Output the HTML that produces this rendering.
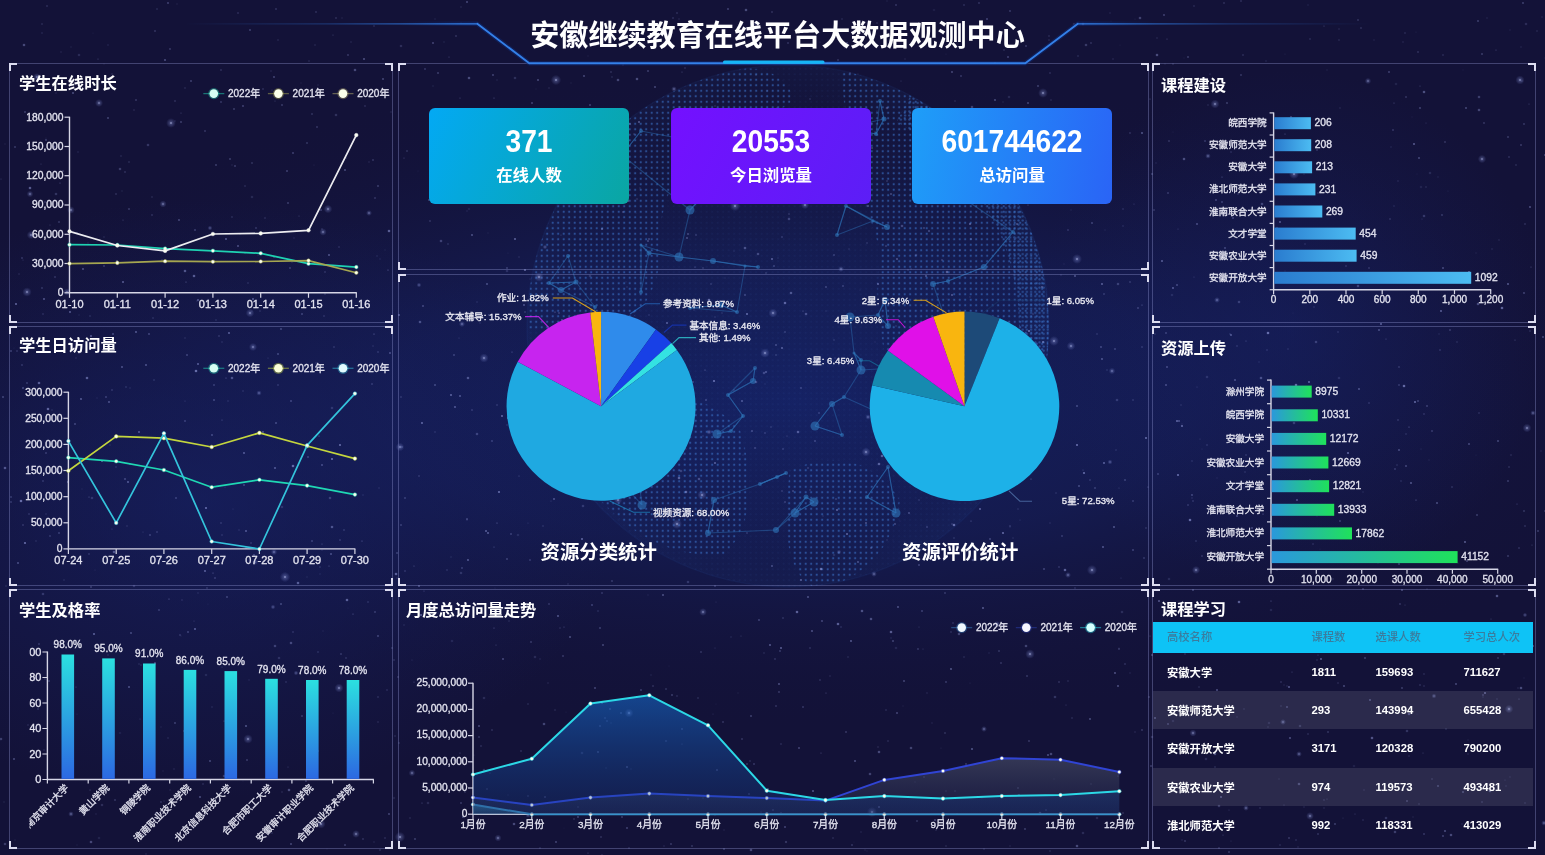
<!DOCTYPE html>
<html lang="zh-CN"><head><meta charset="utf-8"><title>安徽继续教育在线平台大数据观测中心</title>
<style>
*{box-sizing:border-box;margin:0;padding:0}
html,body{width:1545px;height:855px;overflow:hidden;background:#13123a}
body{font-family:"Liberation Sans", "Noto Sans CJK SC", sans-serif;color:#fff;position:relative}
#bg,#charts{position:absolute;left:0;top:0;width:1545px;height:855px;display:block}
.panel{position:absolute;border:1px solid rgba(150,155,215,0.36)}
.panel i{position:absolute;width:8px;height:8px;border:0 solid #dcdcf0}
.panel i.tl{left:-1px;top:-1px;border-left-width:2px;border-top-width:2px}
.panel i.tr{right:-1px;top:-1px;border-right-width:2px;border-top-width:2px}
.panel i.bl{left:-1px;bottom:-1px;border-left-width:2px;border-bottom-width:2px}
.panel i.br{right:-1px;bottom:-1px;border-right-width:2px;border-bottom-width:2px}
.panel h3{position:absolute;left:10px;top:9px;font-size:16.3px;line-height:22px;font-weight:bold;color:#fff;white-space:nowrap}
h1{position:absolute;left:0;top:15.5px;width:1555px;text-align:center;font-size:29.1px;line-height:40px;font-weight:bold;color:#fff;white-space:nowrap}
.card{position:absolute;top:108px;width:200px;height:96px;border-radius:6px;text-align:center;color:#fff;font-weight:bold}
.card b{display:block;font-size:28.2px;line-height:32px;margin-top:16.5px;transform:scaleY(1.085)}
.card span{display:block;font-size:16.4px;line-height:22px;margin-top:7px}
.pt{position:absolute;top:538px;width:200px;text-align:center;font-size:19.4px;line-height:28px;font-weight:bold;color:#fff;white-space:nowrap}
table{position:absolute;left:1153px;top:622px;width:380px;border-collapse:collapse;table-layout:fixed;font-size:11.3px}
th{height:31px;background:#0ec3f6;color:#3a7c9e;padding-bottom:3px;font-weight:500;text-align:left;padding-left:14px}
td{height:38.2px;font-weight:bold;color:#fff;text-align:left;padding-left:14px}
tr.s td{background:rgba(255,255,255,0.10)}
</style></head><body>
<svg id="bg" width="1545" height="855" viewBox="0 0 1545 855"><defs>
<radialGradient id="g0" cx="0" cy="0" r="1" gradientUnits="userSpaceOnUse" gradientTransform="translate(790 400) scale(900 330)">
<stop offset="0" stop-color="#152164" stop-opacity="0.95"/><stop offset="0.45" stop-color="#151e58" stop-opacity="0.7"/><stop offset="1" stop-color="#13123a" stop-opacity="0"/></radialGradient>
<radialGradient id="g1" cx="0" cy="0" r="1" gradientUnits="userSpaceOnUse" gradientTransform="translate(200 500) scale(420 300)">
<stop offset="0" stop-color="#17236a" stop-opacity="0.6"/><stop offset="1" stop-color="#17236a" stop-opacity="0"/></radialGradient>
<radialGradient id="g2" cx="0" cy="0" r="1" gradientUnits="userSpaceOnUse" gradientTransform="translate(1290 330) scale(260 260)">
<stop offset="0" stop-color="#17236a" stop-opacity="0.45"/><stop offset="1" stop-color="#17236a" stop-opacity="0"/></radialGradient>
<radialGradient id="gs" cx="0.5" cy="0.5" r="0.5"><stop offset="0" stop-color="#d4daff" stop-opacity="0.8"/><stop offset="0.3" stop-color="#9aa6ee" stop-opacity="0.3"/><stop offset="1" stop-color="#8090e0" stop-opacity="0"/></radialGradient>
<radialGradient id="gg" cx="788" cy="326" r="262" gradientUnits="userSpaceOnUse">
<stop offset="0" stop-color="#1c4a9a" stop-opacity="0.05"/><stop offset="0.85" stop-color="#1b3f8c" stop-opacity="0.04"/><stop offset="1" stop-color="#2a60b8" stop-opacity="0.07"/></radialGradient>
<pattern id="dots" width="5.5" height="5.5" patternUnits="userSpaceOnUse"><circle cx="2.7" cy="2.7" r="1.1" fill="#3a72cc" fill-opacity="0.55"/></pattern>
<pattern id="dots2" width="5.5" height="5.5" patternUnits="userSpaceOnUse"><circle cx="2.7" cy="2.7" r="0.9" fill="#2f5cb4" fill-opacity="0.10"/></pattern>
<pattern id="dots3" width="4.2" height="4.2" patternUnits="userSpaceOnUse"><circle cx="2.1" cy="2.1" r="1.1" fill="#3d7bd4" fill-opacity="0.5"/></pattern>
<clipPath id="gclip"><circle cx="788" cy="326" r="261"/></clipPath>
</defs><rect width="1545" height="855" fill="#131238"/><rect width="1545" height="855" fill="url(#g0)"/><rect width="1545" height="855" fill="url(#g1)"/><rect width="1545" height="855" fill="url(#g2)"/><g clip-path="url(#gclip)"><circle cx="788" cy="326" r="261" fill="url(#gg)"/><circle cx="788" cy="326" r="261" fill="url(#dots2)"/><g fill="url(#dots)"><path d="M528 330 Q524 230 584 150 Q634 90 714 70 Q784 60 794 100 Q754 130 694 150 Q654 200 660 262 Q650 322 600 334 Z"/><path d="M840 70 Q960 80 1030 190 Q1062 290 1050 380 Q1030 470 990 500 Q930 470 900 400 Q870 330 880 250 Q850 160 840 70 Z"/><path d="M640 400 Q700 385 740 430 Q765 510 725 555 Q655 560 600 500 Q590 430 640 400 Z"/><path d="M790 470 Q860 440 900 500 Q890 570 820 590 Q775 575 790 470 Z"/></g><path d="M910.5 95.6 A261 261 0 0 1 1030.0 423.8 L1002.2 412.5 A231 231 0 0 0 896.4 122.0 Z" fill="url(#dots3)"/></g><circle cx="788" cy="326" r="261" fill="none" stroke="#2f6cc4" stroke-opacity="0.08" stroke-width="1.5"/><g stroke="#2f74b8" stroke-opacity="0.45" stroke-width="1.1" fill="#2f74b8" fill-opacity="0.62"><line x1="743" y1="416" x2="731" y2="431"/><line x1="743" y1="416" x2="728" y2="395"/><line x1="745" y1="266" x2="758" y2="267"/><line x1="745" y1="266" x2="713" y2="261"/><line x1="641" y1="292" x2="649" y2="253"/><line x1="641" y1="292" x2="641" y2="245"/><line x1="953" y1="389" x2="947" y2="364"/><line x1="953" y1="389" x2="933" y2="407"/><line x1="947" y1="364" x2="955" y2="350"/><line x1="947" y1="364" x2="953" y2="389"/><line x1="861" y1="360" x2="861" y2="370"/><line x1="861" y1="360" x2="854" y2="353"/><line x1="589" y1="428" x2="602" y2="431"/><line x1="589" y1="428" x2="611" y2="471"/><line x1="873" y1="410" x2="874" y2="417"/><line x1="873" y1="410" x2="844" y2="397"/><line x1="622" y1="155" x2="641" y2="131"/><line x1="622" y1="155" x2="690" y2="210"/><line x1="649" y1="253" x2="641" y2="245"/><line x1="649" y1="253" x2="679" y2="257"/><line x1="850" y1="317" x2="878" y2="315"/><line x1="850" y1="317" x2="854" y2="353"/><line x1="873" y1="221" x2="887" y2="227"/><line x1="873" y1="221" x2="846" y2="206"/><line x1="844" y1="397" x2="832" y2="404"/><line x1="844" y1="397" x2="861" y2="370"/><line x1="708" y1="533" x2="714" y2="500"/><line x1="708" y1="533" x2="776" y2="530"/><line x1="867" y1="497" x2="896" y2="513"/><line x1="867" y1="497" x2="888" y2="467"/><line x1="690" y1="210" x2="719" y2="179"/><line x1="690" y1="210" x2="679" y2="257"/><line x1="721" y1="305" x2="737" y2="312"/><line x1="721" y1="305" x2="690" y2="308"/><line x1="895" y1="368" x2="919" y2="349"/><line x1="895" y1="368" x2="861" y2="370"/><line x1="719" y1="179" x2="724" y2="147"/><line x1="719" y1="179" x2="690" y2="210"/><line x1="714" y1="500" x2="708" y2="533"/><line x1="714" y1="500" x2="760" y2="484"/><line x1="657" y1="366" x2="620" y2="363"/><line x1="657" y1="366" x2="665" y2="424"/><line x1="845" y1="128" x2="876" y2="134"/><line x1="845" y1="128" x2="884" y2="119"/><line x1="795" y1="513" x2="806" y2="497"/><line x1="795" y1="513" x2="814" y2="502"/><line x1="561" y1="290" x2="549" y2="283"/><line x1="561" y1="290" x2="576" y2="282"/><line x1="771" y1="192" x2="719" y2="179"/><line x1="771" y1="192" x2="805" y2="140"/><line x1="878" y1="315" x2="888" y2="326"/><line x1="878" y1="315" x2="885" y2="300"/><line x1="602" y1="431" x2="589" y2="428"/><line x1="602" y1="431" x2="611" y2="471"/><line x1="888" y1="467" x2="867" y2="497"/><line x1="888" y1="467" x2="896" y2="513"/><line x1="983" y1="375" x2="979" y2="403"/><line x1="983" y1="375" x2="989" y2="404"/><line x1="805" y1="140" x2="845" y2="128"/><line x1="805" y1="140" x2="771" y2="192"/><line x1="887" y1="227" x2="873" y2="221"/><line x1="887" y1="227" x2="846" y2="206"/><line x1="724" y1="147" x2="719" y2="179"/><line x1="724" y1="147" x2="771" y2="192"/><line x1="641" y1="245" x2="649" y2="253"/><line x1="641" y1="245" x2="679" y2="257"/><line x1="916" y1="125" x2="930" y2="128"/><line x1="916" y1="125" x2="921" y2="150"/><line x1="590" y1="359" x2="620" y2="363"/><line x1="590" y1="359" x2="595" y2="307"/><line x1="979" y1="403" x2="989" y2="404"/><line x1="979" y1="403" x2="983" y2="375"/><line x1="641" y1="131" x2="622" y2="155"/><line x1="641" y1="131" x2="724" y2="147"/><line x1="846" y1="206" x2="873" y2="221"/><line x1="846" y1="206" x2="837" y2="235"/><line x1="636" y1="458" x2="661" y2="462"/><line x1="636" y1="458" x2="611" y2="471"/><line x1="955" y1="350" x2="947" y2="364"/><line x1="955" y1="350" x2="949" y2="330"/><line x1="832" y1="404" x2="844" y2="397"/><line x1="832" y1="404" x2="815" y2="426"/><line x1="989" y1="404" x2="979" y2="403"/><line x1="989" y1="404" x2="983" y2="375"/><line x1="874" y1="417" x2="873" y2="410"/><line x1="874" y1="417" x2="909" y2="415"/><line x1="611" y1="471" x2="636" y2="458"/><line x1="611" y1="471" x2="602" y2="431"/><line x1="933" y1="407" x2="909" y2="415"/><line x1="933" y1="407" x2="953" y2="389"/><line x1="568" y1="256" x2="576" y2="282"/><line x1="568" y1="256" x2="549" y2="283"/><line x1="884" y1="119" x2="876" y2="134"/><line x1="884" y1="119" x2="880" y2="101"/><line x1="760" y1="484" x2="777" y2="477"/><line x1="760" y1="484" x2="786" y2="473"/><line x1="642" y1="505" x2="611" y2="471"/><line x1="642" y1="505" x2="636" y2="458"/><line x1="885" y1="300" x2="878" y2="315"/><line x1="885" y1="300" x2="888" y2="326"/><line x1="842" y1="435" x2="815" y2="426"/><line x1="842" y1="435" x2="832" y2="404"/><line x1="806" y1="497" x2="814" y2="502"/><line x1="806" y1="497" x2="795" y2="513"/><line x1="679" y1="257" x2="649" y2="253"/><line x1="679" y1="257" x2="713" y2="261"/><line x1="949" y1="330" x2="955" y2="350"/><line x1="949" y1="330" x2="947" y2="364"/><line x1="661" y1="462" x2="636" y2="458"/><line x1="661" y1="462" x2="665" y2="424"/><line x1="984" y1="267" x2="948" y2="281"/><line x1="984" y1="267" x2="1013" y2="232"/><line x1="595" y1="307" x2="576" y2="282"/><line x1="595" y1="307" x2="561" y2="290"/><line x1="758" y1="267" x2="745" y2="266"/><line x1="758" y1="267" x2="713" y2="261"/><line x1="963" y1="198" x2="943" y2="170"/><line x1="963" y1="198" x2="922" y2="171"/><line x1="943" y1="170" x2="922" y2="171"/><line x1="943" y1="170" x2="921" y2="150"/><line x1="665" y1="424" x2="661" y2="462"/><line x1="665" y1="424" x2="636" y2="458"/><line x1="944" y1="445" x2="933" y2="407"/><line x1="944" y1="445" x2="909" y2="415"/><line x1="854" y1="353" x2="861" y2="360"/><line x1="854" y1="353" x2="861" y2="370"/><line x1="815" y1="426" x2="832" y2="404"/><line x1="815" y1="426" x2="842" y2="435"/><line x1="753" y1="381" x2="755" y2="368"/><line x1="753" y1="381" x2="728" y2="395"/><line x1="888" y1="326" x2="878" y2="315"/><line x1="888" y1="326" x2="885" y2="300"/><line x1="909" y1="415" x2="933" y2="407"/><line x1="909" y1="415" x2="874" y2="417"/><line x1="1014" y1="363" x2="1025" y2="361"/><line x1="1014" y1="363" x2="983" y2="375"/><line x1="713" y1="261" x2="745" y2="266"/><line x1="713" y1="261" x2="679" y2="257"/><line x1="786" y1="473" x2="777" y2="477"/><line x1="786" y1="473" x2="760" y2="484"/><line x1="728" y1="395" x2="743" y2="416"/><line x1="728" y1="395" x2="753" y2="381"/><line x1="930" y1="128" x2="916" y2="125"/><line x1="930" y1="128" x2="921" y2="150"/><line x1="620" y1="363" x2="590" y2="359"/><line x1="620" y1="363" x2="657" y2="366"/><line x1="861" y1="370" x2="861" y2="360"/><line x1="861" y1="370" x2="854" y2="353"/><line x1="717" y1="434" x2="731" y2="431"/><line x1="717" y1="434" x2="743" y2="416"/><line x1="837" y1="235" x2="846" y2="206"/><line x1="837" y1="235" x2="873" y2="221"/><line x1="1025" y1="361" x2="1014" y2="363"/><line x1="1025" y1="361" x2="983" y2="375"/><line x1="690" y1="308" x2="721" y2="305"/><line x1="690" y1="308" x2="737" y2="312"/><line x1="737" y1="312" x2="721" y2="305"/><line x1="737" y1="312" x2="745" y2="266"/><line x1="549" y1="283" x2="561" y2="290"/><line x1="549" y1="283" x2="576" y2="282"/><line x1="922" y1="171" x2="943" y2="170"/><line x1="922" y1="171" x2="921" y2="150"/><line x1="777" y1="477" x2="786" y2="473"/><line x1="777" y1="477" x2="760" y2="484"/><line x1="896" y1="513" x2="867" y2="497"/><line x1="896" y1="513" x2="888" y2="467"/><line x1="576" y1="282" x2="561" y2="290"/><line x1="576" y1="282" x2="549" y2="283"/><line x1="731" y1="431" x2="717" y2="434"/><line x1="731" y1="431" x2="743" y2="416"/><line x1="880" y1="101" x2="884" y2="119"/><line x1="880" y1="101" x2="876" y2="134"/><line x1="921" y1="150" x2="922" y2="171"/><line x1="921" y1="150" x2="930" y2="128"/><line x1="876" y1="134" x2="884" y2="119"/><line x1="876" y1="134" x2="845" y2="128"/><line x1="814" y1="502" x2="806" y2="497"/><line x1="814" y1="502" x2="795" y2="513"/><line x1="755" y1="368" x2="753" y2="381"/><line x1="755" y1="368" x2="728" y2="395"/><line x1="919" y1="349" x2="895" y2="368"/><line x1="919" y1="349" x2="947" y2="364"/><line x1="776" y1="530" x2="795" y2="513"/><line x1="776" y1="530" x2="806" y2="497"/><line x1="948" y1="281" x2="933" y2="284"/><line x1="948" y1="281" x2="984" y2="267"/><line x1="1013" y1="232" x2="984" y2="267"/><line x1="1013" y1="232" x2="963" y2="198"/><line x1="933" y1="284" x2="948" y2="281"/><line x1="933" y1="284" x2="949" y2="330"/><circle cx="743" cy="416" r="2.0" stroke="none"/><circle cx="745" cy="266" r="1.5" stroke="none"/><circle cx="641" cy="292" r="2.0" stroke="none"/><circle cx="953" cy="389" r="2.0" stroke="none"/><circle cx="947" cy="364" r="2.0" stroke="none"/><circle cx="861" cy="360" r="2.0" stroke="none"/><circle cx="589" cy="428" r="2.0" stroke="none"/><circle cx="873" cy="410" r="2.0" stroke="none"/><circle cx="622" cy="155" r="2.5" stroke="none"/><circle cx="649" cy="253" r="2.5" stroke="none"/><circle cx="850" cy="317" r="4.5" stroke="none"/><circle cx="873" cy="221" r="1.5" stroke="none"/><circle cx="844" cy="397" r="2.0" stroke="none"/><circle cx="708" cy="533" r="3.0" stroke="none"/><circle cx="867" cy="497" r="2.0" stroke="none"/><circle cx="690" cy="210" r="4.5" stroke="none"/><circle cx="721" cy="305" r="3.0" stroke="none"/><circle cx="895" cy="368" r="1.5" stroke="none"/><circle cx="719" cy="179" r="4.5" stroke="none"/><circle cx="714" cy="500" r="3.0" stroke="none"/><circle cx="657" cy="366" r="1.5" stroke="none"/><circle cx="845" cy="128" r="2.0" stroke="none"/><circle cx="795" cy="513" r="4.5" stroke="none"/><circle cx="561" cy="290" r="3.0" stroke="none"/><circle cx="771" cy="192" r="4.5" stroke="none"/><circle cx="878" cy="315" r="2.0" stroke="none"/><circle cx="602" cy="431" r="2.0" stroke="none"/><circle cx="888" cy="467" r="2.0" stroke="none"/><circle cx="983" cy="375" r="2.0" stroke="none"/><circle cx="805" cy="140" r="4.5" stroke="none"/><circle cx="887" cy="227" r="3.0" stroke="none"/><circle cx="724" cy="147" r="2.0" stroke="none"/><circle cx="641" cy="245" r="1.5" stroke="none"/><circle cx="916" cy="125" r="4.5" stroke="none"/><circle cx="590" cy="359" r="3.0" stroke="none"/><circle cx="979" cy="403" r="2.0" stroke="none"/><circle cx="641" cy="131" r="2.0" stroke="none"/><circle cx="846" cy="206" r="2.0" stroke="none"/><circle cx="636" cy="458" r="3.0" stroke="none"/><circle cx="955" cy="350" r="1.5" stroke="none"/><circle cx="832" cy="404" r="3.0" stroke="none"/><circle cx="989" cy="404" r="2.0" stroke="none"/><circle cx="874" cy="417" r="2.0" stroke="none"/><circle cx="611" cy="471" r="2.0" stroke="none"/><circle cx="933" cy="407" r="1.5" stroke="none"/><circle cx="568" cy="256" r="2.0" stroke="none"/><circle cx="884" cy="119" r="2.5" stroke="none"/><circle cx="760" cy="484" r="2.0" stroke="none"/><circle cx="642" cy="505" r="4.5" stroke="none"/><circle cx="885" cy="300" r="3.0" stroke="none"/><circle cx="842" cy="435" r="2.0" stroke="none"/><circle cx="806" cy="497" r="2.5" stroke="none"/><circle cx="679" cy="257" r="4.5" stroke="none"/><circle cx="949" cy="330" r="2.5" stroke="none"/><circle cx="661" cy="462" r="2.0" stroke="none"/><circle cx="984" cy="267" r="3.0" stroke="none"/><circle cx="595" cy="307" r="2.0" stroke="none"/><circle cx="758" cy="267" r="2.0" stroke="none"/><circle cx="963" cy="198" r="2.5" stroke="none"/><circle cx="943" cy="170" r="2.5" stroke="none"/><circle cx="665" cy="424" r="2.0" stroke="none"/><circle cx="944" cy="445" r="1.5" stroke="none"/><circle cx="854" cy="353" r="1.5" stroke="none"/><circle cx="815" cy="426" r="4.5" stroke="none"/><circle cx="753" cy="381" r="3.0" stroke="none"/><circle cx="888" cy="326" r="3.0" stroke="none"/><circle cx="909" cy="415" r="1.5" stroke="none"/><circle cx="1014" cy="363" r="2.5" stroke="none"/><circle cx="713" cy="261" r="3.0" stroke="none"/><circle cx="786" cy="473" r="2.0" stroke="none"/><circle cx="728" cy="395" r="2.0" stroke="none"/><circle cx="930" cy="128" r="4.5" stroke="none"/><circle cx="620" cy="363" r="2.0" stroke="none"/><circle cx="861" cy="370" r="4.5" stroke="none"/><circle cx="717" cy="434" r="4.5" stroke="none"/><circle cx="837" cy="235" r="2.0" stroke="none"/><circle cx="1025" cy="361" r="1.5" stroke="none"/><circle cx="690" cy="308" r="2.0" stroke="none"/><circle cx="737" cy="312" r="2.0" stroke="none"/><circle cx="549" cy="283" r="2.0" stroke="none"/><circle cx="922" cy="171" r="2.5" stroke="none"/><circle cx="777" cy="477" r="2.0" stroke="none"/><circle cx="896" cy="513" r="4.5" stroke="none"/><circle cx="576" cy="282" r="2.5" stroke="none"/><circle cx="731" cy="431" r="2.0" stroke="none"/><circle cx="880" cy="101" r="2.0" stroke="none"/><circle cx="921" cy="150" r="2.5" stroke="none"/><circle cx="876" cy="134" r="2.0" stroke="none"/><circle cx="814" cy="502" r="4.5" stroke="none"/><circle cx="755" cy="368" r="2.0" stroke="none"/><circle cx="919" cy="349" r="1.5" stroke="none"/><circle cx="776" cy="530" r="3.0" stroke="none"/><circle cx="948" cy="281" r="2.0" stroke="none"/><circle cx="1013" cy="232" r="2.0" stroke="none"/><circle cx="933" cy="284" r="3.0" stroke="none"/></g><g fill="#a6aef0"><circle cx="699" cy="479" r="1.3" fill-opacity="0.33"/><circle cx="785" cy="502" r="0.7" fill-opacity="0.49"/><circle cx="735" cy="525" r="0.7" fill-opacity="0.14"/><circle cx="469" cy="78" r="1.3" fill-opacity="0.36"/><circle cx="980" cy="509" r="0.9" fill-opacity="0.56"/><circle cx="1010" cy="526" r="0.7" fill-opacity="0.39"/><circle cx="1285" cy="54" r="0.6" fill-opacity="0.13"/><circle cx="374" cy="26" r="0.9" fill-opacity="0.16"/><circle cx="913" cy="167" r="0.7" fill-opacity="0.32"/><circle cx="772" cy="566" r="0.9" fill-opacity="0.39"/><circle cx="628" cy="471" r="1.3" fill-opacity="0.14"/><circle cx="392" cy="648" r="1.0" fill-opacity="0.20"/><circle cx="108" cy="655" r="0.9" fill-opacity="0.12"/><circle cx="449" cy="57" r="0.6" fill-opacity="0.34"/><circle cx="1" cy="179" r="0.6" fill-opacity="0.26"/><circle cx="1515" cy="340" r="0.6" fill-opacity="0.37"/><circle cx="307" cy="577" r="0.8" fill-opacity="0.13"/><circle cx="514" cy="824" r="1.3" fill-opacity="0.35"/><circle cx="208" cy="604" r="0.6" fill-opacity="0.11"/><circle cx="1231" cy="152" r="1.0" fill-opacity="0.14"/><circle cx="786" cy="842" r="1.3" fill-opacity="0.10"/><circle cx="995" cy="100" r="0.9" fill-opacity="0.41"/><circle cx="1" cy="739" r="1.3" fill-opacity="0.28"/><circle cx="1542" cy="17" r="0.7" fill-opacity="0.18"/><circle cx="1320" cy="549" r="0.6" fill-opacity="0.11"/><circle cx="226" cy="378" r="0.6" fill-opacity="0.48"/><circle cx="508" cy="253" r="0.6" fill-opacity="0.12"/><circle cx="322" cy="544" r="0.6" fill-opacity="0.38"/><circle cx="574" cy="387" r="1.0" fill-opacity="0.34"/><circle cx="888" cy="741" r="0.7" fill-opacity="0.29"/><circle cx="480" cy="195" r="1.0" fill-opacity="0.18"/><circle cx="293" cy="632" r="1.0" fill-opacity="0.17"/><circle cx="1468" cy="754" r="1.0" fill-opacity="0.10"/><circle cx="73" cy="93" r="1.0" fill-opacity="0.39"/><circle cx="368" cy="602" r="0.8" fill-opacity="0.27"/><circle cx="1398" cy="420" r="1.0" fill-opacity="0.19"/><circle cx="1113" cy="59" r="0.7" fill-opacity="0.22"/><circle cx="1010" cy="527" r="0.6" fill-opacity="0.23"/><circle cx="1417" cy="174" r="0.6" fill-opacity="0.10"/><circle cx="636" cy="213" r="0.6" fill-opacity="0.15"/><circle cx="570" cy="489" r="0.7" fill-opacity="0.14"/><circle cx="214" cy="385" r="0.8" fill-opacity="0.42"/><circle cx="1068" cy="500" r="0.7" fill-opacity="0.39"/><circle cx="1427" cy="406" r="0.8" fill-opacity="0.45"/><circle cx="1487" cy="18" r="1.1" fill-opacity="0.08"/><circle cx="104" cy="266" r="0.7" fill-opacity="0.53"/><circle cx="116" cy="467" r="1.1" fill-opacity="0.12"/><circle cx="1447" cy="630" r="0.7" fill-opacity="0.42"/><circle cx="1414" cy="301" r="1.1" fill-opacity="0.31"/><circle cx="120" cy="733" r="1.3" fill-opacity="0.08"/><circle cx="772" cy="12" r="1.1" fill-opacity="0.18"/><circle cx="900" cy="521" r="0.6" fill-opacity="0.14"/><circle cx="179" cy="220" r="0.9" fill-opacity="0.38"/><circle cx="600" cy="628" r="1.0" fill-opacity="0.28"/><circle cx="715" cy="463" r="1.0" fill-opacity="0.47"/><circle cx="46" cy="514" r="0.9" fill-opacity="0.11"/><circle cx="1479" cy="97" r="1.3" fill-opacity="0.28"/><circle cx="1422" cy="219" r="0.6" fill-opacity="0.23"/><circle cx="221" cy="523" r="1.0" fill-opacity="0.18"/><circle cx="1399" cy="564" r="0.9" fill-opacity="0.32"/><circle cx="373" cy="346" r="0.8" fill-opacity="0.19"/><circle cx="666" cy="689" r="0.7" fill-opacity="0.41"/><circle cx="594" cy="499" r="0.8" fill-opacity="0.20"/><circle cx="208" cy="300" r="1.3" fill-opacity="0.11"/><circle cx="99" cy="838" r="1.3" fill-opacity="0.11"/><circle cx="696" cy="235" r="0.7" fill-opacity="0.44"/><circle cx="591" cy="445" r="1.1" fill-opacity="0.26"/><circle cx="1296" cy="840" r="0.9" fill-opacity="0.16"/><circle cx="1280" cy="238" r="1.0" fill-opacity="0.10"/><circle cx="1095" cy="488" r="0.8" fill-opacity="0.42"/><circle cx="871" cy="548" r="0.9" fill-opacity="0.31"/><circle cx="38" cy="709" r="0.7" fill-opacity="0.36"/><circle cx="1231" cy="841" r="0.6" fill-opacity="0.20"/><circle cx="973" cy="560" r="1.3" fill-opacity="0.26"/><circle cx="120" cy="169" r="1.3" fill-opacity="0.26"/><circle cx="276" cy="9" r="0.9" fill-opacity="0.23"/><circle cx="56" cy="194" r="1.3" fill-opacity="0.22"/><circle cx="1077" cy="445" r="1.0" fill-opacity="0.60"/><circle cx="246" cy="726" r="1.1" fill-opacity="0.40"/><circle cx="135" cy="797" r="1.1" fill-opacity="0.19"/><circle cx="696" cy="168" r="0.6" fill-opacity="0.22"/><circle cx="879" cy="752" r="1.3" fill-opacity="0.35"/><circle cx="530" cy="279" r="0.7" fill-opacity="0.13"/><circle cx="1338" cy="683" r="1.1" fill-opacity="0.12"/><circle cx="374" cy="334" r="0.6" fill-opacity="0.56"/><circle cx="830" cy="676" r="0.8" fill-opacity="0.18"/><circle cx="1110" cy="13" r="1.0" fill-opacity="0.09"/><circle cx="681" cy="471" r="1.3" fill-opacity="0.24"/><circle cx="1421" cy="187" r="1.3" fill-opacity="0.10"/><circle cx="1236" cy="148" r="0.8" fill-opacity="0.33"/><circle cx="1415" cy="402" r="1.0" fill-opacity="0.55"/><circle cx="801" cy="580" r="0.9" fill-opacity="0.52"/><circle cx="761" cy="812" r="0.6" fill-opacity="0.31"/><circle cx="679" cy="478" r="1.3" fill-opacity="0.46"/><circle cx="987" cy="447" r="1.3" fill-opacity="0.55"/><circle cx="396" cy="574" r="1.3" fill-opacity="0.49"/><circle cx="942" cy="260" r="0.7" fill-opacity="0.51"/><circle cx="810" cy="490" r="0.7" fill-opacity="0.30"/><circle cx="177" cy="4" r="0.9" fill-opacity="0.07"/><circle cx="1498" cy="441" r="0.9" fill-opacity="0.37"/><circle cx="1529" cy="104" r="0.6" fill-opacity="0.31"/><circle cx="102" cy="461" r="0.9" fill-opacity="0.56"/><circle cx="1237" cy="346" r="0.7" fill-opacity="0.33"/><circle cx="196" cy="371" r="1.3" fill-opacity="0.56"/><circle cx="1421" cy="449" r="0.6" fill-opacity="0.20"/><circle cx="955" cy="791" r="0.7" fill-opacity="0.30"/><circle cx="1510" cy="30" r="0.7" fill-opacity="0.13"/><circle cx="1061" cy="275" r="0.8" fill-opacity="0.20"/><circle cx="771" cy="427" r="1.0" fill-opacity="0.16"/><circle cx="789" cy="214" r="0.7" fill-opacity="0.37"/><circle cx="1358" cy="20" r="1.1" fill-opacity="0.19"/><circle cx="818" cy="137" r="0.7" fill-opacity="0.38"/><circle cx="825" cy="187" r="0.7" fill-opacity="0.41"/><circle cx="945" cy="733" r="0.7" fill-opacity="0.40"/><circle cx="970" cy="297" r="0.7" fill-opacity="0.24"/><circle cx="487" cy="789" r="0.7" fill-opacity="0.32"/><circle cx="301" cy="83" r="0.7" fill-opacity="0.11"/><circle cx="136" cy="332" r="0.9" fill-opacity="0.49"/><circle cx="651" cy="675" r="0.7" fill-opacity="0.16"/><circle cx="970" cy="683" r="0.6" fill-opacity="0.15"/><circle cx="1054" cy="779" r="0.8" fill-opacity="0.11"/><circle cx="781" cy="648" r="1.0" fill-opacity="0.49"/><circle cx="1287" cy="686" r="0.9" fill-opacity="0.12"/><circle cx="58" cy="472" r="1.0" fill-opacity="0.55"/><circle cx="744" cy="162" r="0.6" fill-opacity="0.15"/><circle cx="1298" cy="847" r="1.1" fill-opacity="0.09"/><circle cx="96" cy="814" r="0.9" fill-opacity="0.09"/><circle cx="149" cy="334" r="0.9" fill-opacity="0.34"/><circle cx="664" cy="514" r="0.6" fill-opacity="0.40"/><circle cx="63" cy="171" r="0.9" fill-opacity="0.25"/><circle cx="1142" cy="347" r="0.7" fill-opacity="0.39"/><circle cx="146" cy="677" r="0.8" fill-opacity="0.43"/><circle cx="1239" cy="602" r="1.3" fill-opacity="0.48"/><circle cx="1452" cy="487" r="0.7" fill-opacity="0.35"/><circle cx="1518" cy="688" r="0.8" fill-opacity="0.18"/><circle cx="180" cy="635" r="0.7" fill-opacity="0.42"/><circle cx="627" cy="767" r="1.0" fill-opacity="0.30"/><circle cx="1185" cy="654" r="0.9" fill-opacity="0.16"/><circle cx="286" cy="682" r="0.8" fill-opacity="0.26"/><circle cx="16" cy="304" r="1.1" fill-opacity="0.51"/><circle cx="77" cy="233" r="1.1" fill-opacity="0.21"/><circle cx="334" cy="347" r="0.7" fill-opacity="0.35"/><circle cx="602" cy="855" r="1.1" fill-opacity="0.13"/><circle cx="185" cy="338" r="1.0" fill-opacity="0.11"/><circle cx="951" cy="632" r="0.8" fill-opacity="0.27"/><circle cx="780" cy="651" r="1.1" fill-opacity="0.23"/><circle cx="152" cy="215" r="0.8" fill-opacity="0.31"/><circle cx="785" cy="827" r="1.0" fill-opacity="0.33"/><circle cx="154" cy="380" r="1.1" fill-opacity="0.14"/><circle cx="923" cy="649" r="0.6" fill-opacity="0.24"/><circle cx="1450" cy="330" r="0.7" fill-opacity="0.50"/><circle cx="837" cy="510" r="0.9" fill-opacity="0.55"/><circle cx="650" cy="450" r="1.0" fill-opacity="0.26"/><circle cx="819" cy="413" r="0.8" fill-opacity="0.38"/><circle cx="438" cy="613" r="0.8" fill-opacity="0.10"/><circle cx="1193" cy="501" r="1.1" fill-opacity="0.17"/><circle cx="1166" cy="333" r="0.8" fill-opacity="0.45"/><circle cx="77" cy="845" r="0.8" fill-opacity="0.08"/><circle cx="1399" cy="367" r="0.9" fill-opacity="0.22"/><circle cx="1167" cy="39" r="0.6" fill-opacity="0.36"/><circle cx="1117" cy="400" r="1.3" fill-opacity="0.22"/><circle cx="1091" cy="43" r="0.9" fill-opacity="0.21"/><circle cx="315" cy="45" r="1.0" fill-opacity="0.11"/><circle cx="561" cy="120" r="0.9" fill-opacity="0.23"/><circle cx="405" cy="498" r="0.9" fill-opacity="0.28"/><circle cx="1149" cy="697" r="0.7" fill-opacity="0.43"/><circle cx="1134" cy="204" r="0.6" fill-opacity="0.28"/><circle cx="477" cy="434" r="1.3" fill-opacity="0.28"/><circle cx="419" cy="586" r="1.0" fill-opacity="0.40"/><circle cx="294" cy="238" r="0.7" fill-opacity="0.17"/><circle cx="385" cy="838" r="0.7" fill-opacity="0.33"/><circle cx="61" cy="52" r="0.8" fill-opacity="0.15"/><circle cx="42" cy="33" r="0.7" fill-opacity="0.23"/><circle cx="112" cy="74" r="1.1" fill-opacity="0.12"/><circle cx="363" cy="839" r="0.9" fill-opacity="0.21"/><circle cx="325" cy="294" r="1.1" fill-opacity="0.15"/><circle cx="1344" cy="686" r="0.9" fill-opacity="0.39"/><circle cx="964" cy="657" r="0.7" fill-opacity="0.26"/><circle cx="1155" cy="334" r="0.7" fill-opacity="0.27"/><circle cx="1010" cy="846" r="0.8" fill-opacity="0.15"/><circle cx="1173" cy="706" r="0.7" fill-opacity="0.23"/><circle cx="571" cy="83" r="0.8" fill-opacity="0.09"/><circle cx="128" cy="482" r="0.9" fill-opacity="0.50"/><circle cx="716" cy="704" r="0.6" fill-opacity="0.10"/><circle cx="329" cy="566" r="0.6" fill-opacity="0.41"/><circle cx="764" cy="653" r="0.8" fill-opacity="0.20"/><circle cx="221" cy="306" r="1.1" fill-opacity="0.24"/><circle cx="1400" cy="276" r="0.9" fill-opacity="0.34"/><circle cx="1419" cy="804" r="0.8" fill-opacity="0.21"/><circle cx="1241" cy="261" r="0.8" fill-opacity="0.18"/><circle cx="1495" cy="624" r="1.0" fill-opacity="0.19"/><circle cx="559" cy="313" r="0.8" fill-opacity="0.41"/><circle cx="904" cy="681" r="1.1" fill-opacity="0.30"/><circle cx="1231" cy="462" r="1.3" fill-opacity="0.39"/><circle cx="274" cy="77" r="0.9" fill-opacity="0.36"/><circle cx="435" cy="19" r="1.0" fill-opacity="0.08"/><circle cx="245" cy="253" r="0.6" fill-opacity="0.37"/><circle cx="1243" cy="55" r="1.0" fill-opacity="0.16"/><circle cx="843" cy="286" r="0.8" fill-opacity="0.43"/><circle cx="1389" cy="72" r="1.1" fill-opacity="0.28"/><circle cx="151" cy="698" r="0.9" fill-opacity="0.17"/><circle cx="341" cy="654" r="1.0" fill-opacity="0.22"/><circle cx="709" cy="300" r="1.3" fill-opacity="0.54"/><circle cx="1039" cy="422" r="1.0" fill-opacity="0.50"/><circle cx="112" cy="529" r="0.6" fill-opacity="0.29"/><circle cx="1277" cy="570" r="1.3" fill-opacity="0.09"/><circle cx="584" cy="76" r="0.9" fill-opacity="0.38"/><circle cx="989" cy="448" r="1.1" fill-opacity="0.10"/><circle cx="170" cy="790" r="0.7" fill-opacity="0.15"/><circle cx="251" cy="543" r="1.1" fill-opacity="0.17"/><circle cx="316" cy="363" r="0.8" fill-opacity="0.23"/><circle cx="1369" cy="403" r="1.1" fill-opacity="0.16"/><circle cx="1001" cy="663" r="0.7" fill-opacity="0.44"/><circle cx="1164" cy="15" r="0.9" fill-opacity="0.34"/><circle cx="56" cy="93" r="0.7" fill-opacity="0.19"/><circle cx="909" cy="513" r="0.9" fill-opacity="0.38"/><circle cx="346" cy="158" r="0.8" fill-opacity="0.23"/><circle cx="1407" cy="801" r="1.1" fill-opacity="0.24"/><circle cx="1262" cy="410" r="0.8" fill-opacity="0.34"/><circle cx="622" cy="817" r="1.1" fill-opacity="0.24"/><circle cx="1479" cy="413" r="0.7" fill-opacity="0.30"/><circle cx="336" cy="115" r="1.3" fill-opacity="0.20"/><circle cx="815" cy="441" r="0.8" fill-opacity="0.49"/><circle cx="90" cy="790" r="0.6" fill-opacity="0.35"/><circle cx="1399" cy="385" r="0.7" fill-opacity="0.45"/><circle cx="936" cy="134" r="0.7" fill-opacity="0.35"/><circle cx="224" cy="776" r="1.3" fill-opacity="0.24"/><circle cx="984" cy="849" r="0.8" fill-opacity="0.22"/><circle cx="82" cy="489" r="0.7" fill-opacity="0.10"/><circle cx="1269" cy="723" r="1.3" fill-opacity="0.12"/><circle cx="543" cy="526" r="1.0" fill-opacity="0.14"/><circle cx="742" cy="401" r="1.1" fill-opacity="0.39"/><circle cx="1325" cy="260" r="1.3" fill-opacity="0.17"/><circle cx="298" cy="583" r="1.3" fill-opacity="0.46"/><circle cx="322" cy="465" r="1.0" fill-opacity="0.35"/><circle cx="1462" cy="824" r="0.8" fill-opacity="0.16"/><circle cx="117" cy="261" r="0.9" fill-opacity="0.38"/><circle cx="104" cy="64" r="0.7" fill-opacity="0.10"/><circle cx="609" cy="395" r="1.3" fill-opacity="0.51"/><circle cx="1010" cy="11" r="0.9" fill-opacity="0.28"/><circle cx="734" cy="251" r="0.6" fill-opacity="0.28"/><circle cx="16" cy="848" r="1.3" fill-opacity="0.28"/><circle cx="1393" cy="130" r="1.1" fill-opacity="0.21"/><circle cx="834" cy="255" r="0.8" fill-opacity="0.42"/><circle cx="858" cy="74" r="0.7" fill-opacity="0.13"/><circle cx="1130" cy="282" r="0.8" fill-opacity="0.34"/><circle cx="1118" cy="284" r="1.3" fill-opacity="0.26"/><circle cx="157" cy="532" r="0.7" fill-opacity="0.42"/><circle cx="1094" cy="154" r="0.9" fill-opacity="0.09"/><circle cx="716" cy="602" r="0.6" fill-opacity="0.19"/><circle cx="243" cy="106" r="0.9" fill-opacity="0.34"/><circle cx="528" cy="704" r="1.0" fill-opacity="0.13"/><circle cx="317" cy="127" r="1.1" fill-opacity="0.21"/><circle cx="512" cy="352" r="0.6" fill-opacity="0.45"/><circle cx="947" cy="272" r="1.3" fill-opacity="0.44"/><circle cx="1020" cy="520" r="0.6" fill-opacity="0.22"/><circle cx="292" cy="262" r="0.9" fill-opacity="0.13"/><circle cx="583" cy="436" r="1.3" fill-opacity="0.25"/><circle cx="159" cy="610" r="0.8" fill-opacity="0.42"/><circle cx="1395" cy="469" r="0.8" fill-opacity="0.40"/><circle cx="793" cy="491" r="0.7" fill-opacity="0.58"/><circle cx="797" cy="612" r="1.3" fill-opacity="0.49"/><circle cx="877" cy="23" r="1.1" fill-opacity="0.12"/><circle cx="129" cy="209" r="1.0" fill-opacity="0.25"/><circle cx="515" cy="78" r="1.3" fill-opacity="0.19"/><circle cx="715" cy="106" r="1.1" fill-opacity="0.12"/><circle cx="1397" cy="465" r="1.0" fill-opacity="0.13"/><circle cx="1414" cy="144" r="1.1" fill-opacity="0.44"/><circle cx="1263" cy="514" r="0.6" fill-opacity="0.55"/><circle cx="6" cy="586" r="0.8" fill-opacity="0.20"/><circle cx="886" cy="710" r="0.7" fill-opacity="0.29"/><circle cx="1253" cy="388" r="0.9" fill-opacity="0.19"/><circle cx="1525" cy="803" r="1.1" fill-opacity="0.11"/><circle cx="1168" cy="724" r="0.9" fill-opacity="0.29"/><circle cx="989" cy="653" r="0.7" fill-opacity="0.16"/><circle cx="723" cy="122" r="0.9" fill-opacity="0.11"/><circle cx="627" cy="287" r="0.7" fill-opacity="0.21"/><circle cx="878" cy="284" r="1.1" fill-opacity="0.45"/><circle cx="1115" cy="673" r="0.9" fill-opacity="0.45"/><circle cx="927" cy="402" r="0.9" fill-opacity="0.55"/><circle cx="1411" cy="483" r="0.9" fill-opacity="0.47"/><circle cx="751" cy="850" r="1.3" fill-opacity="0.34"/><circle cx="1066" cy="705" r="0.6" fill-opacity="0.28"/><circle cx="1399" cy="450" r="1.0" fill-opacity="0.36"/><circle cx="649" cy="21" r="0.6" fill-opacity="0.15"/><circle cx="952" cy="370" r="0.9" fill-opacity="0.39"/><circle cx="1162" cy="261" r="1.0" fill-opacity="0.47"/><circle cx="378" cy="722" r="0.7" fill-opacity="0.25"/><circle cx="613" cy="44" r="1.1" fill-opacity="0.10"/><circle cx="1406" cy="466" r="1.1" fill-opacity="0.30"/><circle cx="364" cy="59" r="1.1" fill-opacity="0.38"/><circle cx="1029" cy="741" r="0.9" fill-opacity="0.27"/><circle cx="254" cy="555" r="0.9" fill-opacity="0.36"/><circle cx="1396" cy="84" r="1.3" fill-opacity="0.11"/><circle cx="1363" cy="492" r="0.9" fill-opacity="0.10"/><circle cx="377" cy="256" r="0.8" fill-opacity="0.16"/><circle cx="681" cy="385" r="1.0" fill-opacity="0.30"/><circle cx="551" cy="501" r="0.6" fill-opacity="0.25"/><circle cx="703" cy="268" r="0.8" fill-opacity="0.31"/><circle cx="1443" cy="836" r="0.9" fill-opacity="0.34"/><circle cx="313" cy="734" r="1.1" fill-opacity="0.39"/><circle cx="302" cy="716" r="0.8" fill-opacity="0.40"/><circle cx="25" cy="543" r="1.1" fill-opacity="0.56"/><circle cx="312" cy="541" r="0.7" fill-opacity="0.54"/><circle cx="1508" cy="556" r="0.8" fill-opacity="0.43"/><circle cx="484" cy="770" r="1.3" fill-opacity="0.21"/><circle cx="1358" cy="286" r="1.3" fill-opacity="0.29"/><circle cx="122" cy="191" r="0.8" fill-opacity="0.13"/><circle cx="1068" cy="230" r="1.1" fill-opacity="0.18"/><circle cx="1027" cy="676" r="0.8" fill-opacity="0.39"/><circle cx="810" cy="99" r="1.0" fill-opacity="0.15"/><circle cx="465" cy="792" r="1.1" fill-opacity="0.14"/><circle cx="205" cy="571" r="0.9" fill-opacity="0.54"/><circle cx="680" cy="452" r="1.0" fill-opacity="0.55"/><circle cx="11" cy="502" r="1.0" fill-opacity="0.22"/><circle cx="1241" cy="75" r="0.8" fill-opacity="0.39"/><circle cx="293" cy="153" r="1.1" fill-opacity="0.28"/><circle cx="288" cy="767" r="0.6" fill-opacity="0.28"/><circle cx="1416" cy="500" r="0.6" fill-opacity="0.55"/><circle cx="772" cy="154" r="1.0" fill-opacity="0.36"/><circle cx="1405" cy="274" r="0.9" fill-opacity="0.44"/><circle cx="798" cy="432" r="1.3" fill-opacity="0.42"/><circle cx="1519" cy="636" r="1.0" fill-opacity="0.16"/><circle cx="1205" cy="141" r="1.0" fill-opacity="0.23"/><circle cx="1033" cy="468" r="0.8" fill-opacity="0.49"/><circle cx="1222" cy="202" r="0.9" fill-opacity="0.30"/><circle cx="1317" cy="516" r="0.8" fill-opacity="0.11"/><circle cx="922" cy="611" r="1.0" fill-opacity="0.28"/><circle cx="1361" cy="278" r="1.0" fill-opacity="0.10"/><circle cx="766" cy="372" r="0.9" fill-opacity="0.45"/><circle cx="1324" cy="26" r="0.6" fill-opacity="0.35"/><circle cx="879" cy="464" r="1.3" fill-opacity="0.46"/><circle cx="963" cy="46" r="0.9" fill-opacity="0.08"/><circle cx="486" cy="531" r="1.0" fill-opacity="0.47"/><circle cx="1182" cy="426" r="1.1" fill-opacity="0.51"/><circle cx="265" cy="218" r="0.7" fill-opacity="0.29"/><circle cx="1018" cy="509" r="0.9" fill-opacity="0.13"/><circle cx="634" cy="312" r="0.7" fill-opacity="0.42"/><circle cx="1479" cy="110" r="1.3" fill-opacity="0.33"/><circle cx="1524" cy="124" r="0.9" fill-opacity="0.26"/><circle cx="1523" cy="3" r="0.9" fill-opacity="0.33"/><circle cx="219" cy="336" r="0.8" fill-opacity="0.32"/><circle cx="1445" cy="831" r="1.1" fill-opacity="0.37"/><circle cx="1179" cy="628" r="0.7" fill-opacity="0.21"/><circle cx="184" cy="731" r="0.9" fill-opacity="0.24"/><circle cx="1441" cy="311" r="0.8" fill-opacity="0.54"/><circle cx="1426" cy="187" r="0.7" fill-opacity="0.24"/><circle cx="1004" cy="50" r="0.8" fill-opacity="0.25"/><circle cx="1409" cy="756" r="0.7" fill-opacity="0.23"/><circle cx="607" cy="721" r="0.9" fill-opacity="0.21"/><circle cx="76" cy="358" r="0.7" fill-opacity="0.19"/><circle cx="849" cy="140" r="0.7" fill-opacity="0.22"/><circle cx="918" cy="649" r="0.9" fill-opacity="0.26"/><circle cx="1535" cy="581" r="1.3" fill-opacity="0.31"/><circle cx="835" cy="358" r="0.6" fill-opacity="0.43"/><circle cx="561" cy="235" r="0.6" fill-opacity="0.30"/><circle cx="1146" cy="438" r="1.0" fill-opacity="0.56"/><circle cx="1105" cy="230" r="0.8" fill-opacity="0.11"/><circle cx="1125" cy="664" r="0.7" fill-opacity="0.38"/><circle cx="1118" cy="776" r="0.6" fill-opacity="0.40"/><circle cx="1296" cy="385" r="1.3" fill-opacity="0.54"/><circle cx="503" cy="659" r="1.0" fill-opacity="0.35"/><circle cx="467" cy="520" r="0.9" fill-opacity="0.12"/><circle cx="233" cy="509" r="0.6" fill-opacity="0.20"/><circle cx="635" cy="409" r="1.1" fill-opacity="0.17"/><circle cx="1092" cy="223" r="1.1" fill-opacity="0.27"/><circle cx="582" cy="753" r="1.3" fill-opacity="0.17"/><circle cx="1101" cy="347" r="0.9" fill-opacity="0.35"/><circle cx="549" cy="88" r="0.8" fill-opacity="0.18"/><circle cx="333" cy="35" r="0.6" fill-opacity="0.30"/><circle cx="746" cy="10" r="1.3" fill-opacity="0.36"/><circle cx="461" cy="573" r="1.3" fill-opacity="0.19"/><circle cx="1065" cy="570" r="1.3" fill-opacity="0.49"/><circle cx="362" cy="541" r="0.6" fill-opacity="0.47"/><circle cx="185" cy="421" r="0.9" fill-opacity="0.29"/><circle cx="507" cy="425" r="0.8" fill-opacity="0.21"/><circle cx="1430" cy="173" r="1.3" fill-opacity="0.14"/><circle cx="1028" cy="205" r="0.6" fill-opacity="0.38"/><circle cx="1402" cy="688" r="0.9" fill-opacity="0.30"/><circle cx="1084" cy="473" r="1.1" fill-opacity="0.55"/><circle cx="1394" cy="103" r="0.6" fill-opacity="0.38"/><circle cx="420" cy="322" r="1.3" fill-opacity="0.37"/><circle cx="725" cy="278" r="0.8" fill-opacity="0.12"/><circle cx="55" cy="277" r="0.8" fill-opacity="0.34"/><circle cx="405" cy="571" r="0.7" fill-opacity="0.38"/><circle cx="594" cy="292" r="0.8" fill-opacity="0.11"/><circle cx="1093" cy="185" r="0.6" fill-opacity="0.32"/><circle cx="959" cy="351" r="0.9" fill-opacity="0.13"/><circle cx="106" cy="397" r="0.9" fill-opacity="0.29"/><circle cx="1405" cy="33" r="0.7" fill-opacity="0.28"/><circle cx="422" cy="423" r="0.9" fill-opacity="0.59"/><circle cx="232" cy="165" r="0.7" fill-opacity="0.17"/><circle cx="340" cy="445" r="1.0" fill-opacity="0.59"/><circle cx="5" cy="468" r="1.3" fill-opacity="0.42"/><circle cx="847" cy="534" r="1.0" fill-opacity="0.51"/><circle cx="1068" cy="681" r="0.8" fill-opacity="0.21"/><circle cx="1369" cy="268" r="1.1" fill-opacity="0.18"/><circle cx="612" cy="134" r="0.7" fill-opacity="0.37"/><circle cx="246" cy="531" r="0.9" fill-opacity="0.48"/><circle cx="454" cy="355" r="0.8" fill-opacity="0.46"/><circle cx="825" cy="203" r="0.7" fill-opacity="0.23"/><circle cx="1091" cy="784" r="1.1" fill-opacity="0.11"/><circle cx="98" cy="59" r="0.6" fill-opacity="0.35"/><circle cx="479" cy="726" r="1.0" fill-opacity="0.35"/><circle cx="743" cy="139" r="1.3" fill-opacity="0.22"/><circle cx="745" cy="295" r="0.9" fill-opacity="0.32"/><circle cx="1231" cy="335" r="1.1" fill-opacity="0.40"/><circle cx="568" cy="584" r="0.7" fill-opacity="0.24"/><circle cx="1173" cy="721" r="1.3" fill-opacity="0.12"/><circle cx="1519" cy="548" r="0.7" fill-opacity="0.38"/><circle cx="1284" cy="685" r="0.7" fill-opacity="0.15"/><circle cx="960" cy="250" r="1.1" fill-opacity="0.17"/><circle cx="21" cy="501" r="1.3" fill-opacity="0.57"/><circle cx="207" cy="588" r="0.9" fill-opacity="0.20"/><circle cx="1029" cy="331" r="1.1" fill-opacity="0.57"/><circle cx="75" cy="610" r="0.6" fill-opacity="0.46"/><circle cx="299" cy="305" r="1.0" fill-opacity="0.55"/><circle cx="186" cy="282" r="0.6" fill-opacity="0.47"/><circle cx="1322" cy="146" r="0.6" fill-opacity="0.19"/><circle cx="1237" cy="717" r="0.8" fill-opacity="0.15"/><circle cx="1115" cy="349" r="0.7" fill-opacity="0.57"/><circle cx="602" cy="593" r="1.0" fill-opacity="0.21"/><circle cx="1339" cy="378" r="1.3" fill-opacity="0.15"/><circle cx="1442" cy="215" r="0.9" fill-opacity="0.26"/><circle cx="235" cy="756" r="0.8" fill-opacity="0.26"/><circle cx="222" cy="535" r="0.8" fill-opacity="0.25"/><circle cx="125" cy="172" r="1.0" fill-opacity="0.18"/><circle cx="79" cy="55" r="1.3" fill-opacity="0.16"/><circle cx="121" cy="156" r="0.9" fill-opacity="0.13"/><circle cx="1219" cy="848" r="0.9" fill-opacity="0.21"/><circle cx="641" cy="690" r="0.9" fill-opacity="0.29"/><circle cx="332" cy="527" r="1.3" fill-opacity="0.39"/><circle cx="428" cy="803" r="1.3" fill-opacity="0.15"/><circle cx="1244" cy="488" r="1.1" fill-opacity="0.12"/><circle cx="1324" cy="808" r="1.0" fill-opacity="0.10"/><circle cx="115" cy="307" r="1.3" fill-opacity="0.35"/><circle cx="97" cy="398" r="0.7" fill-opacity="0.13"/><circle cx="563" cy="656" r="0.8" fill-opacity="0.41"/><circle cx="1224" cy="629" r="0.9" fill-opacity="0.21"/><circle cx="821" cy="569" r="1.3" fill-opacity="0.54"/><circle cx="156" cy="813" r="0.9" fill-opacity="0.33"/><circle cx="631" cy="769" r="1.0" fill-opacity="0.08"/><circle cx="891" cy="194" r="0.9" fill-opacity="0.37"/><circle cx="782" cy="237" r="0.8" fill-opacity="0.35"/><circle cx="695" cy="267" r="0.6" fill-opacity="0.49"/><circle cx="497" cy="80" r="0.8" fill-opacity="0.14"/><circle cx="278" cy="40" r="0.7" fill-opacity="0.24"/><circle cx="1051" cy="152" r="0.6" fill-opacity="0.13"/><circle cx="576" cy="156" r="0.6" fill-opacity="0.08"/><circle cx="776" cy="345" r="0.8" fill-opacity="0.56"/><circle cx="1298" cy="651" r="0.6" fill-opacity="0.44"/><circle cx="496" cy="645" r="0.6" fill-opacity="0.32"/><circle cx="497" cy="405" r="0.7" fill-opacity="0.35"/><circle cx="1206" cy="759" r="1.3" fill-opacity="0.16"/><circle cx="1046" cy="810" r="0.8" fill-opacity="0.35"/><circle cx="1202" cy="449" r="0.6" fill-opacity="0.17"/><circle cx="981" cy="323" r="1.1" fill-opacity="0.12"/><circle cx="952" cy="295" r="0.9" fill-opacity="0.48"/><circle cx="971" cy="432" r="1.0" fill-opacity="0.56"/><circle cx="188" cy="632" r="1.1" fill-opacity="0.27"/><circle cx="1028" cy="359" r="0.9" fill-opacity="0.34"/><circle cx="580" cy="463" r="0.6" fill-opacity="0.36"/><circle cx="50" cy="536" r="0.9" fill-opacity="0.23"/><circle cx="71" cy="47" r="0.8" fill-opacity="0.11"/><circle cx="724" cy="849" r="1.1" fill-opacity="0.25"/><circle cx="291" cy="401" r="1.0" fill-opacity="0.30"/><circle cx="1340" cy="108" r="0.9" fill-opacity="0.11"/><circle cx="289" cy="790" r="1.3" fill-opacity="0.37"/><circle cx="1281" cy="682" r="1.0" fill-opacity="0.17"/><circle cx="404" cy="158" r="0.6" fill-opacity="0.34"/><circle cx="387" cy="690" r="0.9" fill-opacity="0.16"/><circle cx="22" cy="365" r="0.9" fill-opacity="0.23"/><circle cx="995" cy="63" r="1.0" fill-opacity="0.21"/><circle cx="1170" cy="750" r="0.6" fill-opacity="0.35"/><circle cx="1321" cy="659" r="1.0" fill-opacity="0.47"/><circle cx="102" cy="805" r="1.3" fill-opacity="0.18"/><circle cx="155" cy="31" r="0.8" fill-opacity="0.36"/><circle cx="339" cy="247" r="0.9" fill-opacity="0.16"/><circle cx="600" cy="726" r="1.0" fill-opacity="0.24"/><circle cx="756" cy="75" r="1.1" fill-opacity="0.13"/><circle cx="972" cy="749" r="1.1" fill-opacity="0.41"/><circle cx="865" cy="850" r="0.9" fill-opacity="0.07"/><circle cx="525" cy="270" r="1.1" fill-opacity="0.51"/><circle cx="1017" cy="178" r="0.7" fill-opacity="0.15"/><circle cx="198" cy="593" r="0.9" fill-opacity="0.11"/><circle cx="430" cy="221" r="0.8" fill-opacity="0.33"/><circle cx="552" cy="168" r="0.6" fill-opacity="0.34"/><circle cx="1138" cy="308" r="0.8" fill-opacity="0.45"/><circle cx="309" cy="61" r="0.8" fill-opacity="0.20"/><circle cx="1267" cy="350" r="0.9" fill-opacity="0.16"/><circle cx="191" cy="81" r="1.0" fill-opacity="0.30"/><circle cx="363" cy="495" r="0.8" fill-opacity="0.16"/><circle cx="1355" cy="814" r="0.6" fill-opacity="0.28"/><circle cx="703" cy="798" r="0.9" fill-opacity="0.13"/><circle cx="640" cy="188" r="1.1" fill-opacity="0.10"/><circle cx="648" cy="241" r="0.9" fill-opacity="0.37"/><circle cx="414" cy="566" r="0.6" fill-opacity="0.40"/><circle cx="378" cy="352" r="0.7" fill-opacity="0.38"/><circle cx="1338" cy="332" r="0.8" fill-opacity="0.26"/><circle cx="1268" cy="727" r="1.0" fill-opacity="0.11"/><circle cx="1016" cy="387" r="0.7" fill-opacity="0.14"/><circle cx="562" cy="320" r="1.1" fill-opacity="0.37"/><circle cx="1077" cy="846" r="1.3" fill-opacity="0.35"/><circle cx="36" cy="541" r="0.9" fill-opacity="0.13"/><circle cx="263" cy="432" r="0.9" fill-opacity="0.44"/><circle cx="936" cy="830" r="0.6" fill-opacity="0.37"/><circle cx="610" cy="709" r="1.1" fill-opacity="0.27"/><circle cx="170" cy="49" r="0.9" fill-opacity="0.27"/><circle cx="1221" cy="797" r="1.0" fill-opacity="0.39"/><circle cx="324" cy="316" r="0.7" fill-opacity="0.34"/><circle cx="148" cy="679" r="0.6" fill-opacity="0.14"/><circle cx="1003" cy="533" r="1.1" fill-opacity="0.53"/><circle cx="1025" cy="829" r="0.9" fill-opacity="0.31"/><circle cx="185" cy="401" r="0.6" fill-opacity="0.28"/><circle cx="566" cy="712" r="0.6" fill-opacity="0.11"/><circle cx="638" cy="480" r="0.6" fill-opacity="0.48"/><circle cx="146" cy="854" r="1.0" fill-opacity="0.10"/><circle cx="877" cy="111" r="0.6" fill-opacity="0.25"/><circle cx="477" cy="302" r="0.7" fill-opacity="0.21"/><circle cx="640" cy="46" r="0.7" fill-opacity="0.25"/><circle cx="263" cy="89" r="0.7" fill-opacity="0.35"/><circle cx="161" cy="727" r="0.7" fill-opacity="0.12"/><circle cx="872" cy="148" r="1.0" fill-opacity="0.30"/><circle cx="1335" cy="824" r="0.9" fill-opacity="0.32"/><circle cx="354" cy="682" r="0.6" fill-opacity="0.36"/><circle cx="1101" cy="134" r="1.0" fill-opacity="0.29"/><circle cx="626" cy="422" r="1.0" fill-opacity="0.42"/><circle cx="1310" cy="39" r="0.9" fill-opacity="0.16"/><circle cx="332" cy="459" r="1.1" fill-opacity="0.56"/><circle cx="508" cy="418" r="1.1" fill-opacity="0.60"/><circle cx="865" cy="118" r="1.0" fill-opacity="0.40"/><circle cx="150" cy="535" r="0.8" fill-opacity="0.45"/><circle cx="399" cy="315" r="0.9" fill-opacity="0.47"/><circle cx="594" cy="555" r="0.8" fill-opacity="0.30"/><circle cx="77" cy="714" r="0.6" fill-opacity="0.13"/><circle cx="590" cy="276" r="1.3" fill-opacity="0.19"/><circle cx="153" cy="318" r="0.8" fill-opacity="0.26"/><circle cx="1469" cy="444" r="1.0" fill-opacity="0.34"/><circle cx="14" cy="348" r="0.6" fill-opacity="0.10"/><circle cx="917" cy="821" r="0.8" fill-opacity="0.37"/><circle cx="1072" cy="718" r="0.7" fill-opacity="0.29"/><circle cx="911" cy="269" r="0.9" fill-opacity="0.14"/><circle cx="1172" cy="295" r="1.3" fill-opacity="0.13"/><circle cx="389" cy="231" r="1.3" fill-opacity="0.48"/><circle cx="1000" cy="319" r="0.6" fill-opacity="0.23"/><circle cx="1050" cy="73" r="0.7" fill-opacity="0.34"/><circle cx="507" cy="271" r="1.3" fill-opacity="0.16"/><circle cx="441" cy="241" r="1.3" fill-opacity="0.29"/><circle cx="611" cy="72" r="0.7" fill-opacity="0.37"/><circle cx="987" cy="19" r="1.1" fill-opacity="0.29"/><circle cx="896" cy="5" r="1.1" fill-opacity="0.21"/><circle cx="518" cy="535" r="1.3" fill-opacity="0.13"/><circle cx="1207" cy="377" r="1.3" fill-opacity="0.17"/><circle cx="1169" cy="579" r="1.3" fill-opacity="0.14"/><circle cx="494" cy="628" r="0.6" fill-opacity="0.44"/><circle cx="1478" cy="304" r="1.3" fill-opacity="0.35"/><circle cx="175" cy="101" r="0.8" fill-opacity="0.31"/><circle cx="1009" cy="97" r="1.3" fill-opacity="0.14"/><circle cx="641" cy="459" r="1.3" fill-opacity="0.57"/><circle cx="240" cy="234" r="0.9" fill-opacity="0.10"/><circle cx="667" cy="323" r="1.1" fill-opacity="0.43"/><circle cx="764" cy="373" r="1.3" fill-opacity="0.29"/><circle cx="1203" cy="90" r="1.1" fill-opacity="0.36"/><circle cx="1194" cy="277" r="0.6" fill-opacity="0.25"/><circle cx="253" cy="299" r="1.0" fill-opacity="0.46"/><circle cx="1056" cy="387" r="1.0" fill-opacity="0.52"/><circle cx="554" cy="499" r="0.9" fill-opacity="0.44"/><circle cx="612" cy="77" r="0.9" fill-opacity="0.14"/><circle cx="404" cy="625" r="1.0" fill-opacity="0.10"/><circle cx="1424" cy="686" r="0.8" fill-opacity="0.22"/><circle cx="1107" cy="370" r="1.0" fill-opacity="0.13"/><circle cx="278" cy="354" r="1.0" fill-opacity="0.32"/><circle cx="752" cy="198" r="1.3" fill-opacity="0.33"/><circle cx="1050" cy="428" r="0.7" fill-opacity="0.12"/><circle cx="1079" cy="486" r="1.0" fill-opacity="0.34"/><circle cx="756" cy="382" r="1.3" fill-opacity="0.28"/><circle cx="467" cy="211" r="0.7" fill-opacity="0.17"/><circle cx="308" cy="457" r="1.0" fill-opacity="0.27"/><circle cx="252" cy="163" r="0.7" fill-opacity="0.41"/><circle cx="1427" cy="589" r="0.8" fill-opacity="0.14"/><circle cx="1217" cy="690" r="1.0" fill-opacity="0.40"/><circle cx="1123" cy="226" r="0.7" fill-opacity="0.23"/><circle cx="267" cy="760" r="1.1" fill-opacity="0.17"/><circle cx="391" cy="112" r="0.9" fill-opacity="0.10"/><circle cx="45" cy="679" r="1.0" fill-opacity="0.14"/><circle cx="602" cy="703" r="1.0" fill-opacity="0.39"/><circle cx="942" cy="465" r="1.1" fill-opacity="0.18"/><circle cx="1159" cy="601" r="1.0" fill-opacity="0.43"/><circle cx="401" cy="46" r="1.3" fill-opacity="0.18"/><circle cx="1216" cy="200" r="0.9" fill-opacity="0.35"/><circle cx="534" cy="185" r="1.1" fill-opacity="0.28"/><circle cx="875" cy="298" r="0.7" fill-opacity="0.13"/><circle cx="850" cy="491" r="1.1" fill-opacity="0.46"/><circle cx="467" cy="2" r="1.0" fill-opacity="0.35"/><circle cx="302" cy="314" r="0.8" fill-opacity="0.50"/><circle cx="95" cy="570" r="0.6" fill-opacity="0.16"/><circle cx="639" cy="122" r="1.1" fill-opacity="0.42"/><circle cx="1506" cy="786" r="1.0" fill-opacity="0.09"/><circle cx="814" cy="158" r="1.0" fill-opacity="0.33"/><circle cx="946" cy="791" r="1.1" fill-opacity="0.10"/><circle cx="216" cy="165" r="1.1" fill-opacity="0.26"/><circle cx="861" cy="832" r="1.0" fill-opacity="0.09"/><circle cx="1390" cy="219" r="0.7" fill-opacity="0.37"/><circle cx="1451" cy="835" r="1.3" fill-opacity="0.35"/><circle cx="1327" cy="799" r="0.6" fill-opacity="0.26"/><circle cx="1229" cy="852" r="1.0" fill-opacity="0.25"/><circle cx="947" cy="798" r="0.6" fill-opacity="0.32"/><circle cx="243" cy="781" r="0.6" fill-opacity="0.10"/><circle cx="1343" cy="818" r="0.6" fill-opacity="0.19"/><circle cx="230" cy="159" r="1.0" fill-opacity="0.27"/><circle cx="896" cy="648" r="1.3" fill-opacity="0.12"/><circle cx="574" cy="819" r="0.7" fill-opacity="0.37"/><circle cx="1288" cy="349" r="0.8" fill-opacity="0.20"/><circle cx="606" cy="768" r="0.7" fill-opacity="0.16"/><circle cx="905" cy="450" r="0.8" fill-opacity="0.36"/><circle cx="544" cy="557" r="0.9" fill-opacity="0.17"/><circle cx="232" cy="217" r="0.9" fill-opacity="0.17"/><circle cx="1419" cy="158" r="1.1" fill-opacity="0.32"/><circle cx="402" cy="447" r="0.8" fill-opacity="0.39"/><circle cx="35" cy="266" r="0.6" fill-opacity="0.22"/><circle cx="509" cy="621" r="1.1" fill-opacity="0.10"/><circle cx="383" cy="79" r="1.1" fill-opacity="0.32"/><circle cx="378" cy="186" r="0.9" fill-opacity="0.30"/><circle cx="213" cy="573" r="0.6" fill-opacity="0.50"/><circle cx="1530" cy="331" r="0.7" fill-opacity="0.30"/><circle cx="1036" cy="199" r="1.3" fill-opacity="0.16"/><circle cx="1401" cy="481" r="1.1" fill-opacity="0.13"/><circle cx="1505" cy="780" r="0.6" fill-opacity="0.23"/><circle cx="588" cy="56" r="0.7" fill-opacity="0.11"/><circle cx="318" cy="751" r="0.7" fill-opacity="0.39"/><circle cx="528" cy="796" r="0.7" fill-opacity="0.33"/><circle cx="494" cy="37" r="0.7" fill-opacity="0.11"/><circle cx="1048" cy="755" r="1.1" fill-opacity="0.37"/><circle cx="1033" cy="314" r="1.1" fill-opacity="0.15"/><circle cx="422" cy="803" r="0.6" fill-opacity="0.38"/><circle cx="1121" cy="578" r="0.6" fill-opacity="0.23"/><circle cx="282" cy="105" r="1.0" fill-opacity="0.25"/><circle cx="1261" cy="378" r="1.3" fill-opacity="0.36"/><circle cx="1463" cy="70" r="0.7" fill-opacity="0.07"/><circle cx="1424" cy="834" r="1.1" fill-opacity="0.22"/><circle cx="248" cy="283" r="1.0" fill-opacity="0.14"/><circle cx="747" cy="764" r="1.0" fill-opacity="0.22"/><circle cx="932" cy="723" r="0.9" fill-opacity="0.09"/><circle cx="228" cy="401" r="1.1" fill-opacity="0.11"/><circle cx="1178" cy="342" r="0.6" fill-opacity="0.23"/><circle cx="70" cy="343" r="1.3" fill-opacity="0.20"/><circle cx="30" cy="188" r="1.3" fill-opacity="0.46"/><circle cx="946" cy="54" r="0.6" fill-opacity="0.12"/><circle cx="23" cy="260" r="0.6" fill-opacity="0.24"/><circle cx="1310" cy="480" r="1.1" fill-opacity="0.33"/><circle cx="964" cy="271" r="0.8" fill-opacity="0.15"/><circle cx="895" cy="524" r="0.9" fill-opacity="0.35"/><circle cx="711" cy="284" r="0.9" fill-opacity="0.20"/><circle cx="1446" cy="729" r="1.1" fill-opacity="0.13"/><circle cx="786" cy="842" r="0.8" fill-opacity="0.30"/><circle cx="1443" cy="268" r="1.0" fill-opacity="0.35"/><circle cx="244" cy="810" r="0.8" fill-opacity="0.27"/><circle cx="979" cy="3" r="0.9" fill-opacity="0.23"/><circle cx="768" cy="789" r="1.0" fill-opacity="0.28"/><circle cx="1059" cy="567" r="0.9" fill-opacity="0.21"/><circle cx="887" cy="540" r="0.9" fill-opacity="0.12"/><circle cx="494" cy="547" r="0.6" fill-opacity="0.39"/><circle cx="1499" cy="240" r="0.9" fill-opacity="0.11"/><circle cx="433" cy="43" r="1.0" fill-opacity="0.33"/><circle cx="1233" cy="218" r="1.1" fill-opacity="0.29"/><circle cx="658" cy="475" r="0.6" fill-opacity="0.34"/><circle cx="745" cy="248" r="1.3" fill-opacity="0.37"/><circle cx="777" cy="792" r="1.1" fill-opacity="0.14"/><circle cx="1289" cy="687" r="1.1" fill-opacity="0.43"/><circle cx="1059" cy="682" r="1.1" fill-opacity="0.18"/><circle cx="460" cy="753" r="0.6" fill-opacity="0.35"/><circle cx="469" cy="209" r="1.3" fill-opacity="0.09"/><circle cx="791" cy="293" r="1.3" fill-opacity="0.39"/><circle cx="1043" cy="342" r="1.1" fill-opacity="0.51"/><circle cx="1508" cy="137" r="0.8" fill-opacity="0.43"/><circle cx="1346" cy="266" r="0.7" fill-opacity="0.36"/><circle cx="1197" cy="224" r="1.1" fill-opacity="0.34"/><circle cx="194" cy="621" r="0.6" fill-opacity="0.27"/><circle cx="630" cy="337" r="1.3" fill-opacity="0.51"/><circle cx="879" cy="807" r="1.1" fill-opacity="0.36"/><circle cx="348" cy="608" r="0.6" fill-opacity="0.10"/><circle cx="249" cy="680" r="0.7" fill-opacity="0.17"/><circle cx="955" cy="101" r="0.7" fill-opacity="0.25"/><circle cx="488" cy="233" r="0.7" fill-opacity="0.10"/><circle cx="412" cy="660" r="0.6" fill-opacity="0.21"/><circle cx="1432" cy="779" r="0.8" fill-opacity="0.24"/><circle cx="897" cy="259" r="0.9" fill-opacity="0.43"/><circle cx="515" cy="239" r="1.0" fill-opacity="0.51"/><circle cx="102" cy="83" r="1.1" fill-opacity="0.25"/><circle cx="731" cy="637" r="0.7" fill-opacity="0.20"/><circle cx="1441" cy="311" r="0.9" fill-opacity="0.25"/><circle cx="108" cy="45" r="0.8" fill-opacity="0.16"/><circle cx="1328" cy="732" r="1.0" fill-opacity="0.22"/><circle cx="628" cy="201" r="0.9" fill-opacity="0.45"/><circle cx="122" cy="367" r="0.9" fill-opacity="0.43"/><circle cx="1178" cy="475" r="1.1" fill-opacity="0.56"/><circle cx="773" cy="810" r="1.0" fill-opacity="0.24"/><circle cx="1541" cy="451" r="0.7" fill-opacity="0.19"/><circle cx="1525" cy="526" r="0.7" fill-opacity="0.36"/><circle cx="421" cy="615" r="1.1" fill-opacity="0.49"/><circle cx="414" cy="682" r="0.6" fill-opacity="0.35"/><circle cx="705" cy="370" r="0.6" fill-opacity="0.57"/><circle cx="299" cy="216" r="0.6" fill-opacity="0.31"/><circle cx="3" cy="397" r="1.0" fill-opacity="0.32"/><circle cx="198" cy="364" r="1.0" fill-opacity="0.48"/><circle cx="378" cy="697" r="0.7" fill-opacity="0.33"/><circle cx="951" cy="40" r="1.1" fill-opacity="0.24"/><circle cx="379" cy="488" r="0.9" fill-opacity="0.11"/><circle cx="113" cy="334" r="0.9" fill-opacity="0.39"/><circle cx="321" cy="210" r="1.1" fill-opacity="0.28"/><circle cx="908" cy="270" r="1.1" fill-opacity="0.14"/><circle cx="470" cy="189" r="1.3" fill-opacity="0.36"/><circle cx="891" cy="632" r="1.3" fill-opacity="0.45"/><circle cx="398" cy="677" r="1.1" fill-opacity="0.18"/><circle cx="320" cy="567" r="0.7" fill-opacity="0.30"/><circle cx="488" cy="533" r="0.9" fill-opacity="0.51"/><circle cx="961" cy="76" r="1.1" fill-opacity="0.22"/><circle cx="1359" cy="389" r="0.9" fill-opacity="0.44"/><circle cx="779" cy="684" r="0.9" fill-opacity="0.42"/><circle cx="116" cy="194" r="0.7" fill-opacity="0.37"/><circle cx="1467" cy="561" r="1.1" fill-opacity="0.30"/><circle cx="329" cy="255" r="1.0" fill-opacity="0.42"/><circle cx="833" cy="838" r="0.8" fill-opacity="0.24"/><circle cx="605" cy="718" r="0.8" fill-opacity="0.35"/><circle cx="401" cy="525" r="0.7" fill-opacity="0.51"/><circle cx="463" cy="817" r="1.1" fill-opacity="0.35"/><circle cx="92" cy="498" r="1.3" fill-opacity="0.20"/><circle cx="1008" cy="57" r="1.1" fill-opacity="0.29"/><circle cx="525" cy="312" r="0.9" fill-opacity="0.21"/><circle cx="1090" cy="480" r="1.0" fill-opacity="0.18"/><circle cx="39" cy="644" r="1.0" fill-opacity="0.22"/><circle cx="1123" cy="813" r="0.8" fill-opacity="0.31"/><circle cx="530" cy="815" r="0.8" fill-opacity="0.12"/><circle cx="966" cy="764" r="1.1" fill-opacity="0.23"/><circle cx="1400" cy="827" r="1.1" fill-opacity="0.11"/><circle cx="936" cy="394" r="1.0" fill-opacity="0.38"/><circle cx="679" cy="19" r="0.8" fill-opacity="0.17"/><circle cx="1173" cy="64" r="0.8" fill-opacity="0.24"/><circle cx="260" cy="311" r="0.7" fill-opacity="0.27"/><circle cx="423" cy="306" r="1.0" fill-opacity="0.33"/><circle cx="834" cy="340" r="0.9" fill-opacity="0.17"/><circle cx="481" cy="746" r="1.0" fill-opacity="0.16"/><circle cx="275" cy="101" r="0.6" fill-opacity="0.29"/><circle cx="41" cy="164" r="0.6" fill-opacity="0.26"/><circle cx="1074" cy="24" r="1.3" fill-opacity="0.15"/><circle cx="511" cy="534" r="0.8" fill-opacity="0.43"/><circle cx="521" cy="751" r="0.7" fill-opacity="0.36"/><circle cx="1083" cy="24" r="1.3" fill-opacity="0.31"/><circle cx="435" cy="432" r="0.8" fill-opacity="0.21"/><circle cx="344" cy="530" r="0.7" fill-opacity="0.40"/><circle cx="1424" cy="674" r="0.9" fill-opacity="0.15"/><circle cx="282" cy="507" r="1.3" fill-opacity="0.18"/><circle cx="549" cy="604" r="0.7" fill-opacity="0.42"/><circle cx="492" cy="730" r="0.9" fill-opacity="0.20"/><circle cx="353" cy="614" r="0.6" fill-opacity="0.45"/><circle cx="1152" cy="655" r="1.1" fill-opacity="0.30"/><circle cx="901" cy="81" r="0.6" fill-opacity="0.26"/><circle cx="1177" cy="421" r="1.0" fill-opacity="0.53"/><circle cx="97" cy="87" r="0.6" fill-opacity="0.37"/><circle cx="950" cy="473" r="0.6" fill-opacity="0.43"/><circle cx="1075" cy="276" r="0.9" fill-opacity="0.44"/><circle cx="342" cy="18" r="0.7" fill-opacity="0.17"/><circle cx="385" cy="250" r="0.8" fill-opacity="0.09"/><circle cx="563" cy="356" r="0.7" fill-opacity="0.23"/><circle cx="175" cy="723" r="0.9" fill-opacity="0.32"/><circle cx="293" cy="466" r="1.3" fill-opacity="0.53"/><circle cx="1235" cy="380" r="1.1" fill-opacity="0.35"/><circle cx="638" cy="333" r="1.0" fill-opacity="0.22"/><circle cx="686" cy="492" r="1.3" fill-opacity="0.49"/><circle cx="1305" cy="244" r="0.8" fill-opacity="0.21"/><circle cx="49" cy="681" r="1.0" fill-opacity="0.25"/><circle cx="806" cy="314" r="1.3" fill-opacity="0.35"/><circle cx="715" cy="317" r="0.9" fill-opacity="0.14"/><circle cx="774" cy="194" r="1.0" fill-opacity="0.47"/><circle cx="1417" cy="714" r="0.6" fill-opacity="0.11"/><circle cx="826" cy="287" r="0.9" fill-opacity="0.32"/><circle cx="479" cy="737" r="1.0" fill-opacity="0.20"/><circle cx="1476" cy="455" r="0.6" fill-opacity="0.11"/><circle cx="229" cy="333" r="1.1" fill-opacity="0.45"/><circle cx="692" cy="846" r="0.9" fill-opacity="0.24"/><circle cx="845" cy="48" r="1.1" fill-opacity="0.12"/><circle cx="717" cy="770" r="1.1" fill-opacity="0.24"/><circle cx="1446" cy="558" r="1.3" fill-opacity="0.25"/><circle cx="893" cy="540" r="0.6" fill-opacity="0.10"/><circle cx="1115" cy="791" r="1.0" fill-opacity="0.09"/><circle cx="1177" cy="285" r="1.0" fill-opacity="0.33"/><circle cx="1509" cy="157" r="0.7" fill-opacity="0.38"/><circle cx="1119" cy="648" r="0.6" fill-opacity="0.22"/><circle cx="1122" cy="612" r="1.3" fill-opacity="0.17"/><circle cx="46" cy="140" r="0.9" fill-opacity="0.31"/><circle cx="1521" cy="688" r="1.3" fill-opacity="0.36"/><circle cx="494" cy="98" r="0.6" fill-opacity="0.39"/><circle cx="68" cy="482" r="0.9" fill-opacity="0.53"/><circle cx="1014" cy="331" r="1.1" fill-opacity="0.18"/><circle cx="765" cy="828" r="0.7" fill-opacity="0.25"/><circle cx="418" cy="171" r="0.6" fill-opacity="0.10"/><circle cx="288" cy="203" r="0.8" fill-opacity="0.46"/><circle cx="1028" cy="103" r="1.1" fill-opacity="0.30"/><circle cx="970" cy="328" r="1.1" fill-opacity="0.25"/><circle cx="11" cy="351" r="1.0" fill-opacity="0.28"/><circle cx="820" cy="42" r="0.6" fill-opacity="0.18"/><circle cx="941" cy="477" r="0.9" fill-opacity="0.17"/><circle cx="915" cy="782" r="0.7" fill-opacity="0.13"/><circle cx="18" cy="563" r="1.1" fill-opacity="0.35"/><circle cx="369" cy="162" r="1.1" fill-opacity="0.09"/><circle cx="838" cy="821" r="0.7" fill-opacity="0.12"/><circle cx="723" cy="722" r="1.0" fill-opacity="0.21"/><circle cx="252" cy="311" r="0.6" fill-opacity="0.26"/><circle cx="104" cy="237" r="1.0" fill-opacity="0.10"/><circle cx="44" cy="750" r="0.9" fill-opacity="0.12"/><circle cx="1102" cy="119" r="0.8" fill-opacity="0.28"/><circle cx="1416" cy="32" r="0.6" fill-opacity="0.13"/><circle cx="278" cy="385" r="0.9" fill-opacity="0.20"/><circle cx="989" cy="144" r="0.7" fill-opacity="0.38"/><circle cx="1223" cy="350" r="0.9" fill-opacity="0.37"/><circle cx="785" cy="332" r="0.9" fill-opacity="0.24"/><circle cx="1526" cy="24" r="1.3" fill-opacity="0.17"/><circle cx="14" cy="759" r="1.0" fill-opacity="0.36"/><circle cx="448" cy="244" r="1.1" fill-opacity="0.14"/><circle cx="592" cy="605" r="0.8" fill-opacity="0.49"/><circle cx="166" cy="558" r="0.8" fill-opacity="0.22"/><circle cx="452" cy="641" r="1.3" fill-opacity="0.12"/><circle cx="1133" cy="550" r="1.1" fill-opacity="0.28"/><circle cx="1318" cy="655" r="0.6" fill-opacity="0.31"/><circle cx="187" cy="355" r="1.1" fill-opacity="0.27"/><circle cx="935" cy="820" r="1.0" fill-opacity="0.34"/><circle cx="429" cy="200" r="0.9" fill-opacity="0.34"/><circle cx="1484" cy="123" r="0.9" fill-opacity="0.25"/><circle cx="139" cy="664" r="1.1" fill-opacity="0.10"/><circle cx="971" cy="239" r="0.8" fill-opacity="0.49"/><circle cx="602" cy="229" r="1.1" fill-opacity="0.44"/><circle cx="1525" cy="224" r="0.8" fill-opacity="0.29"/><circle cx="936" cy="464" r="0.8" fill-opacity="0.20"/><circle cx="860" cy="290" r="0.6" fill-opacity="0.14"/><circle cx="1062" cy="536" r="1.1" fill-opacity="0.22"/><circle cx="1532" cy="545" r="0.6" fill-opacity="0.30"/><circle cx="1420" cy="685" r="0.7" fill-opacity="0.35"/><circle cx="1324" cy="800" r="0.9" fill-opacity="0.15"/><circle cx="868" cy="206" r="1.1" fill-opacity="0.38"/><circle cx="715" cy="586" r="0.7" fill-opacity="0.50"/><circle cx="1013" cy="820" r="0.7" fill-opacity="0.26"/><circle cx="250" cy="30" r="0.9" fill-opacity="0.33"/><circle cx="843" cy="167" r="1.1" fill-opacity="0.33"/><circle cx="1496" cy="50" r="0.6" fill-opacity="0.36"/><circle cx="215" cy="578" r="0.8" fill-opacity="0.40"/><circle cx="846" cy="732" r="0.8" fill-opacity="0.41"/><circle cx="89" cy="554" r="0.9" fill-opacity="0.20"/><circle cx="46" cy="138" r="0.6" fill-opacity="0.13"/><circle cx="538" cy="80" r="1.1" fill-opacity="0.34"/><circle cx="532" cy="103" r="1.1" fill-opacity="0.29"/><circle cx="574" cy="364" r="1.1" fill-opacity="0.38"/><circle cx="1333" cy="579" r="0.8" fill-opacity="0.22"/><circle cx="1196" cy="541" r="0.9" fill-opacity="0.19"/><circle cx="682" cy="729" r="0.9" fill-opacity="0.29"/><circle cx="787" cy="436" r="0.6" fill-opacity="0.37"/><circle cx="555" cy="312" r="0.6" fill-opacity="0.56"/><circle cx="1225" cy="248" r="0.9" fill-opacity="0.35"/><circle cx="649" cy="239" r="1.1" fill-opacity="0.29"/><circle cx="615" cy="410" r="0.8" fill-opacity="0.14"/><circle cx="182" cy="600" r="1.0" fill-opacity="0.12"/><circle cx="1047" cy="129" r="0.7" fill-opacity="0.27"/><circle cx="152" cy="197" r="0.7" fill-opacity="0.26"/><circle cx="456" cy="315" r="0.7" fill-opacity="0.44"/><circle cx="5" cy="144" r="0.7" fill-opacity="0.12"/><circle cx="210" cy="761" r="1.1" fill-opacity="0.32"/><circle cx="875" cy="132" r="0.8" fill-opacity="0.23"/><circle cx="935" cy="44" r="0.6" fill-opacity="0.17"/><circle cx="222" cy="667" r="0.6" fill-opacity="0.30"/><circle cx="1508" cy="284" r="0.9" fill-opacity="0.50"/><circle cx="1222" cy="177" r="0.6" fill-opacity="0.43"/><circle cx="276" cy="423" r="0.8" fill-opacity="0.56"/><circle cx="322" cy="550" r="0.6" fill-opacity="0.29"/><circle cx="243" cy="391" r="0.7" fill-opacity="0.26"/><circle cx="1119" cy="772" r="1.3" fill-opacity="0.39"/><circle cx="1262" cy="204" r="1.3" fill-opacity="0.30"/><circle cx="1468" cy="740" r="0.7" fill-opacity="0.13"/><circle cx="799" cy="748" r="1.0" fill-opacity="0.33"/><circle cx="1173" cy="288" r="0.9" fill-opacity="0.49"/><circle cx="1448" cy="191" r="0.6" fill-opacity="0.13"/><circle cx="148" cy="145" r="1.3" fill-opacity="0.23"/><circle cx="1308" cy="415" r="0.7" fill-opacity="0.28"/><circle cx="272" cy="833" r="1.0" fill-opacity="0.14"/><circle cx="139" cy="432" r="1.0" fill-opacity="0.41"/><circle cx="1190" cy="520" r="1.3" fill-opacity="0.56"/><circle cx="628" cy="554" r="0.8" fill-opacity="0.52"/><circle cx="1208" cy="105" r="0.8" fill-opacity="0.19"/><circle cx="544" cy="724" r="1.3" fill-opacity="0.32"/><circle cx="238" cy="246" r="1.1" fill-opacity="0.36"/><circle cx="388" cy="270" r="0.6" fill-opacity="0.52"/><circle cx="268" cy="779" r="1.0" fill-opacity="0.19"/><circle cx="181" cy="122" r="1.1" fill-opacity="0.26"/><circle cx="973" cy="457" r="1.3" fill-opacity="0.48"/><circle cx="349" cy="750" r="0.8" fill-opacity="0.31"/><circle cx="1456" cy="684" r="0.9" fill-opacity="0.39"/><circle cx="472" cy="410" r="0.7" fill-opacity="0.42"/><circle cx="1240" cy="279" r="0.7" fill-opacity="0.10"/><circle cx="648" cy="71" r="1.1" fill-opacity="0.26"/><circle cx="23" cy="388" r="1.0" fill-opacity="0.34"/><circle cx="492" cy="441" r="0.9" fill-opacity="0.28"/><circle cx="1502" cy="308" r="1.3" fill-opacity="0.50"/><circle cx="887" cy="108" r="1.3" fill-opacity="0.29"/><circle cx="272" cy="561" r="1.0" fill-opacity="0.13"/><circle cx="634" cy="134" r="0.8" fill-opacity="0.28"/><circle cx="1386" cy="818" r="1.3" fill-opacity="0.21"/><circle cx="55" cy="114" r="0.8" fill-opacity="0.30"/><circle cx="244" cy="453" r="0.9" fill-opacity="0.50"/><circle cx="1151" cy="766" r="1.0" fill-opacity="0.26"/><circle cx="1219" cy="706" r="0.6" fill-opacity="0.38"/><circle cx="1152" cy="737" r="1.3" fill-opacity="0.18"/><circle cx="678" cy="398" r="1.0" fill-opacity="0.39"/><circle cx="971" cy="521" r="0.6" fill-opacity="0.50"/><circle cx="1241" cy="1" r="1.0" fill-opacity="0.18"/><circle cx="1398" cy="181" r="0.8" fill-opacity="0.18"/><circle cx="1188" cy="505" r="1.1" fill-opacity="0.19"/><circle cx="507" cy="559" r="0.9" fill-opacity="0.31"/><circle cx="397" cy="578" r="0.6" fill-opacity="0.34"/><circle cx="921" cy="485" r="1.0" fill-opacity="0.39"/><circle cx="5" cy="844" r="1.3" fill-opacity="0.26"/><circle cx="968" cy="407" r="1.1" fill-opacity="0.59"/><circle cx="275" cy="646" r="1.3" fill-opacity="0.28"/><circle cx="905" cy="552" r="0.8" fill-opacity="0.17"/><circle cx="357" cy="770" r="0.6" fill-opacity="0.23"/><circle cx="197" cy="301" r="0.7" fill-opacity="0.22"/><circle cx="1308" cy="460" r="0.8" fill-opacity="0.32"/><circle cx="706" cy="400" r="0.8" fill-opacity="0.49"/><circle cx="781" cy="813" r="0.8" fill-opacity="0.37"/><circle cx="1078" cy="132" r="1.0" fill-opacity="0.21"/><circle cx="555" cy="28" r="0.6" fill-opacity="0.34"/><circle cx="1033" cy="192" r="0.8" fill-opacity="0.09"/><circle cx="489" cy="315" r="0.8" fill-opacity="0.46"/><circle cx="91" cy="587" r="1.0" fill-opacity="0.26"/><circle cx="272" cy="90" r="0.6" fill-opacity="0.22"/><circle cx="1184" cy="159" r="1.3" fill-opacity="0.37"/><circle cx="129" cy="162" r="0.8" fill-opacity="0.25"/><circle cx="140" cy="719" r="0.6" fill-opacity="0.24"/><circle cx="549" cy="403" r="1.3" fill-opacity="0.58"/><circle cx="1443" cy="55" r="0.8" fill-opacity="0.26"/><circle cx="1482" cy="802" r="0.7" fill-opacity="0.34"/><circle cx="508" cy="795" r="0.7" fill-opacity="0.10"/><circle cx="468" cy="378" r="1.3" fill-opacity="0.39"/><circle cx="493" cy="75" r="0.9" fill-opacity="0.35"/><circle cx="788" cy="43" r="0.8" fill-opacity="0.35"/><circle cx="1246" cy="341" r="0.6" fill-opacity="0.38"/><circle cx="1266" cy="61" r="0.7" fill-opacity="0.20"/><circle cx="924" cy="374" r="0.9" fill-opacity="0.13"/><circle cx="79" cy="353" r="1.0" fill-opacity="0.24"/><circle cx="1429" cy="460" r="0.8" fill-opacity="0.11"/><circle cx="1042" cy="287" r="0.9" fill-opacity="0.45"/><circle cx="143" cy="532" r="0.6" fill-opacity="0.24"/><circle cx="460" cy="98" r="0.6" fill-opacity="0.34"/><circle cx="919" cy="627" r="0.6" fill-opacity="0.24"/><circle cx="686" cy="449" r="0.6" fill-opacity="0.31"/><circle cx="621" cy="713" r="1.1" fill-opacity="0.25"/><circle cx="531" cy="642" r="1.0" fill-opacity="0.24"/><circle cx="1497" cy="596" r="1.3" fill-opacity="0.41"/><circle cx="1041" cy="395" r="1.0" fill-opacity="0.55"/><circle cx="1292" cy="441" r="1.3" fill-opacity="0.56"/><circle cx="1287" cy="707" r="1.0" fill-opacity="0.30"/><circle cx="1403" cy="42" r="0.9" fill-opacity="0.11"/><circle cx="11" cy="497" r="1.0" fill-opacity="0.23"/><circle cx="1385" cy="650" r="0.6" fill-opacity="0.38"/><circle cx="474" cy="755" r="0.6" fill-opacity="0.18"/><circle cx="1381" cy="324" r="1.1" fill-opacity="0.46"/><circle cx="425" cy="69" r="1.1" fill-opacity="0.22"/><circle cx="1437" cy="503" r="1.1" fill-opacity="0.35"/><circle cx="52" cy="410" r="0.8" fill-opacity="0.19"/><circle cx="896" cy="326" r="0.9" fill-opacity="0.15"/><circle cx="688" cy="234" r="1.1" fill-opacity="0.30"/><circle cx="281" cy="329" r="1.0" fill-opacity="0.32"/><circle cx="672" cy="510" r="0.6" fill-opacity="0.55"/><circle cx="1402" cy="709" r="0.7" fill-opacity="0.34"/><circle cx="306" cy="781" r="0.9" fill-opacity="0.27"/><circle cx="540" cy="848" r="0.8" fill-opacity="0.26"/><circle cx="200" cy="797" r="1.1" fill-opacity="0.37"/><circle cx="1458" cy="563" r="0.6" fill-opacity="0.20"/><circle cx="1215" cy="767" r="0.8" fill-opacity="0.25"/><circle cx="687" cy="238" r="1.1" fill-opacity="0.33"/><circle cx="198" cy="300" r="1.0" fill-opacity="0.44"/><circle cx="1477" cy="515" r="1.1" fill-opacity="0.25"/><circle cx="988" cy="125" r="0.7" fill-opacity="0.13"/><circle cx="1150" cy="99" r="0.6" fill-opacity="0.38"/><circle cx="1300" cy="726" r="1.3" fill-opacity="0.19"/><circle cx="1051" cy="754" r="1.3" fill-opacity="0.33"/><circle cx="91" cy="336" r="1.0" fill-opacity="0.45"/><circle cx="754" cy="764" r="1.1" fill-opacity="0.22"/><circle cx="1044" cy="569" r="1.1" fill-opacity="0.29"/><circle cx="91" cy="842" r="1.3" fill-opacity="0.34"/><circle cx="1118" cy="686" r="0.9" fill-opacity="0.44"/><circle cx="232" cy="378" r="1.3" fill-opacity="0.37"/><circle cx="168" cy="3" r="0.9" fill-opacity="0.34"/><circle cx="1291" cy="117" r="0.9" fill-opacity="0.36"/><circle cx="913" cy="115" r="1.3" fill-opacity="0.08"/><circle cx="1340" cy="521" r="1.1" fill-opacity="0.24"/><circle cx="271" cy="71" r="1.1" fill-opacity="0.09"/><circle cx="1026" cy="46" r="1.1" fill-opacity="0.24"/><circle cx="81" cy="399" r="0.9" fill-opacity="0.50"/><circle cx="1483" cy="695" r="0.9" fill-opacity="0.25"/><circle cx="23" cy="525" r="1.1" fill-opacity="0.18"/><circle cx="1293" cy="313" r="0.6" fill-opacity="0.10"/><circle cx="1283" cy="534" r="0.9" fill-opacity="0.38"/><circle cx="1317" cy="660" r="0.7" fill-opacity="0.26"/><circle cx="1386" cy="339" r="0.6" fill-opacity="0.36"/><circle cx="1418" cy="52" r="1.0" fill-opacity="0.19"/><circle cx="424" cy="591" r="0.6" fill-opacity="0.34"/><circle cx="1150" cy="636" r="0.6" fill-opacity="0.33"/><circle cx="653" cy="686" r="0.8" fill-opacity="0.32"/><circle cx="1056" cy="493" r="0.8" fill-opacity="0.21"/><circle cx="22" cy="258" r="1.1" fill-opacity="0.21"/><circle cx="755" cy="448" r="0.8" fill-opacity="0.45"/><circle cx="553" cy="349" r="0.8" fill-opacity="0.56"/><circle cx="1199" cy="687" r="1.0" fill-opacity="0.13"/><circle cx="480" cy="323" r="0.8" fill-opacity="0.16"/><circle cx="1155" cy="718" r="1.0" fill-opacity="0.36"/><circle cx="244" cy="485" r="1.0" fill-opacity="0.31"/><circle cx="716" cy="328" r="0.8" fill-opacity="0.34"/><circle cx="415" cy="839" r="0.9" fill-opacity="0.32"/><circle cx="1135" cy="19" r="0.6" fill-opacity="0.13"/><circle cx="467" cy="519" r="0.8" fill-opacity="0.50"/><circle cx="1508" cy="481" r="0.7" fill-opacity="0.54"/><circle cx="1424" cy="216" r="1.3" fill-opacity="0.23"/><circle cx="927" cy="693" r="0.9" fill-opacity="0.11"/><circle cx="1466" cy="108" r="1.1" fill-opacity="0.32"/><circle cx="903" cy="706" r="0.7" fill-opacity="0.10"/><circle cx="1370" cy="700" r="0.9" fill-opacity="0.40"/><circle cx="765" cy="384" r="0.8" fill-opacity="0.12"/><circle cx="813" cy="791" r="1.1" fill-opacity="0.39"/><circle cx="507" cy="151" r="0.9" fill-opacity="0.20"/><circle cx="1192" cy="495" r="0.9" fill-opacity="0.35"/><circle cx="1290" cy="738" r="1.1" fill-opacity="0.38"/><circle cx="540" cy="659" r="0.8" fill-opacity="0.16"/><circle cx="1420" cy="86" r="0.6" fill-opacity="0.32"/><circle cx="1517" cy="504" r="0.6" fill-opacity="0.33"/><circle cx="1400" cy="604" r="0.8" fill-opacity="0.36"/><circle cx="1476" cy="253" r="0.7" fill-opacity="0.12"/><circle cx="28" cy="725" r="0.7" fill-opacity="0.25"/><circle cx="649" cy="315" r="0.8" fill-opacity="0.24"/><circle cx="291" cy="368" r="0.9" fill-opacity="0.11"/><circle cx="941" cy="748" r="0.6" fill-opacity="0.15"/><circle cx="194" cy="276" r="1.3" fill-opacity="0.46"/><circle cx="1123" cy="209" r="0.7" fill-opacity="0.29"/><circle cx="767" cy="91" r="0.7" fill-opacity="0.25"/><circle cx="79" cy="315" r="0.7" fill-opacity="0.13"/><circle cx="456" cy="36" r="0.8" fill-opacity="0.34"/><circle cx="1339" cy="40" r="0.9" fill-opacity="0.14"/><circle cx="1318" cy="193" r="0.8" fill-opacity="0.29"/><circle cx="87" cy="378" r="1.3" fill-opacity="0.46"/><circle cx="680" cy="107" r="1.0" fill-opacity="0.20"/><circle cx="1224" cy="3" r="1.0" fill-opacity="0.18"/><circle cx="372" cy="384" r="0.7" fill-opacity="0.44"/><circle cx="345" cy="170" r="0.9" fill-opacity="0.40"/><circle cx="345" cy="845" r="1.0" fill-opacity="0.28"/><circle cx="644" cy="43" r="0.6" fill-opacity="0.08"/><circle cx="975" cy="396" r="1.1" fill-opacity="0.29"/><circle cx="1521" cy="145" r="1.1" fill-opacity="0.24"/><circle cx="867" cy="851" r="0.7" fill-opacity="0.10"/><circle cx="129" cy="687" r="1.0" fill-opacity="0.40"/><circle cx="643" cy="818" r="0.6" fill-opacity="0.11"/><circle cx="206" cy="508" r="1.1" fill-opacity="0.54"/><circle cx="1545" cy="511" r="1.0" fill-opacity="0.24"/><circle cx="222" cy="420" r="0.6" fill-opacity="0.42"/><circle cx="247" cy="760" r="1.1" fill-opacity="0.24"/><circle cx="1409" cy="714" r="1.3" fill-opacity="0.34"/><circle cx="1285" cy="271" r="0.7" fill-opacity="0.11"/><circle cx="1181" cy="405" r="0.7" fill-opacity="0.24"/><circle cx="666" cy="741" r="0.8" fill-opacity="0.34"/><circle cx="1364" cy="790" r="0.8" fill-opacity="0.17"/><circle cx="852" cy="845" r="1.0" fill-opacity="0.22"/><circle cx="225" cy="487" r="0.6" fill-opacity="0.28"/><circle cx="1533" cy="646" r="0.9" fill-opacity="0.42"/><circle cx="1142" cy="730" r="0.9" fill-opacity="0.25"/><circle cx="1229" cy="810" r="0.6" fill-opacity="0.25"/><circle cx="630" cy="124" r="0.9" fill-opacity="0.33"/><circle cx="212" cy="435" r="1.1" fill-opacity="0.31"/><circle cx="212" cy="707" r="1.0" fill-opacity="0.10"/><circle cx="688" cy="582" r="1.3" fill-opacity="0.21"/><circle cx="1297" cy="500" r="1.1" fill-opacity="0.38"/><circle cx="842" cy="19" r="0.8" fill-opacity="0.20"/><circle cx="1304" cy="807" r="1.0" fill-opacity="0.09"/><circle cx="245" cy="186" r="0.8" fill-opacity="0.24"/><circle cx="1438" cy="177" r="0.7" fill-opacity="0.16"/><circle cx="637" cy="79" r="1.3" fill-opacity="0.36"/><circle cx="238" cy="13" r="1.0" fill-opacity="0.17"/><circle cx="287" cy="171" r="1.1" fill-opacity="0.28"/><circle cx="1125" cy="480" r="0.8" fill-opacity="0.47"/><circle cx="399" cy="743" r="1.1" fill-opacity="0.14"/><circle cx="850" cy="144" r="1.0" fill-opacity="0.29"/><circle cx="397" cy="553" r="0.8" fill-opacity="0.43"/><circle cx="1192" cy="498" r="0.7" fill-opacity="0.22"/><circle cx="155" cy="664" r="0.7" fill-opacity="0.44"/><circle cx="722" cy="162" r="0.6" fill-opacity="0.39"/><circle cx="1289" cy="838" r="1.0" fill-opacity="0.24"/><circle cx="375" cy="198" r="1.0" fill-opacity="0.21"/><circle cx="586" cy="487" r="0.7" fill-opacity="0.59"/><circle cx="606" cy="142" r="1.3" fill-opacity="0.15"/><circle cx="43" cy="314" r="0.9" fill-opacity="0.16"/><circle cx="1244" cy="252" r="1.0" fill-opacity="0.44"/><circle cx="54" cy="147" r="1.3" fill-opacity="0.28"/><circle cx="365" cy="106" r="0.9" fill-opacity="0.18"/><circle cx="164" cy="801" r="0.6" fill-opacity="0.25"/><circle cx="801" cy="388" r="0.7" fill-opacity="0.57"/><circle cx="945" cy="593" r="1.1" fill-opacity="0.21"/><circle cx="314" cy="165" r="0.6" fill-opacity="0.14"/><circle cx="1107" cy="500" r="1.1" fill-opacity="0.39"/><circle cx="965" cy="411" r="1.0" fill-opacity="0.17"/><circle cx="783" cy="449" r="1.0" fill-opacity="0.21"/><circle cx="1133" cy="501" r="0.8" fill-opacity="0.40"/><circle cx="848" cy="657" r="0.8" fill-opacity="0.20"/><circle cx="1179" cy="421" r="1.1" fill-opacity="0.37"/><circle cx="550" cy="125" r="1.0" fill-opacity="0.25"/><circle cx="1538" cy="531" r="0.9" fill-opacity="0.30"/><circle cx="185" cy="271" r="1.3" fill-opacity="0.41"/><circle cx="951" cy="669" r="0.9" fill-opacity="0.47"/><circle cx="751" cy="716" r="1.1" fill-opacity="0.27"/><circle cx="1031" cy="479" r="0.6" fill-opacity="0.52"/><circle cx="847" cy="43" r="0.9" fill-opacity="0.37"/><circle cx="743" cy="142" r="1.0" fill-opacity="0.30"/><circle cx="461" cy="23" r="0.7" fill-opacity="0.12"/><circle cx="1100" cy="145" r="1.0" fill-opacity="0.15"/><circle cx="451" cy="557" r="0.9" fill-opacity="0.10"/><circle cx="1510" cy="777" r="0.9" fill-opacity="0.09"/><circle cx="1213" cy="831" r="1.3" fill-opacity="0.17"/><circle cx="682" cy="744" r="0.6" fill-opacity="0.29"/><circle cx="1519" cy="699" r="0.6" fill-opacity="0.37"/><circle cx="926" cy="276" r="1.0" fill-opacity="0.40"/><circle cx="527" cy="440" r="1.0" fill-opacity="0.12"/><circle cx="1001" cy="417" r="0.8" fill-opacity="0.35"/><circle cx="685" cy="178" r="0.7" fill-opacity="0.24"/><circle cx="929" cy="231" r="1.0" fill-opacity="0.35"/><circle cx="982" cy="798" r="0.7" fill-opacity="0.14"/><circle cx="1509" cy="467" r="0.8" fill-opacity="0.28"/><circle cx="671" cy="844" r="0.9" fill-opacity="0.27"/><circle cx="395" cy="736" r="0.8" fill-opacity="0.21"/><circle cx="1543" cy="337" r="0.9" fill-opacity="0.37"/><circle cx="808" cy="468" r="1.0" fill-opacity="0.22"/><circle cx="235" cy="166" r="0.8" fill-opacity="0.45"/><circle cx="24" cy="45" r="1.3" fill-opacity="0.35"/><circle cx="1498" cy="675" r="0.9" fill-opacity="0.12"/><circle cx="713" cy="823" r="0.8" fill-opacity="0.07"/><circle cx="83" cy="269" r="0.9" fill-opacity="0.45"/><circle cx="953" cy="623" r="0.7" fill-opacity="0.33"/><circle cx="1407" cy="576" r="0.7" fill-opacity="0.31"/><circle cx="558" cy="616" r="0.9" fill-opacity="0.48"/><circle cx="746" cy="171" r="0.9" fill-opacity="0.36"/><circle cx="751" cy="199" r="0.6" fill-opacity="0.12"/><circle cx="373" cy="160" r="1.0" fill-opacity="0.22"/><circle cx="157" cy="9" r="1.0" fill-opacity="0.14"/><circle cx="1361" cy="28" r="0.7" fill-opacity="0.37"/><circle cx="703" cy="436" r="0.7" fill-opacity="0.23"/><circle cx="1148" cy="847" r="1.3" fill-opacity="0.07"/><circle cx="130" cy="464" r="0.7" fill-opacity="0.54"/><circle cx="1228" cy="504" r="0.8" fill-opacity="0.17"/><circle cx="1050" cy="851" r="1.0" fill-opacity="0.13"/><circle cx="1108" cy="170" r="1.3" fill-opacity="0.40"/><circle cx="1214" cy="212" r="1.3" fill-opacity="0.41"/><circle cx="1327" cy="70" r="0.7" fill-opacity="0.13"/><circle cx="867" cy="243" r="0.8" fill-opacity="0.27"/><circle cx="1260" cy="808" r="0.9" fill-opacity="0.15"/><circle cx="15" cy="840" r="0.8" fill-opacity="0.10"/><circle cx="1018" cy="788" r="1.1" fill-opacity="0.20"/><circle cx="106" cy="716" r="1.3" fill-opacity="0.22"/><circle cx="1194" cy="6" r="0.9" fill-opacity="0.15"/><circle cx="1281" cy="392" r="1.0" fill-opacity="0.23"/><circle cx="623" cy="212" r="1.0" fill-opacity="0.29"/><circle cx="1104" cy="463" r="1.0" fill-opacity="0.49"/><circle cx="851" cy="90" r="0.9" fill-opacity="0.27"/><circle cx="1167" cy="367" r="1.0" fill-opacity="0.33"/><circle cx="1142" cy="133" r="1.1" fill-opacity="0.40"/><circle cx="611" cy="723" r="1.1" fill-opacity="0.08"/><circle cx="1402" cy="825" r="0.8" fill-opacity="0.29"/><circle cx="1182" cy="424" r="0.7" fill-opacity="0.12"/><circle cx="1184" cy="58" r="0.7" fill-opacity="0.07"/><circle cx="779" cy="692" r="0.9" fill-opacity="0.27"/><circle cx="1237" cy="516" r="1.0" fill-opacity="0.35"/><circle cx="346" cy="658" r="0.8" fill-opacity="0.29"/><circle cx="921" cy="394" r="1.1" fill-opacity="0.42"/><circle cx="894" cy="409" r="0.9" fill-opacity="0.52"/><circle cx="821" cy="753" r="0.6" fill-opacity="0.36"/><circle cx="1193" cy="590" r="1.0" fill-opacity="0.32"/><circle cx="905" cy="59" r="0.8" fill-opacity="0.15"/><circle cx="946" cy="470" r="1.0" fill-opacity="0.27"/><circle cx="1391" cy="147" r="1.1" fill-opacity="0.08"/><circle cx="214" cy="400" r="1.0" fill-opacity="0.32"/><circle cx="663" cy="541" r="1.3" fill-opacity="0.10"/><circle cx="855" cy="761" r="1.0" fill-opacity="0.40"/><circle cx="693" cy="382" r="1.1" fill-opacity="0.24"/><circle cx="322" cy="229" r="0.7" fill-opacity="0.32"/><circle cx="803" cy="311" r="0.6" fill-opacity="0.47"/><circle cx="1008" cy="461" r="1.3" fill-opacity="0.17"/><circle cx="1395" cy="832" r="1.3" fill-opacity="0.28"/><circle cx="1229" cy="560" r="0.7" fill-opacity="0.12"/><circle cx="461" cy="803" r="1.1" fill-opacity="0.23"/><circle cx="957" cy="814" r="1.0" fill-opacity="0.35"/><circle cx="1168" cy="193" r="0.8" fill-opacity="0.40"/><circle cx="447" cy="570" r="0.7" fill-opacity="0.30"/><circle cx="1185" cy="841" r="1.0" fill-opacity="0.24"/><circle cx="1102" cy="359" r="0.9" fill-opacity="0.45"/><circle cx="878" cy="747" r="0.7" fill-opacity="0.25"/><circle cx="1157" cy="55" r="1.3" fill-opacity="0.37"/><circle cx="1049" cy="40" r="0.8" fill-opacity="0.21"/><circle cx="318" cy="652" r="1.1" fill-opacity="0.14"/><circle cx="924" cy="228" r="1.0" fill-opacity="0.28"/><circle cx="720" cy="301" r="1.0" fill-opacity="0.29"/><circle cx="1156" cy="163" r="0.9" fill-opacity="0.09"/><circle cx="812" cy="631" r="0.9" fill-opacity="0.43"/><circle cx="216" cy="320" r="0.8" fill-opacity="0.23"/><circle cx="1389" cy="297" r="1.3" fill-opacity="0.42"/><circle cx="302" cy="370" r="0.9" fill-opacity="0.19"/><circle cx="1130" cy="133" r="0.9" fill-opacity="0.20"/><circle cx="380" cy="259" r="0.7" fill-opacity="0.16"/><circle cx="618" cy="80" r="1.3" fill-opacity="0.33"/><circle cx="407" cy="151" r="0.7" fill-opacity="0.40"/><circle cx="1090" cy="719" r="0.9" fill-opacity="0.41"/><circle cx="638" cy="507" r="0.6" fill-opacity="0.11"/><circle cx="875" cy="342" r="0.8" fill-opacity="0.10"/><circle cx="1165" cy="64" r="0.9" fill-opacity="0.07"/><circle cx="1120" cy="45" r="0.6" fill-opacity="0.11"/><circle cx="1030" cy="201" r="1.0" fill-opacity="0.14"/><circle cx="891" cy="638" r="0.7" fill-opacity="0.20"/><circle cx="479" cy="819" r="0.8" fill-opacity="0.17"/><circle cx="94" cy="634" r="1.1" fill-opacity="0.48"/><circle cx="123" cy="282" r="1.1" fill-opacity="0.44"/><circle cx="1271" cy="610" r="1.3" fill-opacity="0.13"/><circle cx="78" cy="152" r="0.8" fill-opacity="0.16"/><circle cx="648" cy="595" r="0.8" fill-opacity="0.10"/><circle cx="810" cy="648" r="0.7" fill-opacity="0.36"/><circle cx="1424" cy="414" r="1.0" fill-opacity="0.17"/><circle cx="758" cy="254" r="1.3" fill-opacity="0.31"/><circle cx="1064" cy="264" r="0.8" fill-opacity="0.10"/><circle cx="1268" cy="333" r="1.3" fill-opacity="0.56"/><circle cx="1011" cy="452" r="1.3" fill-opacity="0.18"/><circle cx="115" cy="800" r="0.8" fill-opacity="0.39"/><circle cx="841" cy="627" r="1.0" fill-opacity="0.15"/><circle cx="161" cy="802" r="0.9" fill-opacity="0.21"/><circle cx="1049" cy="36" r="0.8" fill-opacity="0.24"/><circle cx="1230" cy="334" r="0.8" fill-opacity="0.23"/><circle cx="1207" cy="445" r="0.8" fill-opacity="0.27"/><circle cx="722" cy="313" r="1.1" fill-opacity="0.11"/><circle cx="1486" cy="751" r="1.0" fill-opacity="0.42"/><circle cx="76" cy="687" r="0.6" fill-opacity="0.30"/><circle cx="1229" cy="537" r="0.6" fill-opacity="0.40"/><circle cx="530" cy="560" r="0.7" fill-opacity="0.47"/><circle cx="756" cy="199" r="1.3" fill-opacity="0.10"/><circle cx="375" cy="612" r="0.7" fill-opacity="0.51"/><circle cx="1498" cy="658" r="0.8" fill-opacity="0.37"/><circle cx="1191" cy="828" r="0.9" fill-opacity="0.18"/><circle cx="1166" cy="385" r="1.1" fill-opacity="0.33"/><circle cx="419" cy="476" r="1.1" fill-opacity="0.17"/><circle cx="127" cy="526" r="0.9" fill-opacity="0.13"/><circle cx="1019" cy="795" r="1.0" fill-opacity="0.32"/><circle cx="444" cy="42" r="0.7" fill-opacity="0.16"/><circle cx="1409" cy="427" r="0.6" fill-opacity="0.52"/><circle cx="1097" cy="334" r="0.7" fill-opacity="0.32"/><circle cx="168" cy="738" r="0.7" fill-opacity="0.23"/><circle cx="256" cy="228" r="0.7" fill-opacity="0.45"/><circle cx="490" cy="773" r="0.6" fill-opacity="0.29"/><circle cx="389" cy="814" r="0.9" fill-opacity="0.36"/><circle cx="221" cy="102" r="1.0" fill-opacity="0.23"/><circle cx="1154" cy="633" r="0.8" fill-opacity="0.48"/><circle cx="438" cy="73" r="1.1" fill-opacity="0.26"/><circle cx="181" cy="636" r="0.7" fill-opacity="0.10"/><circle cx="1055" cy="154" r="1.3" fill-opacity="0.10"/><circle cx="564" cy="627" r="0.6" fill-opacity="0.35"/><circle cx="590" cy="105" r="1.1" fill-opacity="0.29"/><circle cx="355" cy="70" r="1.3" fill-opacity="0.35"/><circle cx="595" cy="688" r="0.9" fill-opacity="0.36"/><circle cx="15" cy="147" r="0.8" fill-opacity="0.43"/><circle cx="1300" cy="632" r="0.9" fill-opacity="0.39"/><circle cx="1178" cy="229" r="0.6" fill-opacity="0.28"/><circle cx="123" cy="220" r="0.6" fill-opacity="0.32"/><circle cx="131" cy="633" r="1.1" fill-opacity="0.32"/><circle cx="1309" cy="382" r="0.9" fill-opacity="0.58"/><circle cx="714" cy="381" r="1.1" fill-opacity="0.58"/><circle cx="517" cy="375" r="0.7" fill-opacity="0.23"/><circle cx="1385" cy="751" r="0.8" fill-opacity="0.34"/><circle cx="460" cy="396" r="1.1" fill-opacity="0.38"/><circle cx="1119" cy="649" r="0.7" fill-opacity="0.48"/><circle cx="1097" cy="818" r="1.3" fill-opacity="0.15"/><circle cx="560" cy="628" r="1.0" fill-opacity="0.12"/><circle cx="1463" cy="792" r="1.1" fill-opacity="0.31"/><circle cx="1292" cy="672" r="0.6" fill-opacity="0.33"/><circle cx="1478" cy="21" r="0.9" fill-opacity="0.32"/><circle cx="316" cy="12" r="0.9" fill-opacity="0.20"/><circle cx="331" cy="554" r="1.0" fill-opacity="0.37"/><circle cx="838" cy="60" r="1.0" fill-opacity="0.21"/><circle cx="134" cy="110" r="1.0" fill-opacity="0.12"/><circle cx="747" cy="314" r="1.0" fill-opacity="0.56"/><circle cx="1516" cy="165" r="0.9" fill-opacity="0.17"/><circle cx="1152" cy="174" r="1.0" fill-opacity="0.27"/><circle cx="582" cy="539" r="1.0" fill-opacity="0.53"/><circle cx="1524" cy="678" r="0.8" fill-opacity="0.08"/><circle cx="544" cy="118" r="0.7" fill-opacity="0.39"/><circle cx="1040" cy="813" r="1.3" fill-opacity="0.36"/><circle cx="1246" cy="455" r="0.8" fill-opacity="0.29"/><circle cx="1530" cy="207" r="0.9" fill-opacity="0.43"/><circle cx="461" cy="7" r="0.8" fill-opacity="0.18"/><circle cx="1197" cy="387" r="0.6" fill-opacity="0.25"/><circle cx="88" cy="243" r="0.8" fill-opacity="0.13"/><circle cx="954" cy="538" r="1.1" fill-opacity="0.14"/><circle cx="1219" cy="806" r="1.3" fill-opacity="0.24"/><circle cx="141" cy="665" r="1.0" fill-opacity="0.11"/><circle cx="332" cy="408" r="1.3" fill-opacity="0.19"/><circle cx="221" cy="70" r="0.9" fill-opacity="0.20"/><circle cx="1114" cy="527" r="0.9" fill-opacity="0.46"/><circle cx="185" cy="88" r="0.9" fill-opacity="0.14"/><circle cx="919" cy="500" r="0.9" fill-opacity="0.17"/><circle cx="1217" cy="478" r="0.8" fill-opacity="0.10"/><circle cx="741" cy="636" r="0.6" fill-opacity="0.26"/><circle cx="545" cy="797" r="1.0" fill-opacity="0.21"/><circle cx="597" cy="124" r="1.1" fill-opacity="0.25"/><circle cx="108" cy="118" r="1.0" fill-opacity="0.32"/><circle cx="904" cy="423" r="1.3" fill-opacity="0.26"/><circle cx="1086" cy="45" r="1.3" fill-opacity="0.25"/><circle cx="222" cy="342" r="1.1" fill-opacity="0.11"/><circle cx="995" cy="368" r="1.1" fill-opacity="0.30"/><circle cx="112" cy="390" r="1.0" fill-opacity="0.19"/><circle cx="275" cy="468" r="1.1" fill-opacity="0.41"/><circle cx="887" cy="1" r="0.7" fill-opacity="0.13"/><circle cx="43" cy="594" r="1.3" fill-opacity="0.22"/><circle cx="1083" cy="833" r="1.3" fill-opacity="0.16"/><circle cx="927" cy="527" r="1.1" fill-opacity="0.22"/><circle cx="1457" cy="342" r="0.9" fill-opacity="0.14"/><circle cx="89" cy="497" r="0.6" fill-opacity="0.41"/><circle cx="226" cy="239" r="0.9" fill-opacity="0.50"/><circle cx="964" cy="5" r="0.9" fill-opacity="0.19"/><circle cx="279" cy="658" r="1.3" fill-opacity="0.18"/><circle cx="27" cy="383" r="0.9" fill-opacity="0.26"/><circle cx="1133" cy="400" r="0.7" fill-opacity="0.35"/><circle cx="1239" cy="302" r="1.3" fill-opacity="0.25"/><circle cx="175" cy="121" r="0.7" fill-opacity="0.19"/><circle cx="268" cy="358" r="0.6" fill-opacity="0.24"/><circle cx="48" cy="409" r="1.3" fill-opacity="0.50"/><circle cx="924" cy="777" r="1.1" fill-opacity="0.19"/><circle cx="728" cy="9" r="0.9" fill-opacity="0.34"/><circle cx="919" cy="565" r="1.0" fill-opacity="0.30"/><circle cx="566" cy="451" r="0.7" fill-opacity="0.19"/><circle cx="774" cy="266" r="1.1" fill-opacity="0.25"/><circle cx="766" cy="273" r="0.7" fill-opacity="0.37"/><circle cx="612" cy="581" r="0.9" fill-opacity="0.25"/><circle cx="1439" cy="334" r="0.8" fill-opacity="0.14"/><circle cx="952" cy="524" r="1.0" fill-opacity="0.17"/><circle cx="970" cy="224" r="1.1" fill-opacity="0.45"/><circle cx="672" cy="695" r="1.1" fill-opacity="0.25"/><circle cx="1463" cy="788" r="0.7" fill-opacity="0.08"/><circle cx="583" cy="506" r="1.3" fill-opacity="0.21"/><circle cx="750" cy="761" r="1.1" fill-opacity="0.14"/><circle cx="1353" cy="561" r="1.1" fill-opacity="0.13"/><circle cx="1492" cy="249" r="1.0" fill-opacity="0.10"/><circle cx="752" cy="431" r="0.8" fill-opacity="0.55"/><circle cx="1223" cy="835" r="0.6" fill-opacity="0.32"/><circle cx="472" cy="235" r="1.0" fill-opacity="0.39"/><circle cx="433" cy="86" r="0.7" fill-opacity="0.16"/><circle cx="1050" cy="523" r="0.8" fill-opacity="0.17"/><circle cx="134" cy="586" r="1.3" fill-opacity="0.18"/><circle cx="1339" cy="29" r="0.8" fill-opacity="0.18"/><circle cx="826" cy="693" r="0.6" fill-opacity="0.36"/><circle cx="823" cy="516" r="0.8" fill-opacity="0.17"/><circle cx="1406" cy="434" r="1.0" fill-opacity="0.14"/><circle cx="989" cy="814" r="0.7" fill-opacity="0.24"/><circle cx="1537" cy="31" r="0.7" fill-opacity="0.24"/><circle cx="1019" cy="44" r="0.7" fill-opacity="0.09"/><circle cx="495" cy="588" r="0.6" fill-opacity="0.12"/><circle cx="282" cy="792" r="1.0" fill-opacity="0.12"/><circle cx="114" cy="552" r="1.3" fill-opacity="0.39"/><circle cx="1420" cy="108" r="1.0" fill-opacity="0.31"/><circle cx="291" cy="643" r="1.3" fill-opacity="0.33"/><circle cx="1413" cy="817" r="0.7" fill-opacity="0.14"/><circle cx="327" cy="849" r="0.7" fill-opacity="0.07"/><circle cx="1307" cy="553" r="0.9" fill-opacity="0.51"/><circle cx="195" cy="230" r="1.0" fill-opacity="0.28"/><circle cx="169" cy="599" r="0.6" fill-opacity="0.52"/><circle cx="623" cy="65" r="1.0" fill-opacity="0.10"/><circle cx="435" cy="385" r="1.0" fill-opacity="0.32"/><circle cx="1316" cy="342" r="1.3" fill-opacity="0.26"/><circle cx="323" cy="631" r="0.8" fill-opacity="0.10"/><circle cx="44" cy="299" r="0.9" fill-opacity="0.48"/><circle cx="677" cy="696" r="0.9" fill-opacity="0.16"/><circle cx="1328" cy="710" r="0.9" fill-opacity="0.34"/><circle cx="130" cy="388" r="0.8" fill-opacity="0.15"/><circle cx="42" cy="24" r="0.8" fill-opacity="0.24"/><circle cx="63" cy="204" r="0.8" fill-opacity="0.35"/><circle cx="1173" cy="132" r="0.6" fill-opacity="0.12"/><circle cx="290" cy="268" r="1.0" fill-opacity="0.26"/><circle cx="275" cy="758" r="0.6" fill-opacity="0.07"/><circle cx="42" cy="288" r="0.9" fill-opacity="0.24"/><circle cx="497" cy="523" r="0.6" fill-opacity="0.51"/><circle cx="325" cy="272" r="0.7" fill-opacity="0.36"/><circle cx="519" cy="257" r="0.8" fill-opacity="0.18"/><circle cx="380" cy="850" r="1.1" fill-opacity="0.16"/><circle cx="1188" cy="57" r="1.0" fill-opacity="0.27"/><circle cx="351" cy="42" r="1.0" fill-opacity="0.10"/><circle cx="430" cy="153" r="1.1" fill-opacity="0.38"/><circle cx="374" cy="842" r="1.0" fill-opacity="0.09"/><circle cx="1378" cy="562" r="1.3" fill-opacity="0.41"/><circle cx="462" cy="568" r="1.1" fill-opacity="0.23"/><circle cx="1192" cy="461" r="0.9" fill-opacity="0.14"/><circle cx="1405" cy="605" r="0.6" fill-opacity="0.26"/><circle cx="1317" cy="150" r="0.8" fill-opacity="0.34"/><circle cx="1130" cy="673" r="1.1" fill-opacity="0.08"/><circle cx="1497" cy="699" r="0.9" fill-opacity="0.12"/><circle cx="1504" cy="654" r="1.3" fill-opacity="0.20"/><circle cx="146" cy="365" r="1.0" fill-opacity="0.40"/><circle cx="776" cy="706" r="0.8" fill-opacity="0.35"/><circle cx="629" cy="848" r="0.8" fill-opacity="0.27"/><circle cx="820" cy="680" r="0.8" fill-opacity="0.29"/><circle cx="268" cy="697" r="0.7" fill-opacity="0.12"/><circle cx="1363" cy="820" r="0.8" fill-opacity="0.22"/><circle cx="688" cy="799" r="1.0" fill-opacity="0.19"/><circle cx="484" cy="698" r="1.3" fill-opacity="0.16"/><circle cx="1280" cy="845" r="0.7" fill-opacity="0.28"/><circle cx="336" cy="18" r="0.8" fill-opacity="0.30"/><circle cx="1102" cy="284" r="0.9" fill-opacity="0.52"/><circle cx="1227" cy="103" r="0.9" fill-opacity="0.31"/><circle cx="715" cy="815" r="1.1" fill-opacity="0.09"/><circle cx="769" cy="119" r="0.6" fill-opacity="0.17"/><circle cx="770" cy="645" r="1.0" fill-opacity="0.45"/><circle cx="1318" cy="834" r="1.1" fill-opacity="0.19"/><circle cx="1491" cy="619" r="0.6" fill-opacity="0.29"/><circle cx="163" cy="771" r="0.8" fill-opacity="0.10"/><circle cx="1374" cy="40" r="0.7" fill-opacity="0.17"/><circle cx="1465" cy="542" r="0.9" fill-opacity="0.52"/><circle cx="685" cy="68" r="0.8" fill-opacity="0.27"/><circle cx="765" cy="433" r="0.9" fill-opacity="0.23"/><circle cx="898" cy="607" r="0.9" fill-opacity="0.43"/><circle cx="487" cy="284" r="0.9" fill-opacity="0.41"/><circle cx="781" cy="744" r="0.8" fill-opacity="0.26"/><circle cx="1104" cy="294" r="1.1" fill-opacity="0.20"/><circle cx="1116" cy="450" r="0.7" fill-opacity="0.26"/><circle cx="866" cy="523" r="0.9" fill-opacity="0.41"/><circle cx="601" cy="837" r="0.8" fill-opacity="0.32"/><circle cx="854" cy="842" r="0.6" fill-opacity="0.09"/><circle cx="1402" cy="590" r="0.9" fill-opacity="0.43"/><circle cx="911" cy="748" r="1.3" fill-opacity="0.31"/><circle cx="952" cy="72" r="0.9" fill-opacity="0.38"/><circle cx="990" cy="539" r="0.8" fill-opacity="0.51"/><circle cx="1482" cy="54" r="1.0" fill-opacity="0.27"/><circle cx="1013" cy="538" r="1.1" fill-opacity="0.09"/><circle cx="318" cy="85" r="0.8" fill-opacity="0.12"/><circle cx="1202" cy="556" r="1.1" fill-opacity="0.18"/><circle cx="548" cy="683" r="0.8" fill-opacity="0.17"/><circle cx="564" cy="828" r="0.6" fill-opacity="0.07"/><circle cx="556" cy="842" r="0.9" fill-opacity="0.36"/><circle cx="862" cy="611" r="1.3" fill-opacity="0.39"/><circle cx="747" cy="533" r="0.9" fill-opacity="0.21"/><circle cx="1299" cy="784" r="1.3" fill-opacity="0.30"/><circle cx="136" cy="100" r="1.0" fill-opacity="0.24"/><circle cx="1524" cy="511" r="0.7" fill-opacity="0.46"/><circle cx="319" cy="436" r="0.6" fill-opacity="0.50"/><circle cx="1244" cy="709" r="0.9" fill-opacity="0.12"/><circle cx="534" cy="406" r="0.7" fill-opacity="0.37"/><circle cx="47" cy="6" r="0.7" fill-opacity="0.36"/><circle cx="1412" cy="117" r="0.7" fill-opacity="0.07"/><circle cx="378" cy="636" r="0.9" fill-opacity="0.35"/><circle cx="1490" cy="791" r="1.3" fill-opacity="0.39"/><circle cx="125" cy="479" r="0.8" fill-opacity="0.54"/><circle cx="1500" cy="652" r="1.3" fill-opacity="0.35"/><circle cx="54" cy="644" r="0.9" fill-opacity="0.32"/><circle cx="39" cy="383" r="1.3" fill-opacity="0.46"/><circle cx="455" cy="407" r="0.9" fill-opacity="0.48"/><circle cx="347" cy="600" r="1.3" fill-opacity="0.48"/><circle cx="682" cy="72" r="0.6" fill-opacity="0.35"/><circle cx="19" cy="274" r="0.8" fill-opacity="0.18"/><circle cx="972" cy="107" r="1.3" fill-opacity="0.29"/><circle cx="1406" cy="97" r="0.8" fill-opacity="0.36"/><circle cx="851" cy="641" r="0.9" fill-opacity="0.49"/><circle cx="1348" cy="453" r="1.1" fill-opacity="0.50"/><circle cx="1271" cy="601" r="0.6" fill-opacity="0.46"/><circle cx="1285" cy="134" r="0.6" fill-opacity="0.41"/><circle cx="1154" cy="210" r="0.7" fill-opacity="0.43"/><circle cx="1169" cy="141" r="0.7" fill-opacity="0.43"/><circle cx="578" cy="817" r="0.9" fill-opacity="0.35"/><circle cx="333" cy="713" r="0.6" fill-opacity="0.12"/><circle cx="1083" cy="470" r="0.6" fill-opacity="0.32"/><circle cx="637" cy="199" r="1.3" fill-opacity="0.12"/><circle cx="954" cy="525" r="1.3" fill-opacity="0.52"/><circle cx="29" cy="619" r="0.6" fill-opacity="0.22"/><circle cx="913" cy="354" r="0.6" fill-opacity="0.37"/><circle cx="738" cy="693" r="0.8" fill-opacity="0.09"/><circle cx="252" cy="197" r="1.3" fill-opacity="0.14"/><circle cx="533" cy="403" r="0.6" fill-opacity="0.29"/><circle cx="1308" cy="734" r="0.7" fill-opacity="0.32"/><circle cx="890" cy="349" r="0.9" fill-opacity="0.42"/><circle cx="109" cy="402" r="0.9" fill-opacity="0.43"/><circle cx="401" cy="397" r="0.8" fill-opacity="0.30"/><circle cx="803" cy="707" r="1.1" fill-opacity="0.22"/><circle cx="677" cy="13" r="0.7" fill-opacity="0.35"/><circle cx="598" cy="752" r="0.9" fill-opacity="0.31"/><circle cx="570" cy="637" r="1.0" fill-opacity="0.39"/><circle cx="870" cy="774" r="1.3" fill-opacity="0.30"/><circle cx="973" cy="152" r="1.0" fill-opacity="0.15"/><circle cx="836" cy="499" r="0.7" fill-opacity="0.48"/><circle cx="43" cy="481" r="0.9" fill-opacity="0.23"/><circle cx="454" cy="760" r="0.7" fill-opacity="0.36"/><circle cx="777" cy="108" r="0.8" fill-opacity="0.23"/><circle cx="755" cy="24" r="1.3" fill-opacity="0.21"/><circle cx="1511" cy="455" r="0.7" fill-opacity="0.27"/><circle cx="1103" cy="547" r="0.9" fill-opacity="0.48"/><circle cx="1432" cy="431" r="0.8" fill-opacity="0.40"/><circle cx="75" cy="424" r="0.8" fill-opacity="0.52"/><circle cx="195" cy="629" r="1.0" fill-opacity="0.49"/><circle cx="1146" cy="528" r="1.0" fill-opacity="0.16"/><circle cx="916" cy="391" r="1.1" fill-opacity="0.29"/><circle cx="902" cy="226" r="1.3" fill-opacity="0.31"/><circle cx="782" cy="491" r="0.8" fill-opacity="0.33"/><circle cx="499" cy="492" r="1.1" fill-opacity="0.55"/><circle cx="715" cy="648" r="0.6" fill-opacity="0.23"/><circle cx="1158" cy="474" r="0.8" fill-opacity="0.43"/><circle cx="1524" cy="293" r="0.9" fill-opacity="0.34"/><circle cx="1407" cy="731" r="1.3" fill-opacity="0.21"/><circle cx="1448" cy="577" r="0.7" fill-opacity="0.12"/><circle cx="507" cy="268" r="0.7" fill-opacity="0.52"/><circle cx="1236" cy="465" r="1.0" fill-opacity="0.38"/><circle cx="535" cy="657" r="1.3" fill-opacity="0.15"/><circle cx="1393" cy="579" r="0.8" fill-opacity="0.34"/><circle cx="390" cy="353" r="1.0" fill-opacity="0.36"/><circle cx="620" cy="261" r="0.8" fill-opacity="0.30"/><circle cx="598" cy="611" r="1.1" fill-opacity="0.13"/><circle cx="822" cy="621" r="0.9" fill-opacity="0.36"/><circle cx="258" cy="255" r="0.8" fill-opacity="0.15"/><circle cx="701" cy="652" r="0.8" fill-opacity="0.34"/><circle cx="999" cy="651" r="0.9" fill-opacity="0.24"/><circle cx="1210" cy="74" r="0.6" fill-opacity="0.31"/><circle cx="1423" cy="753" r="0.6" fill-opacity="0.29"/><circle cx="808" cy="597" r="1.1" fill-opacity="0.36"/><circle cx="535" cy="153" r="1.0" fill-opacity="0.37"/><circle cx="410" cy="818" r="0.7" fill-opacity="0.26"/><circle cx="1201" cy="616" r="1.1" fill-opacity="0.33"/><circle cx="778" cy="258" r="0.8" fill-opacity="0.14"/><circle cx="126" cy="387" r="1.1" fill-opacity="0.14"/><circle cx="1252" cy="528" r="1.0" fill-opacity="0.33"/><circle cx="724" cy="830" r="0.7" fill-opacity="0.17"/><circle cx="1245" cy="472" r="0.7" fill-opacity="0.27"/><circle cx="203" cy="784" r="0.9" fill-opacity="0.16"/><circle cx="70" cy="559" r="0.8" fill-opacity="0.14"/><circle cx="1078" cy="56" r="1.0" fill-opacity="0.14"/><circle cx="357" cy="712" r="1.1" fill-opacity="0.38"/><circle cx="45" cy="202" r="0.9" fill-opacity="0.23"/><circle cx="59" cy="222" r="0.8" fill-opacity="0.39"/><circle cx="1304" cy="174" r="0.6" fill-opacity="0.26"/><circle cx="725" cy="156" r="1.0" fill-opacity="0.12"/><circle cx="1426" cy="123" r="0.6" fill-opacity="0.23"/><circle cx="329" cy="806" r="0.6" fill-opacity="0.19"/><circle cx="1279" cy="779" r="0.7" fill-opacity="0.14"/><circle cx="1330" cy="259" r="1.0" fill-opacity="0.11"/><circle cx="1545" cy="58" r="0.7" fill-opacity="0.11"/><circle cx="838" cy="624" r="1.3" fill-opacity="0.48"/><circle cx="1284" cy="805" r="0.6" fill-opacity="0.28"/><circle cx="578" cy="807" r="0.9" fill-opacity="0.16"/><circle cx="587" cy="441" r="1.3" fill-opacity="0.45"/><circle cx="1294" cy="423" r="1.3" fill-opacity="0.24"/><circle cx="234" cy="109" r="1.1" fill-opacity="0.25"/><circle cx="174" cy="769" r="1.3" fill-opacity="0.07"/><circle cx="1394" cy="206" r="1.0" fill-opacity="0.10"/><circle cx="772" cy="259" r="1.0" fill-opacity="0.49"/><circle cx="655" cy="87" r="1.1" fill-opacity="0.32"/><circle cx="1016" cy="238" r="0.7" fill-opacity="0.28"/><circle cx="1119" cy="774" r="0.8" fill-opacity="0.24"/><circle cx="1182" cy="840" r="0.8" fill-opacity="0.16"/><circle cx="603" cy="645" r="1.1" fill-opacity="0.31"/><circle cx="734" cy="390" r="0.7" fill-opacity="0.29"/><circle cx="1531" cy="267" r="0.6" fill-opacity="0.36"/><circle cx="90" cy="316" r="1.1" fill-opacity="0.13"/><circle cx="947" cy="299" r="0.6" fill-opacity="0.20"/><circle cx="882" cy="456" r="1.3" fill-opacity="0.43"/><circle cx="858" cy="562" r="0.9" fill-opacity="0.41"/><circle cx="887" cy="181" r="1.0" fill-opacity="0.19"/><circle cx="1313" cy="544" r="0.8" fill-opacity="0.24"/><circle cx="394" cy="660" r="1.1" fill-opacity="0.15"/><circle cx="934" cy="10" r="1.3" fill-opacity="0.08"/><circle cx="29" cy="514" r="0.7" fill-opacity="0.36"/><circle cx="782" cy="348" r="1.0" fill-opacity="0.47"/><circle cx="759" cy="620" r="1.1" fill-opacity="0.28"/><circle cx="1365" cy="658" r="1.0" fill-opacity="0.29"/><circle cx="155" cy="663" r="1.1" fill-opacity="0.33"/><circle cx="110" cy="445" r="0.9" fill-opacity="0.10"/><circle cx="673" cy="103" r="0.8" fill-opacity="0.23"/><circle cx="1280" cy="222" r="1.0" fill-opacity="0.44"/><circle cx="519" cy="476" r="0.6" fill-opacity="0.38"/><circle cx="826" cy="311" r="0.9" fill-opacity="0.10"/><circle cx="1354" cy="766" r="1.3" fill-opacity="0.09"/><circle cx="564" cy="23" r="1.1" fill-opacity="0.18"/><circle cx="916" cy="255" r="1.3" fill-opacity="0.21"/><circle cx="849" cy="249" r="1.1" fill-opacity="0.10"/><circle cx="743" cy="455" r="0.7" fill-opacity="0.13"/><circle cx="1363" cy="589" r="0.8" fill-opacity="0.44"/><circle cx="1200" cy="439" r="0.6" fill-opacity="0.24"/><circle cx="834" cy="555" r="1.3" fill-opacity="0.13"/><circle cx="850" cy="73" r="0.7" fill-opacity="0.35"/><circle cx="742" cy="739" r="1.0" fill-opacity="0.21"/><circle cx="627" cy="828" r="1.0" fill-opacity="0.31"/><circle cx="946" cy="682" r="0.9" fill-opacity="0.28"/><circle cx="1017" cy="224" r="0.9" fill-opacity="0.39"/><circle cx="1545" cy="155" r="1.1" fill-opacity="0.32"/><circle cx="1193" cy="614" r="1.3" fill-opacity="0.22"/><circle cx="1424" cy="92" r="1.3" fill-opacity="0.39"/><circle cx="871" cy="619" r="1.3" fill-opacity="0.36"/><circle cx="46" cy="453" r="0.7" fill-opacity="0.50"/><circle cx="502" cy="416" r="0.9" fill-opacity="0.59"/><circle cx="1148" cy="487" r="0.6" fill-opacity="0.45"/><circle cx="4" cy="802" r="0.8" fill-opacity="0.13"/><circle cx="181" cy="113" r="0.6" fill-opacity="0.32"/><circle cx="1055" cy="697" r="1.3" fill-opacity="0.22"/><circle cx="1440" cy="350" r="0.7" fill-opacity="0.38"/><circle cx="965" cy="432" r="0.7" fill-opacity="0.28"/><circle cx="1281" cy="706" r="0.7" fill-opacity="0.24"/><circle cx="59" cy="533" r="0.7" fill-opacity="0.53"/><circle cx="528" cy="523" r="0.6" fill-opacity="0.22"/><circle cx="206" cy="675" r="1.3" fill-opacity="0.13"/><circle cx="1024" cy="401" r="0.9" fill-opacity="0.33"/><circle cx="312" cy="114" r="1.0" fill-opacity="0.20"/><circle cx="893" cy="641" r="1.0" fill-opacity="0.31"/><circle cx="468" cy="560" r="0.9" fill-opacity="0.50"/><circle cx="1259" cy="362" r="0.8" fill-opacity="0.14"/><circle cx="60" cy="183" r="0.6" fill-opacity="0.39"/><circle cx="1521" cy="47" r="1.1" fill-opacity="0.08"/><circle cx="1522" cy="81" r="1.3" fill-opacity="0.09"/><circle cx="522" cy="131" r="0.8" fill-opacity="0.20"/><circle cx="25" cy="112" r="1.1" fill-opacity="0.25"/><circle cx="1038" cy="86" r="0.9" fill-opacity="0.33"/><circle cx="529" cy="441" r="0.8" fill-opacity="0.58"/><circle cx="1135" cy="732" r="0.7" fill-opacity="0.22"/><circle cx="1404" cy="386" r="1.3" fill-opacity="0.54"/><circle cx="776" cy="355" r="0.7" fill-opacity="0.41"/><circle cx="588" cy="853" r="0.6" fill-opacity="0.35"/><circle cx="946" cy="846" r="0.8" fill-opacity="0.21"/><circle cx="1157" cy="38" r="1.1" fill-opacity="0.10"/><circle cx="663" cy="595" r="1.0" fill-opacity="0.39"/><circle cx="775" cy="659" r="0.9" fill-opacity="0.21"/><circle cx="17" cy="351" r="1.0" fill-opacity="0.18"/><circle cx="713" cy="714" r="0.6" fill-opacity="0.19"/><circle cx="897" cy="713" r="1.0" fill-opacity="0.33"/><circle cx="886" cy="246" r="0.7" fill-opacity="0.47"/><circle cx="1197" cy="829" r="0.6" fill-opacity="0.29"/><circle cx="1075" cy="588" r="0.9" fill-opacity="0.16"/><circle cx="224" cy="721" r="0.6" fill-opacity="0.37"/><circle cx="1438" cy="786" r="1.1" fill-opacity="0.27"/><circle cx="348" cy="55" r="0.9" fill-opacity="0.27"/><circle cx="1071" cy="210" r="0.8" fill-opacity="0.11"/><circle cx="555" cy="710" r="0.8" fill-opacity="0.21"/><circle cx="70" cy="312" r="0.9" fill-opacity="0.50"/><circle cx="626" cy="282" r="0.8" fill-opacity="0.10"/><circle cx="1215" cy="754" r="1.3" fill-opacity="0.36"/><circle cx="1051" cy="100" r="0.9" fill-opacity="0.13"/><circle cx="1142" cy="305" r="0.6" fill-opacity="0.47"/><circle cx="1003" cy="102" r="0.8" fill-opacity="0.13"/><circle cx="1031" cy="373" r="0.6" fill-opacity="0.54"/><circle cx="1140" cy="18" r="1.3" fill-opacity="0.30"/><circle cx="1445" cy="142" r="0.7" fill-opacity="0.43"/><circle cx="959" cy="634" r="1.3" fill-opacity="0.30"/><circle cx="330" cy="498" r="1.3" fill-opacity="0.25"/><circle cx="451" cy="395" r="1.1" fill-opacity="0.47"/><circle cx="664" cy="846" r="0.8" fill-opacity="0.17"/><circle cx="246" cy="548" r="0.8" fill-opacity="0.43"/><circle cx="783" cy="618" r="0.8" fill-opacity="0.31"/><circle cx="1026" cy="646" r="1.3" fill-opacity="0.30"/><circle cx="1418" cy="401" r="0.9" fill-opacity="0.32"/><circle cx="1469" cy="272" r="1.0" fill-opacity="0.52"/><circle cx="785" cy="303" r="1.3" fill-opacity="0.49"/><circle cx="281" cy="604" r="1.0" fill-opacity="0.32"/><circle cx="1372" cy="738" r="1.3" fill-opacity="0.42"/><circle cx="1119" cy="488" r="0.6" fill-opacity="0.26"/><circle cx="459" cy="338" r="0.6" fill-opacity="0.28"/><circle cx="566" cy="353" r="0.6" fill-opacity="0.17"/><circle cx="64" cy="580" r="0.8" fill-opacity="0.19"/><circle cx="694" cy="310" r="0.9" fill-opacity="0.12"/><circle cx="1238" cy="194" r="0.7" fill-opacity="0.33"/><circle cx="1483" cy="697" r="1.0" fill-opacity="0.09"/><circle cx="1308" cy="5" r="1.0" fill-opacity="0.08"/><circle cx="698" cy="698" r="1.1" fill-opacity="0.14"/><circle cx="227" cy="597" r="0.9" fill-opacity="0.32"/><circle cx="274" cy="257" r="0.7" fill-opacity="0.52"/><circle cx="568" cy="183" r="0.8" fill-opacity="0.27"/><circle cx="93" cy="33" r="0.6" fill-opacity="0.11"/><circle cx="162" cy="260" r="1.1" fill-opacity="0.15"/><circle cx="1314" cy="307" r="0.9" fill-opacity="0.13"/><circle cx="239" cy="530" r="1.0" fill-opacity="0.11"/><circle cx="749" cy="794" r="1.0" fill-opacity="0.19"/><circle cx="789" cy="219" r="1.3" fill-opacity="0.29"/><circle cx="983" cy="608" r="0.9" fill-opacity="0.51"/><circle cx="1485" cy="693" r="1.1" fill-opacity="0.44"/><circle cx="307" cy="143" r="0.8" fill-opacity="0.38"/><circle cx="673" cy="18" r="1.1" fill-opacity="0.16"/><circle cx="340" cy="540" r="1.1" fill-opacity="0.18"/><circle cx="1277" cy="228" r="1.3" fill-opacity="0.22"/><circle cx="524" cy="305" r="0.9" fill-opacity="0.43"/><circle cx="320" cy="574" r="0.7" fill-opacity="0.16"/><circle cx="1077" cy="406" r="1.1" fill-opacity="0.31"/><circle cx="176" cy="498" r="0.7" fill-opacity="0.55"/><circle cx="307" cy="562" r="0.9" fill-opacity="0.32"/><circle cx="50" cy="225" r="0.6" fill-opacity="0.28"/><circle cx="1111" cy="21" r="0.6" fill-opacity="0.11"/><circle cx="1144" cy="558" r="0.8" fill-opacity="0.37"/><circle cx="1379" cy="330" r="1.0" fill-opacity="0.37"/><circle cx="205" cy="131" r="1.1" fill-opacity="0.21"/><circle cx="394" cy="798" r="1.3" fill-opacity="0.10"/><circle cx="108" cy="733" r="1.0" fill-opacity="0.14"/><circle cx="536" cy="89" r="0.7" fill-opacity="0.08"/><circle cx="276" cy="736" r="1.3" fill-opacity="0.27"/><circle cx="291" cy="844" r="1.0" fill-opacity="0.34"/><circle cx="165" cy="60" r="1.1" fill-opacity="0.37"/><circle cx="669" cy="666" r="0.6" fill-opacity="0.10"/></g><circle cx="1283" cy="722" r="3.0" fill="url(#gs)"/><circle cx="1434" cy="696" r="2.5" fill="url(#gs)"/><circle cx="1368" cy="81" r="3.2" fill="url(#gs)"/><circle cx="323" cy="232" r="3.7" fill="url(#gs)"/><circle cx="71" cy="814" r="2.8" fill="url(#gs)"/><circle cx="1054" cy="341" r="5.0" fill="url(#gs)"/><circle cx="866" cy="452" r="4.5" fill="url(#gs)"/><circle cx="868" cy="417" r="2.7" fill="url(#gs)"/><circle cx="1236" cy="554" r="3.6" fill="url(#gs)"/><circle cx="1527" cy="428" r="4.4" fill="url(#gs)"/><circle cx="253" cy="347" r="4.1" fill="url(#gs)"/><circle cx="400" cy="837" r="5.2" fill="url(#gs)"/><circle cx="997" cy="624" r="3.0" fill="url(#gs)"/><circle cx="1193" cy="733" r="3.6" fill="url(#gs)"/><circle cx="874" cy="574" r="2.9" fill="url(#gs)"/><circle cx="71" cy="210" r="3.8" fill="url(#gs)"/><circle cx="984" cy="729" r="3.0" fill="url(#gs)"/><circle cx="259" cy="393" r="2.7" fill="url(#gs)"/><circle cx="400" cy="447" r="4.3" fill="url(#gs)"/><circle cx="163" cy="204" r="3.6" fill="url(#gs)"/><circle cx="805" cy="205" r="4.2" fill="url(#gs)"/><circle cx="872" cy="812" r="5.1" fill="url(#gs)"/><circle cx="970" cy="138" r="3.8" fill="url(#gs)"/><circle cx="419" cy="285" r="2.4" fill="url(#gs)"/><circle cx="1068" cy="575" r="3.0" fill="url(#gs)"/><circle cx="356" cy="834" r="3.9" fill="url(#gs)"/><circle cx="1077" cy="259" r="5.0" fill="url(#gs)"/><circle cx="1110" cy="462" r="2.5" fill="url(#gs)"/><circle cx="674" cy="89" r="2.8" fill="url(#gs)"/><circle cx="1208" cy="156" r="2.8" fill="url(#gs)"/><circle cx="528" cy="815" r="2.7" fill="url(#gs)"/><circle cx="643" cy="480" r="2.3" fill="url(#gs)"/><circle cx="870" cy="124" r="3.2" fill="url(#gs)"/><circle cx="498" cy="838" r="3.5" fill="url(#gs)"/><circle cx="462" cy="324" r="3.1" fill="url(#gs)"/><circle cx="250" cy="313" r="4.3" fill="url(#gs)"/><circle cx="545" cy="247" r="2.3" fill="url(#gs)"/><circle cx="1217" cy="300" r="3.0" fill="url(#gs)"/><circle cx="1310" cy="816" r="3.9" fill="url(#gs)"/><circle cx="107" cy="714" r="4.5" fill="url(#gs)"/><circle cx="27" cy="292" r="4.7" fill="url(#gs)"/><circle cx="735" cy="206" r="5.2" fill="url(#gs)"/><circle cx="328" cy="209" r="4.3" fill="url(#gs)"/><circle cx="1525" cy="615" r="2.3" fill="url(#gs)"/><circle cx="31" cy="235" r="4.2" fill="url(#gs)"/><circle cx="1482" cy="159" r="4.2" fill="url(#gs)"/><circle cx="1043" cy="93" r="4.9" fill="url(#gs)"/><circle cx="484" cy="358" r="4.6" fill="url(#gs)"/><circle cx="839" cy="552" r="2.4" fill="url(#gs)"/><circle cx="962" cy="185" r="4.7" fill="url(#gs)"/><circle cx="1196" cy="570" r="4.1" fill="url(#gs)"/><circle cx="1509" cy="709" r="4.3" fill="url(#gs)"/><circle cx="556" cy="80" r="5.2" fill="url(#gs)"/><circle cx="99" cy="103" r="4.0" fill="url(#gs)"/><circle cx="1533" cy="413" r="2.8" fill="url(#gs)"/><circle cx="30" cy="194" r="3.3" fill="url(#gs)"/><circle cx="539" cy="277" r="4.8" fill="url(#gs)"/><circle cx="1544" cy="823" r="2.8" fill="url(#gs)"/><circle cx="1077" cy="196" r="3.6" fill="url(#gs)"/><circle cx="773" cy="313" r="4.6" fill="url(#gs)"/><circle cx="339" cy="688" r="4.5" fill="url(#gs)"/><circle cx="972" cy="129" r="2.6" fill="url(#gs)"/><circle cx="1246" cy="808" r="2.9" fill="url(#gs)"/><circle cx="1030" cy="654" r="4.8" fill="url(#gs)"/><circle cx="210" cy="228" r="2.4" fill="url(#gs)"/><circle cx="1071" cy="346" r="4.3" fill="url(#gs)"/><circle cx="255" cy="562" r="3.0" fill="url(#gs)"/><circle cx="677" cy="524" r="5.1" fill="url(#gs)"/><circle cx="296" cy="673" r="2.4" fill="url(#gs)"/><circle cx="273" cy="607" r="2.4" fill="url(#gs)"/><circle cx="1299" cy="754" r="2.9" fill="url(#gs)"/><circle cx="1092" cy="570" r="5.1" fill="url(#gs)"/><circle cx="765" cy="353" r="4.8" fill="url(#gs)"/><circle cx="412" cy="773" r="3.3" fill="url(#gs)"/><circle cx="629" cy="713" r="4.5" fill="url(#gs)"/><circle cx="285" cy="577" r="5.2" fill="url(#gs)"/><circle cx="618" cy="500" r="4.2" fill="url(#gs)"/><circle cx="1112" cy="371" r="3.3" fill="url(#gs)"/><circle cx="274" cy="552" r="3.2" fill="url(#gs)"/><circle cx="1215" cy="104" r="4.5" fill="url(#gs)"/><circle cx="248" cy="739" r="4.7" fill="url(#gs)"/><circle cx="550" cy="146" r="2.8" fill="url(#gs)"/><circle cx="321" cy="824" r="4.6" fill="url(#gs)"/><circle cx="37" cy="77" r="3.9" fill="url(#gs)"/><circle cx="702" cy="495" r="4.7" fill="url(#gs)"/><circle cx="1294" cy="174" r="5.1" fill="url(#gs)"/><circle cx="709" cy="432" r="2.7" fill="url(#gs)"/><circle cx="369" cy="213" r="3.0" fill="url(#gs)"/><circle cx="841" cy="269" r="3.0" fill="url(#gs)"/><circle cx="171" cy="123" r="4.9" fill="url(#gs)"/><circle cx="677" cy="418" r="2.6" fill="url(#gs)"/><circle cx="1520" cy="80" r="4.6" fill="url(#gs)"/><circle cx="67" cy="292" r="3.7" fill="url(#gs)"/><circle cx="703" cy="612" r="3.9" fill="url(#gs)"/><circle cx="1084" cy="121" r="3.1" fill="url(#gs)"/></svg>
<h1>安徽继续教育在线平台大数据观测中心</h1>
<div class="panel" style="left:9px;top:63px;width:384px;height:260px"><i class="tl"></i><i class="tr"></i><i class="bl"></i><i class="br"></i><h3 style="left:9px;top:8px">学生在线时长</h3></div>
<div class="panel" style="left:9px;top:326px;width:384px;height:260px"><i class="tl"></i><i class="tr"></i><i class="bl"></i><i class="br"></i><h3 style="left:9px;top:7px">学生日访问量</h3></div>
<div class="panel" style="left:9px;top:589px;width:384px;height:260px"><i class="tl"></i><i class="tr"></i><i class="bl"></i><i class="br"></i><h3 style="left:9px;top:9px">学生及格率</h3></div>
<div class="panel" style="left:398px;top:63px;width:751px;height:207px"><i class="tl"></i><i class="tr"></i><i class="bl"></i><i class="br"></i></div>
<div class="panel" style="left:398px;top:274px;width:751px;height:312px"><i class="tl"></i><i class="tr"></i><i class="bl"></i><i class="br"></i></div>
<div class="panel" style="left:398px;top:589px;width:751px;height:260px"><i class="tl"></i><i class="tr"></i><i class="bl"></i><i class="br"></i><h3 style="left:7px;top:9px">月度总访问量走势</h3></div>
<div class="panel" style="left:1152px;top:63px;width:384px;height:260px"><i class="tl"></i><i class="tr"></i><i class="bl"></i><i class="br"></i><h3 style="left:8px;top:9.5px">课程建设</h3></div>
<div class="panel" style="left:1152px;top:326px;width:384px;height:260px"><i class="tl"></i><i class="tr"></i><i class="bl"></i><i class="br"></i><h3 style="left:8px;top:9.5px">资源上传</h3></div>
<div class="panel" style="left:1152px;top:589px;width:384px;height:260px"><i class="tl"></i><i class="tr"></i><i class="bl"></i><i class="br"></i><h3 style="left:8px;top:8px">课程学习</h3></div>
<div class="card" style="left:429px;background:linear-gradient(115deg,#03a9f4 0%,#0aa6a2 100%)"><b>371</b><span>在线人数</span></div>
<div class="card" style="left:671px;background:linear-gradient(115deg,#7410ff 0%,#5c1ef6 100%)"><b>20553</b><span>今日浏览量</span></div>
<div class="card" style="left:912px;background:linear-gradient(100deg,#1e9ef8 0%,#2a64f6 100%)"><b>601744622</b><span>总访问量</span></div>
<div class="pt" style="left:498.7px">资源分类统计</div><div class="pt" style="left:860.2px">资源评价统计</div>
<table><colgroup><col style="width:144.5px"><col style="width:64px"><col style="width:88px"><col></colgroup><tr><th>高校名称</th><th>课程数</th><th>选课人数</th><th>学习总人次</th></tr><tr><td>安徽大学</td><td>1811</td><td>159693</td><td>711627</td></tr><tr class="s"><td>安徽师范大学</td><td>293</td><td>143994</td><td>655428</td></tr><tr><td>安徽开放大学</td><td>3171</td><td>120328</td><td>790200</td></tr><tr class="s"><td>安徽农业大学</td><td>974</td><td>119573</td><td>493481</td></tr><tr><td>淮北师范大学</td><td>992</td><td>118331</td><td>413029</td></tr></table>
<svg id="charts" width="1545" height="855" viewBox="0 0 1545 855" font-family='"Liberation Sans", "Noto Sans CJK SC", sans-serif'><defs>
<linearGradient id="hl" x1="185" y1="0" x2="1370" y2="0" gradientUnits="userSpaceOnUse">
<stop offset="0" stop-color="#2f7fee" stop-opacity="0"/><stop offset="0.12" stop-color="#2f7fee" stop-opacity="0.3"/><stop offset="0.235" stop-color="#3585f0" stop-opacity="0.95"/><stop offset="0.765" stop-color="#3585f0" stop-opacity="0.95"/><stop offset="0.88" stop-color="#2f7fee" stop-opacity="0.3"/><stop offset="1" stop-color="#2f7fee" stop-opacity="0"/></linearGradient>
<linearGradient id="hl2" x1="185" y1="0" x2="1370" y2="0" gradientUnits="userSpaceOnUse">
<stop offset="0.18" stop-color="#0c2a78" stop-opacity="0"/><stop offset="0.245" stop-color="#0c2a78" stop-opacity="0.5"/><stop offset="0.755" stop-color="#0c2a78" stop-opacity="0.5"/><stop offset="0.82" stop-color="#0c2a78" stop-opacity="0"/></linearGradient>
<linearGradient id="vb" x1="0" y1="0" x2="0" y2="1"><stop offset="0" stop-color="#2be0e0"/><stop offset="1" stop-color="#2c68e2"/></linearGradient>
<linearGradient id="hb1" x1="0" y1="0" x2="1" y2="0"><stop offset="0" stop-color="#2a7ccf"/><stop offset="1" stop-color="#4cbcf2"/></linearGradient>
<linearGradient id="hb2" x1="0" y1="0" x2="1" y2="0"><stop offset="0" stop-color="#2a98dc"/><stop offset="1" stop-color="#1fe25a"/></linearGradient>
<linearGradient id="a20" x1="0" y1="694" x2="0" y2="814" gradientUnits="userSpaceOnUse"><stop offset="0" stop-color="#1668c8" stop-opacity="0.60"/><stop offset="1" stop-color="#143c88" stop-opacity="0.25"/></linearGradient>
<linearGradient id="a21" x1="0" y1="757" x2="0" y2="814" gradientUnits="userSpaceOnUse"><stop offset="0" stop-color="#4a5068" stop-opacity="0.62"/><stop offset="1" stop-color="#30365a" stop-opacity="0.25"/></linearGradient>
<linearGradient id="a22" x1="0" y1="800" x2="0" y2="814" gradientUnits="userSpaceOnUse"><stop offset="0" stop-color="#38b8d8" stop-opacity="0.7"/><stop offset="1" stop-color="#38b8d8" stop-opacity="0.2"/></linearGradient>
</defs><path d="M400 23.8 H477.3 L529.3 63.2 H1025.3 L1077.8 23.8 H1155" fill="none" stroke="url(#hl2)" stroke-width="4.5" stroke-linejoin="round"/><path d="M185 23.8 H477.3 M1077.8 23.8 H1370" fill="none" stroke="url(#hl)" stroke-width="1.3"/><path d="M476.8 23.8 H477.3 L529.3 63.2 H1025.3 L1077.8 23.8 H1078.3" fill="none" stroke="url(#hl)" stroke-width="1.9" stroke-linejoin="round"/><rect x="723" y="60.5" width="101.5" height="3.2" rx="1.5" fill="#16b6f6"/><line x1="203.3" y1="93.6" x2="224.3" y2="93.6" stroke="#22d6b4" stroke-opacity="0.5" stroke-width="1.3"/><circle cx="213.8" cy="93.6" r="5.6" fill="#22d6b4" fill-opacity="0.4"/><circle cx="213.8" cy="93.6" r="4.3" fill="#d6fff3"/><text x="228.0" y="97.2" font-size="10" text-anchor="start" fill="#e4e4f0" stroke="#e4e4f0" stroke-width="0.3">2022年</text><line x1="267.9" y1="93.6" x2="288.9" y2="93.6" stroke="#a8a850" stroke-opacity="0.5" stroke-width="1.3"/><circle cx="278.4" cy="93.6" r="5.6" fill="#a8a850" fill-opacity="0.4"/><circle cx="278.4" cy="93.6" r="4.3" fill="#fbffea"/><text x="292.6" y="97.2" font-size="10" text-anchor="start" fill="#e4e4f0" stroke="#e4e4f0" stroke-width="0.3">2021年</text><line x1="332.5" y1="93.6" x2="353.5" y2="93.6" stroke="#b8b070" stroke-opacity="0.5" stroke-width="1.3"/><circle cx="343.0" cy="93.6" r="5.6" fill="#b8b070" fill-opacity="0.4"/><circle cx="343.0" cy="93.6" r="4.3" fill="#fbffea"/><text x="357.2" y="97.2" font-size="10" text-anchor="start" fill="#e4e4f0" stroke="#e4e4f0" stroke-width="0.3">2020年</text><path d="M69.5 116.7 V292.8 H356.8" fill="none" stroke="#d6d6e6" stroke-width="1.4"/><line x1="64.5" y1="292.8" x2="69.5" y2="292.8" stroke="#d6d6e6" stroke-width="1.2"/><text x="63.5" y="296.2" font-size="10.3" text-anchor="end" fill="#e4e4f0" stroke="#e4e4f0" stroke-width="0.3">0</text><line x1="64.5" y1="263.5" x2="69.5" y2="263.5" stroke="#d6d6e6" stroke-width="1.2"/><text x="63.5" y="266.9" font-size="10.3" text-anchor="end" fill="#e4e4f0" stroke="#e4e4f0" stroke-width="0.3">30,000</text><line x1="64.5" y1="234.3" x2="69.5" y2="234.3" stroke="#d6d6e6" stroke-width="1.2"/><text x="63.5" y="237.7" font-size="10.3" text-anchor="end" fill="#e4e4f0" stroke="#e4e4f0" stroke-width="0.3">60,000</text><line x1="64.5" y1="205.0" x2="69.5" y2="205.0" stroke="#d6d6e6" stroke-width="1.2"/><text x="63.5" y="208.4" font-size="10.3" text-anchor="end" fill="#e4e4f0" stroke="#e4e4f0" stroke-width="0.3">90,000</text><line x1="64.5" y1="175.7" x2="69.5" y2="175.7" stroke="#d6d6e6" stroke-width="1.2"/><text x="63.5" y="179.1" font-size="10.3" text-anchor="end" fill="#e4e4f0" stroke="#e4e4f0" stroke-width="0.3">120,000</text><line x1="64.5" y1="146.5" x2="69.5" y2="146.5" stroke="#d6d6e6" stroke-width="1.2"/><text x="63.5" y="149.9" font-size="10.3" text-anchor="end" fill="#e4e4f0" stroke="#e4e4f0" stroke-width="0.3">150,000</text><line x1="64.5" y1="117.2" x2="69.5" y2="117.2" stroke="#d6d6e6" stroke-width="1.2"/><text x="63.5" y="120.6" font-size="10.3" text-anchor="end" fill="#e4e4f0" stroke="#e4e4f0" stroke-width="0.3">180,000</text><line x1="69.5" y1="292.8" x2="69.5" y2="297.8" stroke="#d6d6e6" stroke-width="1.2"/><text x="69.5" y="308.0" font-size="11" text-anchor="middle" fill="#e4e4f0" stroke="#e4e4f0" stroke-width="0.3">01-10</text><line x1="117.3" y1="292.8" x2="117.3" y2="297.8" stroke="#d6d6e6" stroke-width="1.2"/><text x="117.3" y="308.0" font-size="11" text-anchor="middle" fill="#e4e4f0" stroke="#e4e4f0" stroke-width="0.3">01-11</text><line x1="165.1" y1="292.8" x2="165.1" y2="297.8" stroke="#d6d6e6" stroke-width="1.2"/><text x="165.1" y="308.0" font-size="11" text-anchor="middle" fill="#e4e4f0" stroke="#e4e4f0" stroke-width="0.3">01-12</text><line x1="212.9" y1="292.8" x2="212.9" y2="297.8" stroke="#d6d6e6" stroke-width="1.2"/><text x="212.9" y="308.0" font-size="11" text-anchor="middle" fill="#e4e4f0" stroke="#e4e4f0" stroke-width="0.3">01-13</text><line x1="260.7" y1="292.8" x2="260.7" y2="297.8" stroke="#d6d6e6" stroke-width="1.2"/><text x="260.7" y="308.0" font-size="11" text-anchor="middle" fill="#e4e4f0" stroke="#e4e4f0" stroke-width="0.3">01-14</text><line x1="308.5" y1="292.8" x2="308.5" y2="297.8" stroke="#d6d6e6" stroke-width="1.2"/><text x="308.5" y="308.0" font-size="11" text-anchor="middle" fill="#e4e4f0" stroke="#e4e4f0" stroke-width="0.3">01-15</text><line x1="356.3" y1="292.8" x2="356.3" y2="297.8" stroke="#d6d6e6" stroke-width="1.2"/><text x="356.3" y="308.0" font-size="11" text-anchor="middle" fill="#e4e4f0" stroke="#e4e4f0" stroke-width="0.3">01-16</text><polyline points="69.5,244.7 117.3,245.0 165.1,248.6 212.9,250.8 260.7,253.3 308.5,263.7 356.3,267.1" fill="none" stroke="#1fd2b2" stroke-width="1.7" stroke-linejoin="round"/><circle cx="69.5" cy="244.7" r="1.8" fill="#fbfff0" stroke="#1fd2b2" stroke-opacity="0.6" stroke-width="0.8"/><circle cx="117.3" cy="245.0" r="1.8" fill="#fbfff0" stroke="#1fd2b2" stroke-opacity="0.6" stroke-width="0.8"/><circle cx="165.1" cy="248.6" r="1.8" fill="#fbfff0" stroke="#1fd2b2" stroke-opacity="0.6" stroke-width="0.8"/><circle cx="212.9" cy="250.8" r="1.8" fill="#fbfff0" stroke="#1fd2b2" stroke-opacity="0.6" stroke-width="0.8"/><circle cx="260.7" cy="253.3" r="1.8" fill="#fbfff0" stroke="#1fd2b2" stroke-opacity="0.6" stroke-width="0.8"/><circle cx="308.5" cy="263.7" r="1.8" fill="#fbfff0" stroke="#1fd2b2" stroke-opacity="0.6" stroke-width="0.8"/><circle cx="356.3" cy="267.1" r="1.8" fill="#fbfff0" stroke="#1fd2b2" stroke-opacity="0.6" stroke-width="0.8"/><polyline points="69.5,263.6 117.3,262.9 165.1,261.2 212.9,261.7 260.7,261.5 308.5,260.6 356.3,272.7" fill="none" stroke="#a5a650" stroke-width="1.7" stroke-linejoin="round"/><circle cx="69.5" cy="263.6" r="1.8" fill="#fbfff0" stroke="#a5a650" stroke-opacity="0.6" stroke-width="0.8"/><circle cx="117.3" cy="262.9" r="1.8" fill="#fbfff0" stroke="#a5a650" stroke-opacity="0.6" stroke-width="0.8"/><circle cx="165.1" cy="261.2" r="1.8" fill="#fbfff0" stroke="#a5a650" stroke-opacity="0.6" stroke-width="0.8"/><circle cx="212.9" cy="261.7" r="1.8" fill="#fbfff0" stroke="#a5a650" stroke-opacity="0.6" stroke-width="0.8"/><circle cx="260.7" cy="261.5" r="1.8" fill="#fbfff0" stroke="#a5a650" stroke-opacity="0.6" stroke-width="0.8"/><circle cx="308.5" cy="260.6" r="1.8" fill="#fbfff0" stroke="#a5a650" stroke-opacity="0.6" stroke-width="0.8"/><circle cx="356.3" cy="272.7" r="1.8" fill="#fbfff0" stroke="#a5a650" stroke-opacity="0.6" stroke-width="0.8"/><polyline points="69.5,231.4 117.3,245.5 165.1,250.9 212.9,234.0 260.7,233.4 308.5,230.3 356.3,135.1" fill="none" stroke="#ececf0" stroke-width="1.7" stroke-linejoin="round"/><circle cx="69.5" cy="231.4" r="1.8" fill="#fbfff0" stroke="#ececf0" stroke-opacity="0.6" stroke-width="0.8"/><circle cx="117.3" cy="245.5" r="1.8" fill="#fbfff0" stroke="#ececf0" stroke-opacity="0.6" stroke-width="0.8"/><circle cx="165.1" cy="250.9" r="1.8" fill="#fbfff0" stroke="#ececf0" stroke-opacity="0.6" stroke-width="0.8"/><circle cx="212.9" cy="234.0" r="1.8" fill="#fbfff0" stroke="#ececf0" stroke-opacity="0.6" stroke-width="0.8"/><circle cx="260.7" cy="233.4" r="1.8" fill="#fbfff0" stroke="#ececf0" stroke-opacity="0.6" stroke-width="0.8"/><circle cx="308.5" cy="230.3" r="1.8" fill="#fbfff0" stroke="#ececf0" stroke-opacity="0.6" stroke-width="0.8"/><circle cx="356.3" cy="135.1" r="1.8" fill="#fbfff0" stroke="#ececf0" stroke-opacity="0.6" stroke-width="0.8"/><line x1="203.3" y1="368.3" x2="224.3" y2="368.3" stroke="#22d6b4" stroke-opacity="0.5" stroke-width="1.3"/><circle cx="213.8" cy="368.3" r="5.6" fill="#22d6b4" fill-opacity="0.4"/><circle cx="213.8" cy="368.3" r="4.3" fill="#d6fff3"/><text x="228.0" y="371.9" font-size="10" text-anchor="start" fill="#e4e4f0" stroke="#e4e4f0" stroke-width="0.3">2022年</text><line x1="267.9" y1="368.3" x2="288.9" y2="368.3" stroke="#c6d640" stroke-opacity="0.5" stroke-width="1.3"/><circle cx="278.4" cy="368.3" r="5.6" fill="#c6d640" fill-opacity="0.4"/><circle cx="278.4" cy="368.3" r="4.3" fill="#fbffd8"/><text x="292.6" y="371.9" font-size="10" text-anchor="start" fill="#e4e4f0" stroke="#e4e4f0" stroke-width="0.3">2021年</text><line x1="332.5" y1="368.3" x2="353.5" y2="368.3" stroke="#36c4dc" stroke-opacity="0.5" stroke-width="1.3"/><circle cx="343.0" cy="368.3" r="5.6" fill="#36c4dc" fill-opacity="0.4"/><circle cx="343.0" cy="368.3" r="4.3" fill="#e2fbff"/><text x="357.2" y="371.9" font-size="10" text-anchor="start" fill="#e4e4f0" stroke="#e4e4f0" stroke-width="0.3">2020年</text><path d="M68.4 391.7 V548.9 H355.4" fill="none" stroke="#d6d6e6" stroke-width="1.4"/><line x1="63.4" y1="548.9" x2="68.4" y2="548.9" stroke="#d6d6e6" stroke-width="1.2"/><text x="62.4" y="552.3" font-size="10.3" text-anchor="end" fill="#e4e4f0" stroke="#e4e4f0" stroke-width="0.3">0</text><line x1="63.4" y1="522.8" x2="68.4" y2="522.8" stroke="#d6d6e6" stroke-width="1.2"/><text x="62.4" y="526.2" font-size="10.3" text-anchor="end" fill="#e4e4f0" stroke="#e4e4f0" stroke-width="0.3">50,000</text><line x1="63.4" y1="496.7" x2="68.4" y2="496.7" stroke="#d6d6e6" stroke-width="1.2"/><text x="62.4" y="500.1" font-size="10.3" text-anchor="end" fill="#e4e4f0" stroke="#e4e4f0" stroke-width="0.3">100,000</text><line x1="63.4" y1="470.5" x2="68.4" y2="470.5" stroke="#d6d6e6" stroke-width="1.2"/><text x="62.4" y="473.9" font-size="10.3" text-anchor="end" fill="#e4e4f0" stroke="#e4e4f0" stroke-width="0.3">150,000</text><line x1="63.4" y1="444.4" x2="68.4" y2="444.4" stroke="#d6d6e6" stroke-width="1.2"/><text x="62.4" y="447.8" font-size="10.3" text-anchor="end" fill="#e4e4f0" stroke="#e4e4f0" stroke-width="0.3">200,000</text><line x1="63.4" y1="418.3" x2="68.4" y2="418.3" stroke="#d6d6e6" stroke-width="1.2"/><text x="62.4" y="421.7" font-size="10.3" text-anchor="end" fill="#e4e4f0" stroke="#e4e4f0" stroke-width="0.3">250,000</text><line x1="63.4" y1="392.2" x2="68.4" y2="392.2" stroke="#d6d6e6" stroke-width="1.2"/><text x="62.4" y="395.6" font-size="10.3" text-anchor="end" fill="#e4e4f0" stroke="#e4e4f0" stroke-width="0.3">300,000</text><line x1="68.4" y1="548.9" x2="68.4" y2="553.9" stroke="#d6d6e6" stroke-width="1.2"/><text x="68.4" y="564.1" font-size="11" text-anchor="middle" fill="#e4e4f0" stroke="#e4e4f0" stroke-width="0.3">07-24</text><line x1="116.2" y1="548.9" x2="116.2" y2="553.9" stroke="#d6d6e6" stroke-width="1.2"/><text x="116.2" y="564.1" font-size="11" text-anchor="middle" fill="#e4e4f0" stroke="#e4e4f0" stroke-width="0.3">07-25</text><line x1="163.9" y1="548.9" x2="163.9" y2="553.9" stroke="#d6d6e6" stroke-width="1.2"/><text x="163.9" y="564.1" font-size="11" text-anchor="middle" fill="#e4e4f0" stroke="#e4e4f0" stroke-width="0.3">07-26</text><line x1="211.7" y1="548.9" x2="211.7" y2="553.9" stroke="#d6d6e6" stroke-width="1.2"/><text x="211.7" y="564.1" font-size="11" text-anchor="middle" fill="#e4e4f0" stroke="#e4e4f0" stroke-width="0.3">07-27</text><line x1="259.4" y1="548.9" x2="259.4" y2="553.9" stroke="#d6d6e6" stroke-width="1.2"/><text x="259.4" y="564.1" font-size="11" text-anchor="middle" fill="#e4e4f0" stroke="#e4e4f0" stroke-width="0.3">07-28</text><line x1="307.1" y1="548.9" x2="307.1" y2="553.9" stroke="#d6d6e6" stroke-width="1.2"/><text x="307.1" y="564.1" font-size="11" text-anchor="middle" fill="#e4e4f0" stroke="#e4e4f0" stroke-width="0.3">07-29</text><line x1="354.9" y1="548.9" x2="354.9" y2="553.9" stroke="#d6d6e6" stroke-width="1.2"/><text x="354.9" y="564.1" font-size="11" text-anchor="middle" fill="#e4e4f0" stroke="#e4e4f0" stroke-width="0.3">07-30</text><polyline points="68.4,457.6 116.2,461.3 163.9,470.0 211.7,487.2 259.4,479.8 307.1,485.6 354.9,494.6" fill="none" stroke="#1fd8b4" stroke-width="1.7" stroke-linejoin="round"/><circle cx="68.4" cy="457.6" r="1.8" fill="#fbfff0" stroke="#1fd8b4" stroke-opacity="0.6" stroke-width="0.8"/><circle cx="116.2" cy="461.3" r="1.8" fill="#fbfff0" stroke="#1fd8b4" stroke-opacity="0.6" stroke-width="0.8"/><circle cx="163.9" cy="470.0" r="1.8" fill="#fbfff0" stroke="#1fd8b4" stroke-opacity="0.6" stroke-width="0.8"/><circle cx="211.7" cy="487.2" r="1.8" fill="#fbfff0" stroke="#1fd8b4" stroke-opacity="0.6" stroke-width="0.8"/><circle cx="259.4" cy="479.8" r="1.8" fill="#fbfff0" stroke="#1fd8b4" stroke-opacity="0.6" stroke-width="0.8"/><circle cx="307.1" cy="485.6" r="1.8" fill="#fbfff0" stroke="#1fd8b4" stroke-opacity="0.6" stroke-width="0.8"/><circle cx="354.9" cy="494.6" r="1.8" fill="#fbfff0" stroke="#1fd8b4" stroke-opacity="0.6" stroke-width="0.8"/><polyline points="68.4,470.7 116.2,436.4 163.9,438.2 211.7,447.0 259.4,432.9 307.1,446.0 354.9,458.6" fill="none" stroke="#c4d63e" stroke-width="1.7" stroke-linejoin="round"/><circle cx="68.4" cy="470.7" r="1.8" fill="#fbfff0" stroke="#c4d63e" stroke-opacity="0.6" stroke-width="0.8"/><circle cx="116.2" cy="436.4" r="1.8" fill="#fbfff0" stroke="#c4d63e" stroke-opacity="0.6" stroke-width="0.8"/><circle cx="163.9" cy="438.2" r="1.8" fill="#fbfff0" stroke="#c4d63e" stroke-opacity="0.6" stroke-width="0.8"/><circle cx="211.7" cy="447.0" r="1.8" fill="#fbfff0" stroke="#c4d63e" stroke-opacity="0.6" stroke-width="0.8"/><circle cx="259.4" cy="432.9" r="1.8" fill="#fbfff0" stroke="#c4d63e" stroke-opacity="0.6" stroke-width="0.8"/><circle cx="307.1" cy="446.0" r="1.8" fill="#fbfff0" stroke="#c4d63e" stroke-opacity="0.6" stroke-width="0.8"/><circle cx="354.9" cy="458.6" r="1.8" fill="#fbfff0" stroke="#c4d63e" stroke-opacity="0.6" stroke-width="0.8"/><polyline points="68.4,441.1 116.2,522.9 163.9,433.3 211.7,541.5 259.4,549.0 307.1,445.4 354.9,393.6" fill="none" stroke="#34c4dc" stroke-width="1.7" stroke-linejoin="round"/><circle cx="68.4" cy="441.1" r="1.8" fill="#fbfff0" stroke="#34c4dc" stroke-opacity="0.6" stroke-width="0.8"/><circle cx="116.2" cy="522.9" r="1.8" fill="#fbfff0" stroke="#34c4dc" stroke-opacity="0.6" stroke-width="0.8"/><circle cx="163.9" cy="433.3" r="1.8" fill="#fbfff0" stroke="#34c4dc" stroke-opacity="0.6" stroke-width="0.8"/><circle cx="211.7" cy="541.5" r="1.8" fill="#fbfff0" stroke="#34c4dc" stroke-opacity="0.6" stroke-width="0.8"/><circle cx="259.4" cy="549.0" r="1.8" fill="#fbfff0" stroke="#34c4dc" stroke-opacity="0.6" stroke-width="0.8"/><circle cx="307.1" cy="445.4" r="1.8" fill="#fbfff0" stroke="#34c4dc" stroke-opacity="0.6" stroke-width="0.8"/><circle cx="354.9" cy="393.6" r="1.8" fill="#fbfff0" stroke="#34c4dc" stroke-opacity="0.6" stroke-width="0.8"/><clipPath id="c3"><rect x="29.5" y="600" width="362" height="247"/></clipPath><g clip-path="url(#c3)"><path d="M47.4 651.5 V779.5 H373.9" fill="none" stroke="#d6d6e6" stroke-width="1.4"/><line x1="42.4" y1="779.5" x2="47.4" y2="779.5" stroke="#d6d6e6" stroke-width="1.2"/><text x="41.4" y="783.3" font-size="11" text-anchor="end" fill="#e4e4f0" stroke="#e4e4f0" stroke-width="0.3">0</text><line x1="42.4" y1="754.0" x2="47.4" y2="754.0" stroke="#d6d6e6" stroke-width="1.2"/><text x="41.4" y="757.8" font-size="11" text-anchor="end" fill="#e4e4f0" stroke="#e4e4f0" stroke-width="0.3">20</text><line x1="42.4" y1="728.5" x2="47.4" y2="728.5" stroke="#d6d6e6" stroke-width="1.2"/><text x="41.4" y="732.3" font-size="11" text-anchor="end" fill="#e4e4f0" stroke="#e4e4f0" stroke-width="0.3">40</text><line x1="42.4" y1="703.0" x2="47.4" y2="703.0" stroke="#d6d6e6" stroke-width="1.2"/><text x="41.4" y="706.8" font-size="11" text-anchor="end" fill="#e4e4f0" stroke="#e4e4f0" stroke-width="0.3">60</text><line x1="42.4" y1="677.5" x2="47.4" y2="677.5" stroke="#d6d6e6" stroke-width="1.2"/><text x="41.4" y="681.3" font-size="11" text-anchor="end" fill="#e4e4f0" stroke="#e4e4f0" stroke-width="0.3">80</text><line x1="42.4" y1="652.0" x2="47.4" y2="652.0" stroke="#d6d6e6" stroke-width="1.2"/><text x="41.4" y="655.8" font-size="11" text-anchor="end" fill="#e4e4f0" stroke="#e4e4f0" stroke-width="0.3">100</text><line x1="88.2" y1="779.5" x2="88.2" y2="783.5" stroke="#d6d6e6" stroke-width="1.2"/><rect x="61.5" y="654.5" width="12.6" height="124.4" fill="url(#vb)"/><text x="67.8" y="648.3" font-size="10" text-anchor="middle" fill="#e4e4f0" stroke="#e4e4f0" stroke-width="0.3">98.0%</text><text x="69.3" y="788.5" font-size="9.5" text-anchor="end" fill="#e4e4f0" stroke="#e4e4f0" stroke-width="0.3" transform="rotate(-45 69.3 788.5)">南京审计大学</text><line x1="128.9" y1="779.5" x2="128.9" y2="783.5" stroke="#d6d6e6" stroke-width="1.2"/><rect x="102.2" y="658.4" width="12.6" height="120.5" fill="url(#vb)"/><text x="108.5" y="652.2" font-size="10" text-anchor="middle" fill="#e4e4f0" stroke="#e4e4f0" stroke-width="0.3">95.0%</text><text x="110.0" y="788.5" font-size="9.5" text-anchor="end" fill="#e4e4f0" stroke="#e4e4f0" stroke-width="0.3" transform="rotate(-45 110.0 788.5)">黄山学院</text><line x1="169.7" y1="779.5" x2="169.7" y2="783.5" stroke="#d6d6e6" stroke-width="1.2"/><rect x="143.0" y="663.5" width="12.6" height="115.4" fill="url(#vb)"/><text x="149.3" y="657.3" font-size="10" text-anchor="middle" fill="#e4e4f0" stroke="#e4e4f0" stroke-width="0.3">91.0%</text><text x="150.8" y="788.5" font-size="9.5" text-anchor="end" fill="#e4e4f0" stroke="#e4e4f0" stroke-width="0.3" transform="rotate(-45 150.8 788.5)">铜陵学院</text><line x1="210.4" y1="779.5" x2="210.4" y2="783.5" stroke="#d6d6e6" stroke-width="1.2"/><rect x="183.7" y="669.9" width="12.6" height="109.0" fill="url(#vb)"/><text x="190.0" y="663.6" font-size="10" text-anchor="middle" fill="#e4e4f0" stroke="#e4e4f0" stroke-width="0.3">86.0%</text><text x="191.5" y="788.5" font-size="9.5" text-anchor="end" fill="#e4e4f0" stroke="#e4e4f0" stroke-width="0.3" transform="rotate(-45 191.5 788.5)">淮南职业技术学院</text><line x1="251.2" y1="779.5" x2="251.2" y2="783.5" stroke="#d6d6e6" stroke-width="1.2"/><rect x="224.5" y="671.1" width="12.6" height="107.8" fill="url(#vb)"/><text x="230.8" y="664.9" font-size="10" text-anchor="middle" fill="#e4e4f0" stroke="#e4e4f0" stroke-width="0.3">85.0%</text><text x="232.3" y="788.5" font-size="9.5" text-anchor="end" fill="#e4e4f0" stroke="#e4e4f0" stroke-width="0.3" transform="rotate(-45 232.3 788.5)">北京信息科技大学</text><line x1="291.9" y1="779.5" x2="291.9" y2="783.5" stroke="#d6d6e6" stroke-width="1.2"/><rect x="265.2" y="678.8" width="12.6" height="100.1" fill="url(#vb)"/><text x="271.5" y="672.6" font-size="10" text-anchor="middle" fill="#e4e4f0" stroke="#e4e4f0" stroke-width="0.3">79.0%</text><text x="273.0" y="788.5" font-size="9.5" text-anchor="end" fill="#e4e4f0" stroke="#e4e4f0" stroke-width="0.3" transform="rotate(-45 273.0 788.5)">合肥市职工大学</text><line x1="332.6" y1="779.5" x2="332.6" y2="783.5" stroke="#d6d6e6" stroke-width="1.2"/><rect x="306.0" y="680.0" width="12.6" height="98.9" fill="url(#vb)"/><text x="312.3" y="673.8" font-size="10" text-anchor="middle" fill="#e4e4f0" stroke="#e4e4f0" stroke-width="0.3">78.0%</text><text x="313.8" y="788.5" font-size="9.5" text-anchor="end" fill="#e4e4f0" stroke="#e4e4f0" stroke-width="0.3" transform="rotate(-45 313.8 788.5)">安徽审计职业学院</text><line x1="373.4" y1="779.5" x2="373.4" y2="783.5" stroke="#d6d6e6" stroke-width="1.2"/><rect x="346.7" y="680.0" width="12.6" height="98.9" fill="url(#vb)"/><text x="353.0" y="673.8" font-size="10" text-anchor="middle" fill="#e4e4f0" stroke="#e4e4f0" stroke-width="0.3">78.0%</text><text x="354.5" y="788.5" font-size="9.5" text-anchor="end" fill="#e4e4f0" stroke="#e4e4f0" stroke-width="0.3" transform="rotate(-45 354.5 788.5)">合肥职业技术学院</text><line x1="47.4" y1="779.5" x2="47.4" y2="783.5" stroke="#d6d6e6" stroke-width="1.2"/></g><line x1="951.2" y1="627.6" x2="972.2" y2="627.6" stroke="#3a80c0" stroke-opacity="0.5" stroke-width="1.3"/><circle cx="961.7" cy="627.6" r="5.6" fill="#3a80c0" fill-opacity="0.4"/><circle cx="961.7" cy="627.6" r="4.3" fill="#f0f9ff"/><text x="975.9" y="631.2" font-size="10" text-anchor="start" fill="#e4e4f0" stroke="#e4e4f0" stroke-width="0.3">2022年</text><line x1="1015.8" y1="627.6" x2="1036.8" y2="627.6" stroke="#2c40b0" stroke-opacity="0.5" stroke-width="1.3"/><circle cx="1026.3" cy="627.6" r="5.6" fill="#2c40b0" fill-opacity="0.4"/><circle cx="1026.3" cy="627.6" r="4.3" fill="#f6f6ff"/><text x="1040.5" y="631.2" font-size="10" text-anchor="start" fill="#e4e4f0" stroke="#e4e4f0" stroke-width="0.3">2021年</text><line x1="1080.1" y1="627.6" x2="1101.1" y2="627.6" stroke="#2adbe8" stroke-opacity="0.5" stroke-width="1.3"/><circle cx="1090.6" cy="627.6" r="5.6" fill="#2adbe8" fill-opacity="0.4"/><circle cx="1090.6" cy="627.6" r="4.3" fill="#d4ffff"/><text x="1104.8" y="631.2" font-size="10" text-anchor="start" fill="#e4e4f0" stroke="#e4e4f0" stroke-width="0.3">2020年</text><path d="M473.0 682.7 V814.2 H1119.8" fill="none" stroke="#d6d6e6" stroke-width="1.4"/><line x1="468.0" y1="814.2" x2="473.0" y2="814.2" stroke="#d6d6e6" stroke-width="1.2"/><text x="467.5" y="816.9" font-size="10.2" text-anchor="end" fill="#e4e4f0" stroke="#e4e4f0" stroke-width="0.3">0</text><line x1="468.0" y1="788.0" x2="473.0" y2="788.0" stroke="#d6d6e6" stroke-width="1.2"/><text x="467.5" y="790.7" font-size="10.2" text-anchor="end" fill="#e4e4f0" stroke="#e4e4f0" stroke-width="0.3">5,000,000</text><line x1="468.0" y1="761.8" x2="473.0" y2="761.8" stroke="#d6d6e6" stroke-width="1.2"/><text x="467.5" y="764.5" font-size="10.2" text-anchor="end" fill="#e4e4f0" stroke="#e4e4f0" stroke-width="0.3">10,000,000</text><line x1="468.0" y1="735.6" x2="473.0" y2="735.6" stroke="#d6d6e6" stroke-width="1.2"/><text x="467.5" y="738.3" font-size="10.2" text-anchor="end" fill="#e4e4f0" stroke="#e4e4f0" stroke-width="0.3">15,000,000</text><line x1="468.0" y1="709.4" x2="473.0" y2="709.4" stroke="#d6d6e6" stroke-width="1.2"/><text x="467.5" y="712.1" font-size="10.2" text-anchor="end" fill="#e4e4f0" stroke="#e4e4f0" stroke-width="0.3">20,000,000</text><line x1="468.0" y1="683.2" x2="473.0" y2="683.2" stroke="#d6d6e6" stroke-width="1.2"/><text x="467.5" y="685.9" font-size="10.2" text-anchor="end" fill="#e4e4f0" stroke="#e4e4f0" stroke-width="0.3">25,000,000</text><line x1="473.0" y1="814.2" x2="473.0" y2="819.2" stroke="#d6d6e6" stroke-width="1.2"/><text x="473.0" y="828.4" font-size="9.9" text-anchor="middle" fill="#e4e4f0" stroke="#e4e4f0" stroke-width="0.3">1月份</text><line x1="531.8" y1="814.2" x2="531.8" y2="819.2" stroke="#d6d6e6" stroke-width="1.2"/><text x="531.8" y="828.4" font-size="9.9" text-anchor="middle" fill="#e4e4f0" stroke="#e4e4f0" stroke-width="0.3">2月份</text><line x1="590.5" y1="814.2" x2="590.5" y2="819.2" stroke="#d6d6e6" stroke-width="1.2"/><text x="590.5" y="828.4" font-size="9.9" text-anchor="middle" fill="#e4e4f0" stroke="#e4e4f0" stroke-width="0.3">3月份</text><line x1="649.3" y1="814.2" x2="649.3" y2="819.2" stroke="#d6d6e6" stroke-width="1.2"/><text x="649.3" y="828.4" font-size="9.9" text-anchor="middle" fill="#e4e4f0" stroke="#e4e4f0" stroke-width="0.3">4月份</text><line x1="708.0" y1="814.2" x2="708.0" y2="819.2" stroke="#d6d6e6" stroke-width="1.2"/><text x="708.0" y="828.4" font-size="9.9" text-anchor="middle" fill="#e4e4f0" stroke="#e4e4f0" stroke-width="0.3">5月份</text><line x1="766.8" y1="814.2" x2="766.8" y2="819.2" stroke="#d6d6e6" stroke-width="1.2"/><text x="766.8" y="828.4" font-size="9.9" text-anchor="middle" fill="#e4e4f0" stroke="#e4e4f0" stroke-width="0.3">6月份</text><line x1="825.5" y1="814.2" x2="825.5" y2="819.2" stroke="#d6d6e6" stroke-width="1.2"/><text x="825.5" y="828.4" font-size="9.9" text-anchor="middle" fill="#e4e4f0" stroke="#e4e4f0" stroke-width="0.3">7月份</text><line x1="884.3" y1="814.2" x2="884.3" y2="819.2" stroke="#d6d6e6" stroke-width="1.2"/><text x="884.3" y="828.4" font-size="9.9" text-anchor="middle" fill="#e4e4f0" stroke="#e4e4f0" stroke-width="0.3">8月份</text><line x1="943.0" y1="814.2" x2="943.0" y2="819.2" stroke="#d6d6e6" stroke-width="1.2"/><text x="943.0" y="828.4" font-size="9.9" text-anchor="middle" fill="#e4e4f0" stroke="#e4e4f0" stroke-width="0.3">9月份</text><line x1="1001.8" y1="814.2" x2="1001.8" y2="819.2" stroke="#d6d6e6" stroke-width="1.2"/><text x="1001.8" y="828.4" font-size="9.9" text-anchor="middle" fill="#e4e4f0" stroke="#e4e4f0" stroke-width="0.3">10月份</text><line x1="1060.5" y1="814.2" x2="1060.5" y2="819.2" stroke="#d6d6e6" stroke-width="1.2"/><text x="1060.5" y="828.4" font-size="9.9" text-anchor="middle" fill="#e4e4f0" stroke="#e4e4f0" stroke-width="0.3">11月份</text><line x1="1119.3" y1="814.2" x2="1119.3" y2="819.2" stroke="#d6d6e6" stroke-width="1.2"/><text x="1119.3" y="828.4" font-size="9.9" text-anchor="middle" fill="#e4e4f0" stroke="#e4e4f0" stroke-width="0.3">12月份</text><path d="M473.0 804.5 L531.8 814.3 L590.5 814.3 L649.3 814.3 L708.0 814.3 L766.8 814.3 L825.5 814.3 L884.3 814.3 L943.0 814.3 L1001.8 814.3 L1060.5 814.3 L1119.3 814.3 L1119.3 814.2 L473.0 814.2 Z" fill="url(#a22)"/><polyline points="473.0,804.5 531.8,814.3 590.5,814.3 649.3,814.3 708.0,814.3 766.8,814.3 825.5,814.3 884.3,814.3 943.0,814.3 1001.8,814.3 1060.5,814.3 1119.3,814.3" fill="none" stroke="#3aa0d8" stroke-width="2" stroke-linejoin="round"/><circle cx="473.0" cy="804.5" r="1.8" fill="#fbfff0" stroke="#3aa0d8" stroke-opacity="0.6" stroke-width="0.8"/><circle cx="531.8" cy="814.3" r="1.8" fill="#fbfff0" stroke="#3aa0d8" stroke-opacity="0.6" stroke-width="0.8"/><circle cx="590.5" cy="814.3" r="1.8" fill="#fbfff0" stroke="#3aa0d8" stroke-opacity="0.6" stroke-width="0.8"/><circle cx="649.3" cy="814.3" r="1.8" fill="#fbfff0" stroke="#3aa0d8" stroke-opacity="0.6" stroke-width="0.8"/><circle cx="708.0" cy="814.3" r="1.8" fill="#fbfff0" stroke="#3aa0d8" stroke-opacity="0.6" stroke-width="0.8"/><circle cx="766.8" cy="814.3" r="1.8" fill="#fbfff0" stroke="#3aa0d8" stroke-opacity="0.6" stroke-width="0.8"/><circle cx="825.5" cy="814.3" r="1.8" fill="#fbfff0" stroke="#3aa0d8" stroke-opacity="0.6" stroke-width="0.8"/><circle cx="884.3" cy="814.3" r="1.8" fill="#fbfff0" stroke="#3aa0d8" stroke-opacity="0.6" stroke-width="0.8"/><circle cx="943.0" cy="814.3" r="1.8" fill="#fbfff0" stroke="#3aa0d8" stroke-opacity="0.6" stroke-width="0.8"/><circle cx="1001.8" cy="814.3" r="1.8" fill="#fbfff0" stroke="#3aa0d8" stroke-opacity="0.6" stroke-width="0.8"/><circle cx="1060.5" cy="814.3" r="1.8" fill="#fbfff0" stroke="#3aa0d8" stroke-opacity="0.6" stroke-width="0.8"/><circle cx="1119.3" cy="814.3" r="1.8" fill="#fbfff0" stroke="#3aa0d8" stroke-opacity="0.6" stroke-width="0.8"/><path d="M473.0 797.6 L531.8 805.0 L590.5 797.6 L649.3 793.6 L708.0 796.1 L766.8 798.1 L825.5 800.6 L884.3 779.9 L943.0 771.0 L1001.8 758.2 L1060.5 759.7 L1119.3 772.0 L1119.3 814.2 L473.0 814.2 Z" fill="url(#a21)"/><polyline points="473.0,797.6 531.8,805.0 590.5,797.6 649.3,793.6 708.0,796.1 766.8,798.1 825.5,800.6 884.3,779.9 943.0,771.0 1001.8,758.2 1060.5,759.7 1119.3,772.0" fill="none" stroke="#3044d4" stroke-width="2" stroke-linejoin="round"/><circle cx="473.0" cy="797.6" r="1.8" fill="#fbfff0" stroke="#3044d4" stroke-opacity="0.6" stroke-width="0.8"/><circle cx="531.8" cy="805.0" r="1.8" fill="#fbfff0" stroke="#3044d4" stroke-opacity="0.6" stroke-width="0.8"/><circle cx="590.5" cy="797.6" r="1.8" fill="#fbfff0" stroke="#3044d4" stroke-opacity="0.6" stroke-width="0.8"/><circle cx="649.3" cy="793.6" r="1.8" fill="#fbfff0" stroke="#3044d4" stroke-opacity="0.6" stroke-width="0.8"/><circle cx="708.0" cy="796.1" r="1.8" fill="#fbfff0" stroke="#3044d4" stroke-opacity="0.6" stroke-width="0.8"/><circle cx="766.8" cy="798.1" r="1.8" fill="#fbfff0" stroke="#3044d4" stroke-opacity="0.6" stroke-width="0.8"/><circle cx="825.5" cy="800.6" r="1.8" fill="#fbfff0" stroke="#3044d4" stroke-opacity="0.6" stroke-width="0.8"/><circle cx="884.3" cy="779.9" r="1.8" fill="#fbfff0" stroke="#3044d4" stroke-opacity="0.6" stroke-width="0.8"/><circle cx="943.0" cy="771.0" r="1.8" fill="#fbfff0" stroke="#3044d4" stroke-opacity="0.6" stroke-width="0.8"/><circle cx="1001.8" cy="758.2" r="1.8" fill="#fbfff0" stroke="#3044d4" stroke-opacity="0.6" stroke-width="0.8"/><circle cx="1060.5" cy="759.7" r="1.8" fill="#fbfff0" stroke="#3044d4" stroke-opacity="0.6" stroke-width="0.8"/><circle cx="1119.3" cy="772.0" r="1.8" fill="#fbfff0" stroke="#3044d4" stroke-opacity="0.6" stroke-width="0.8"/><path d="M473.0 774.5 L531.8 758.7 L590.5 703.6 L649.3 695.3 L708.0 725.3 L766.8 790.7 L825.5 800.1 L884.3 796.1 L943.0 798.6 L1001.8 796.1 L1060.5 795.1 L1119.3 791.2 L1119.3 814.2 L473.0 814.2 Z" fill="url(#a20)"/><polyline points="473.0,774.5 531.8,758.7 590.5,703.6 649.3,695.3 708.0,725.3 766.8,790.7 825.5,800.1 884.3,796.1 943.0,798.6 1001.8,796.1 1060.5,795.1 1119.3,791.2" fill="none" stroke="#2cd8e6" stroke-width="2" stroke-linejoin="round"/><circle cx="473.0" cy="774.5" r="1.8" fill="#fbfff0" stroke="#2cd8e6" stroke-opacity="0.6" stroke-width="0.8"/><circle cx="531.8" cy="758.7" r="1.8" fill="#fbfff0" stroke="#2cd8e6" stroke-opacity="0.6" stroke-width="0.8"/><circle cx="590.5" cy="703.6" r="1.8" fill="#fbfff0" stroke="#2cd8e6" stroke-opacity="0.6" stroke-width="0.8"/><circle cx="649.3" cy="695.3" r="1.8" fill="#fbfff0" stroke="#2cd8e6" stroke-opacity="0.6" stroke-width="0.8"/><circle cx="708.0" cy="725.3" r="1.8" fill="#fbfff0" stroke="#2cd8e6" stroke-opacity="0.6" stroke-width="0.8"/><circle cx="766.8" cy="790.7" r="1.8" fill="#fbfff0" stroke="#2cd8e6" stroke-opacity="0.6" stroke-width="0.8"/><circle cx="825.5" cy="800.1" r="1.8" fill="#fbfff0" stroke="#2cd8e6" stroke-opacity="0.6" stroke-width="0.8"/><circle cx="884.3" cy="796.1" r="1.8" fill="#fbfff0" stroke="#2cd8e6" stroke-opacity="0.6" stroke-width="0.8"/><circle cx="943.0" cy="798.6" r="1.8" fill="#fbfff0" stroke="#2cd8e6" stroke-opacity="0.6" stroke-width="0.8"/><circle cx="1001.8" cy="796.1" r="1.8" fill="#fbfff0" stroke="#2cd8e6" stroke-opacity="0.6" stroke-width="0.8"/><circle cx="1060.5" cy="795.1" r="1.8" fill="#fbfff0" stroke="#2cd8e6" stroke-opacity="0.6" stroke-width="0.8"/><circle cx="1119.3" cy="791.2" r="1.8" fill="#fbfff0" stroke="#2cd8e6" stroke-opacity="0.6" stroke-width="0.8"/><path d="M1273.6 112.4 V289.7 H1491.2" fill="none" stroke="#d6d6e6" stroke-width="1.4"/><line x1="1269.6" y1="112.9" x2="1273.6" y2="112.9" stroke="#d6d6e6" stroke-width="1.2"/><line x1="1269.6" y1="135.0" x2="1273.6" y2="135.0" stroke="#d6d6e6" stroke-width="1.2"/><line x1="1269.6" y1="157.1" x2="1273.6" y2="157.1" stroke="#d6d6e6" stroke-width="1.2"/><line x1="1269.6" y1="179.2" x2="1273.6" y2="179.2" stroke="#d6d6e6" stroke-width="1.2"/><line x1="1269.6" y1="201.3" x2="1273.6" y2="201.3" stroke="#d6d6e6" stroke-width="1.2"/><line x1="1269.6" y1="223.4" x2="1273.6" y2="223.4" stroke="#d6d6e6" stroke-width="1.2"/><line x1="1269.6" y1="245.5" x2="1273.6" y2="245.5" stroke="#d6d6e6" stroke-width="1.2"/><line x1="1269.6" y1="267.6" x2="1273.6" y2="267.6" stroke="#d6d6e6" stroke-width="1.2"/><line x1="1269.6" y1="289.7" x2="1273.6" y2="289.7" stroke="#d6d6e6" stroke-width="1.2"/><line x1="1273.6" y1="289.7" x2="1273.6" y2="294.2" stroke="#d6d6e6" stroke-width="1.2"/><text x="1273.6" y="302.7" font-size="10" text-anchor="middle" fill="#e4e4f0" stroke="#e4e4f0" stroke-width="0.3">0</text><line x1="1309.8" y1="289.7" x2="1309.8" y2="294.2" stroke="#d6d6e6" stroke-width="1.2"/><text x="1309.8" y="302.7" font-size="10" text-anchor="middle" fill="#e4e4f0" stroke="#e4e4f0" stroke-width="0.3">200</text><line x1="1346.0" y1="289.7" x2="1346.0" y2="294.2" stroke="#d6d6e6" stroke-width="1.2"/><text x="1346.0" y="302.7" font-size="10" text-anchor="middle" fill="#e4e4f0" stroke="#e4e4f0" stroke-width="0.3">400</text><line x1="1382.2" y1="289.7" x2="1382.2" y2="294.2" stroke="#d6d6e6" stroke-width="1.2"/><text x="1382.2" y="302.7" font-size="10" text-anchor="middle" fill="#e4e4f0" stroke="#e4e4f0" stroke-width="0.3">600</text><line x1="1418.3" y1="289.7" x2="1418.3" y2="294.2" stroke="#d6d6e6" stroke-width="1.2"/><text x="1418.3" y="302.7" font-size="10" text-anchor="middle" fill="#e4e4f0" stroke="#e4e4f0" stroke-width="0.3">800</text><line x1="1454.5" y1="289.7" x2="1454.5" y2="294.2" stroke="#d6d6e6" stroke-width="1.2"/><text x="1454.5" y="302.7" font-size="10" text-anchor="middle" fill="#e4e4f0" stroke="#e4e4f0" stroke-width="0.3">1,000</text><line x1="1490.7" y1="289.7" x2="1490.7" y2="294.2" stroke="#d6d6e6" stroke-width="1.2"/><text x="1490.7" y="302.7" font-size="10" text-anchor="middle" fill="#e4e4f0" stroke="#e4e4f0" stroke-width="0.3">1,200</text><rect x="1274.3" y="117.2" width="36.6" height="12" fill="url(#hb1)"/><text x="1266.6" y="126.2" font-size="9.6" text-anchor="end" fill="#e4e4f0" stroke="#e4e4f0" stroke-width="0.3">皖西学院</text><text x="1314.5" y="126.2" font-size="10.3" text-anchor="start" fill="#e4e4f0" stroke="#e4e4f0" stroke-width="0.3">206</text><rect x="1274.3" y="139.2" width="36.9" height="12" fill="url(#hb1)"/><text x="1266.6" y="148.2" font-size="9.6" text-anchor="end" fill="#e4e4f0" stroke="#e4e4f0" stroke-width="0.3">安徽师范大学</text><text x="1314.8" y="148.3" font-size="10.3" text-anchor="start" fill="#e4e4f0" stroke="#e4e4f0" stroke-width="0.3">208</text><rect x="1274.3" y="161.3" width="37.8" height="12" fill="url(#hb1)"/><text x="1266.6" y="170.3" font-size="9.6" text-anchor="end" fill="#e4e4f0" stroke="#e4e4f0" stroke-width="0.3">安徽大学</text><text x="1315.7" y="170.4" font-size="10.3" text-anchor="start" fill="#e4e4f0" stroke="#e4e4f0" stroke-width="0.3">213</text><rect x="1274.3" y="183.4" width="41.1" height="12" fill="url(#hb1)"/><text x="1266.6" y="192.4" font-size="9.6" text-anchor="end" fill="#e4e4f0" stroke="#e4e4f0" stroke-width="0.3">淮北师范大学</text><text x="1319.0" y="192.5" font-size="10.3" text-anchor="start" fill="#e4e4f0" stroke="#e4e4f0" stroke-width="0.3">231</text><rect x="1274.3" y="205.5" width="48.0" height="12" fill="url(#hb1)"/><text x="1266.6" y="214.5" font-size="9.6" text-anchor="end" fill="#e4e4f0" stroke="#e4e4f0" stroke-width="0.3">淮南联合大学</text><text x="1325.9" y="214.6" font-size="10.3" text-anchor="start" fill="#e4e4f0" stroke="#e4e4f0" stroke-width="0.3">269</text><rect x="1274.3" y="227.6" width="81.4" height="12" fill="url(#hb1)"/><text x="1266.6" y="236.6" font-size="9.6" text-anchor="end" fill="#e4e4f0" stroke="#e4e4f0" stroke-width="0.3">文才学堂</text><text x="1359.3" y="236.7" font-size="10.3" text-anchor="start" fill="#e4e4f0" stroke="#e4e4f0" stroke-width="0.3">454</text><rect x="1274.3" y="249.7" width="82.3" height="12" fill="url(#hb1)"/><text x="1266.6" y="258.7" font-size="9.6" text-anchor="end" fill="#e4e4f0" stroke="#e4e4f0" stroke-width="0.3">安徽农业大学</text><text x="1360.2" y="258.8" font-size="10.3" text-anchor="start" fill="#e4e4f0" stroke="#e4e4f0" stroke-width="0.3">459</text><rect x="1274.3" y="271.8" width="196.9" height="12" fill="url(#hb1)"/><text x="1266.6" y="280.8" font-size="9.6" text-anchor="end" fill="#e4e4f0" stroke="#e4e4f0" stroke-width="0.3">安徽开放大学</text><text x="1474.8" y="280.9" font-size="10.3" text-anchor="start" fill="#e4e4f0" stroke="#e4e4f0" stroke-width="0.3">1092</text><path d="M1271.0 379.6 V569.2 H1498.2" fill="none" stroke="#d6d6e6" stroke-width="1.4"/><line x1="1267.0" y1="380.1" x2="1271.0" y2="380.1" stroke="#d6d6e6" stroke-width="1.2"/><line x1="1267.0" y1="403.7" x2="1271.0" y2="403.7" stroke="#d6d6e6" stroke-width="1.2"/><line x1="1267.0" y1="427.4" x2="1271.0" y2="427.4" stroke="#d6d6e6" stroke-width="1.2"/><line x1="1267.0" y1="451.0" x2="1271.0" y2="451.0" stroke="#d6d6e6" stroke-width="1.2"/><line x1="1267.0" y1="474.7" x2="1271.0" y2="474.7" stroke="#d6d6e6" stroke-width="1.2"/><line x1="1267.0" y1="498.3" x2="1271.0" y2="498.3" stroke="#d6d6e6" stroke-width="1.2"/><line x1="1267.0" y1="521.9" x2="1271.0" y2="521.9" stroke="#d6d6e6" stroke-width="1.2"/><line x1="1267.0" y1="545.6" x2="1271.0" y2="545.6" stroke="#d6d6e6" stroke-width="1.2"/><line x1="1267.0" y1="569.2" x2="1271.0" y2="569.2" stroke="#d6d6e6" stroke-width="1.2"/><line x1="1271.0" y1="569.2" x2="1271.0" y2="573.7" stroke="#d6d6e6" stroke-width="1.2"/><text x="1271.0" y="583.0" font-size="10" text-anchor="middle" fill="#e4e4f0" stroke="#e4e4f0" stroke-width="0.3">0</text><line x1="1316.3" y1="569.2" x2="1316.3" y2="573.7" stroke="#d6d6e6" stroke-width="1.2"/><text x="1316.3" y="583.0" font-size="10" text-anchor="middle" fill="#e4e4f0" stroke="#e4e4f0" stroke-width="0.3">10,000</text><line x1="1361.7" y1="569.2" x2="1361.7" y2="573.7" stroke="#d6d6e6" stroke-width="1.2"/><text x="1361.7" y="583.0" font-size="10" text-anchor="middle" fill="#e4e4f0" stroke="#e4e4f0" stroke-width="0.3">20,000</text><line x1="1407.0" y1="569.2" x2="1407.0" y2="573.7" stroke="#d6d6e6" stroke-width="1.2"/><text x="1407.0" y="583.0" font-size="10" text-anchor="middle" fill="#e4e4f0" stroke="#e4e4f0" stroke-width="0.3">30,000</text><line x1="1452.4" y1="569.2" x2="1452.4" y2="573.7" stroke="#d6d6e6" stroke-width="1.2"/><text x="1452.4" y="583.0" font-size="10" text-anchor="middle" fill="#e4e4f0" stroke="#e4e4f0" stroke-width="0.3">40,000</text><line x1="1497.7" y1="569.2" x2="1497.7" y2="573.7" stroke="#d6d6e6" stroke-width="1.2"/><text x="1497.7" y="583.0" font-size="10" text-anchor="middle" fill="#e4e4f0" stroke="#e4e4f0" stroke-width="0.3">50,000</text><rect x="1271.7" y="385.6" width="40.0" height="12" fill="url(#hb2)"/><text x="1264.0" y="394.6" font-size="9.6" text-anchor="end" fill="#e4e4f0" stroke="#e4e4f0" stroke-width="0.3">滁州学院</text><text x="1315.3" y="394.7" font-size="10.3" text-anchor="start" fill="#e4e4f0" stroke="#e4e4f0" stroke-width="0.3">8975</text><rect x="1271.7" y="409.3" width="46.1" height="12" fill="url(#hb2)"/><text x="1264.0" y="418.3" font-size="9.6" text-anchor="end" fill="#e4e4f0" stroke="#e4e4f0" stroke-width="0.3">皖西学院</text><text x="1321.4" y="418.4" font-size="10.3" text-anchor="start" fill="#e4e4f0" stroke="#e4e4f0" stroke-width="0.3">10331</text><rect x="1271.7" y="432.9" width="54.5" height="12" fill="url(#hb2)"/><text x="1264.0" y="441.9" font-size="9.6" text-anchor="end" fill="#e4e4f0" stroke="#e4e4f0" stroke-width="0.3">安徽大学</text><text x="1329.8" y="442.0" font-size="10.3" text-anchor="start" fill="#e4e4f0" stroke="#e4e4f0" stroke-width="0.3">12172</text><rect x="1271.7" y="456.5" width="56.7" height="12" fill="url(#hb2)"/><text x="1264.0" y="465.5" font-size="9.6" text-anchor="end" fill="#e4e4f0" stroke="#e4e4f0" stroke-width="0.3">安徽农业大学</text><text x="1332.0" y="465.6" font-size="10.3" text-anchor="start" fill="#e4e4f0" stroke="#e4e4f0" stroke-width="0.3">12669</text><rect x="1271.7" y="480.2" width="57.4" height="12" fill="url(#hb2)"/><text x="1264.0" y="489.2" font-size="9.6" text-anchor="end" fill="#e4e4f0" stroke="#e4e4f0" stroke-width="0.3">文才学堂</text><text x="1332.7" y="489.3" font-size="10.3" text-anchor="start" fill="#e4e4f0" stroke="#e4e4f0" stroke-width="0.3">12821</text><rect x="1271.7" y="503.8" width="62.5" height="12" fill="url(#hb2)"/><text x="1264.0" y="512.8" font-size="9.6" text-anchor="end" fill="#e4e4f0" stroke="#e4e4f0" stroke-width="0.3">淮南联合大学</text><text x="1337.8" y="512.9" font-size="10.3" text-anchor="start" fill="#e4e4f0" stroke="#e4e4f0" stroke-width="0.3">13933</text><rect x="1271.7" y="527.4" width="80.3" height="12" fill="url(#hb2)"/><text x="1264.0" y="536.4" font-size="9.6" text-anchor="end" fill="#e4e4f0" stroke="#e4e4f0" stroke-width="0.3">淮北师范大学</text><text x="1355.6" y="536.5" font-size="10.3" text-anchor="start" fill="#e4e4f0" stroke="#e4e4f0" stroke-width="0.3">17862</text><rect x="1271.7" y="551.1" width="185.9" height="12" fill="url(#hb2)"/><text x="1264.0" y="560.1" font-size="9.6" text-anchor="end" fill="#e4e4f0" stroke="#e4e4f0" stroke-width="0.3">安徽开放大学</text><text x="1461.2" y="560.2" font-size="10.3" text-anchor="start" fill="#e4e4f0" stroke="#e4e4f0" stroke-width="0.3">41152</text><path d="M601.05 406.30 L601.05 311.80 A94.50 94.50 0 0 1 655.96 329.39 Z" fill="#2f8beb"/><path d="M601.05 406.30 L655.96 329.39 A94.50 94.50 0 0 1 671.26 343.05 Z" fill="#1840e6"/><path d="M601.05 406.30 L671.26 343.05 A94.50 94.50 0 0 1 676.86 349.89 Z" fill="#34e2e2"/><path d="M601.05 406.30 L676.86 349.89 A94.50 94.50 0 1 1 517.71 361.76 Z" fill="#1fa9e1"/><path d="M601.05 406.30 L517.71 361.76 A94.50 94.50 0 0 1 590.27 312.42 Z" fill="#c724ef"/><path d="M601.05 406.30 L590.27 312.42 A94.50 94.50 0 0 1 601.05 311.80 Z" fill="#f9b50f"/><polyline points="630.0,314.0 645.3,303.7 660.0,303.7" fill="none" stroke="#2f8beb" stroke-opacity="0.55" stroke-width="1.1"/><text x="663.0" y="307.1" font-size="9.6" text-anchor="start" fill="#ececf4" stroke="#ececf4" stroke-width="0.3">参考资料: 9.87%</text><polyline points="664.0,332.5 672.5,325.1 686.5,325.1" fill="none" stroke="#1840e6" stroke-opacity="0.55" stroke-width="1.1"/><text x="689.4" y="328.5" font-size="9.6" text-anchor="start" fill="#ececf4" stroke="#ececf4" stroke-width="0.3">基本信息: 3.46%</text><polyline points="672.5,343.7 679.0,337.6 696.0,337.6" fill="none" stroke="#34e2e2" stroke-opacity="0.7" stroke-width="1.1"/><text x="698.9" y="341.0" font-size="9.6" text-anchor="start" fill="#ececf4" stroke="#ececf4" stroke-width="0.3">其他: 1.49%</text><polyline points="609.7,501.0 633.5,512.3 650.0,512.3" fill="none" stroke="#1fa9e1" stroke-opacity="0.55" stroke-width="1.1"/><text x="653.0" y="515.7" font-size="9.6" text-anchor="start" fill="#ececf4" stroke="#ececf4" stroke-width="0.3">视频资源: 68.00%</text><polyline points="548.7,327.5 538.5,316.6 525.0,316.6" fill="none" stroke="#c724ef" stroke-opacity="0.85" stroke-width="1.1"/><text x="521.6" y="320.0" font-size="9.6" text-anchor="end" fill="#ececf4" stroke="#ececf4" stroke-width="0.3">文本辅导: 15.37%</text><polyline points="596.0,312.0 572.4,298.0 552.8,298.0" fill="none" stroke="#f9b50f" stroke-opacity="0.85" stroke-width="1.1"/><text x="548.7" y="301.4" font-size="9.6" text-anchor="end" fill="#ececf4" stroke="#ececf4" stroke-width="0.3">作业: 1.82%</text><path d="M964.50 406.30 L964.50 311.50 A94.80 94.80 0 0 1 999.67 318.27 Z" fill="#1d4a78"/><path d="M964.50 406.30 L999.67 318.27 A94.80 94.80 0 1 1 872.09 385.16 Z" fill="#1db1e8"/><path d="M964.50 406.30 L872.09 385.16 A94.80 94.80 0 0 1 887.91 350.43 Z" fill="#168ab0"/><path d="M964.50 406.30 L887.91 350.43 A94.80 94.80 0 0 1 933.29 316.79 Z" fill="#e010e8"/><path d="M964.50 406.30 L933.29 316.79 A94.80 94.80 0 0 1 964.50 311.50 Z" fill="#f9b50f"/><polyline points="982.5,313.0 1000.0,300.3 1043.0,300.3" fill="none" stroke="#1a3466" stroke-opacity="0.55" stroke-width="1.1"/><text x="1046.5" y="303.7" font-size="9.6" text-anchor="start" fill="#ececf4" stroke="#ececf4" stroke-width="0.3">1星: 6.05%</text><polyline points="1009.0,490.8 1019.9,501.2 1032.0,501.2" fill="none" stroke="#5a80b8" stroke-opacity="0.7" stroke-width="1.1"/><text x="1061.8" y="504.0" font-size="9.6" text-anchor="start" fill="#ececf4" stroke="#ececf4" stroke-width="0.3">5星: 72.53%</text><polyline points="881.4,367.5 869.5,360.7 858.0,360.7" fill="none" stroke="#168ab0" stroke-opacity="0.55" stroke-width="1.1"/><text x="854.3" y="364.1" font-size="9.6" text-anchor="end" fill="#ececf4" stroke="#ececf4" stroke-width="0.3">3星: 6.45%</text><polyline points="905.0,327.5 898.3,319.7 886.0,319.7" fill="none" stroke="#e010e8" stroke-opacity="0.85" stroke-width="1.1"/><text x="882.0" y="323.1" font-size="9.6" text-anchor="end" fill="#ececf4" stroke="#ececf4" stroke-width="0.3">4星: 9.63%</text><polyline points="946.5,312.9 925.5,300.3 913.6,300.3" fill="none" stroke="#f9b50f" stroke-opacity="0.85" stroke-width="1.1"/><text x="909.2" y="303.7" font-size="9.6" text-anchor="end" fill="#ececf4" stroke="#ececf4" stroke-width="0.3">2星: 5.34%</text></svg>
</body></html>
